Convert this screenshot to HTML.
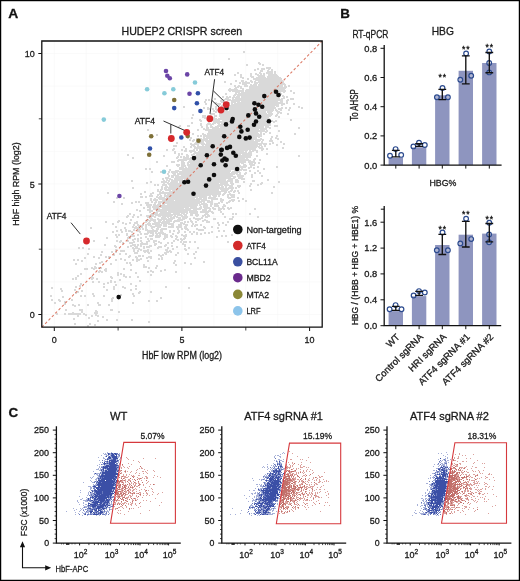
<!DOCTYPE html><html><head><meta charset="utf-8"><style>html,body{margin:0;padding:0;background:#fff;} svg{display:block} text{font-family:"Liberation Sans", sans-serif;stroke:#1a1a1a;stroke-width:0.3px;} svg{will-change:transform}</style></head><body>
<svg width="520" height="581" viewBox="0 0 520 581">
<defs><filter id="soft" x="-10%" y="-10%" width="120%" height="120%"><feGaussianBlur stdDeviation="0.35"/></filter></defs>
<rect x="0" y="0" width="520" height="581" fill="#fff"/>
<g>
<line x1="54.3" y1="41.0" x2="54.3" y2="327.2" stroke="#f7f7f7" stroke-width="0.6"/>
<line x1="41.8" y1="314.5" x2="322.2" y2="314.5" stroke="#f7f7f7" stroke-width="0.6"/>
<line x1="86.2" y1="41.0" x2="86.2" y2="327.2" stroke="#f7f7f7" stroke-width="0.6"/>
<line x1="41.8" y1="281.9" x2="322.2" y2="281.9" stroke="#f7f7f7" stroke-width="0.6"/>
<line x1="118.1" y1="41.0" x2="118.1" y2="327.2" stroke="#f7f7f7" stroke-width="0.6"/>
<line x1="41.8" y1="249.2" x2="322.2" y2="249.2" stroke="#f7f7f7" stroke-width="0.6"/>
<line x1="150.0" y1="41.0" x2="150.0" y2="327.2" stroke="#f7f7f7" stroke-width="0.6"/>
<line x1="41.8" y1="216.6" x2="322.2" y2="216.6" stroke="#f7f7f7" stroke-width="0.6"/>
<line x1="181.9" y1="41.0" x2="181.9" y2="327.2" stroke="#f7f7f7" stroke-width="0.6"/>
<line x1="41.8" y1="184.0" x2="322.2" y2="184.0" stroke="#f7f7f7" stroke-width="0.6"/>
<line x1="213.9" y1="41.0" x2="213.9" y2="327.2" stroke="#f7f7f7" stroke-width="0.6"/>
<line x1="41.8" y1="151.4" x2="322.2" y2="151.4" stroke="#f7f7f7" stroke-width="0.6"/>
<line x1="245.8" y1="41.0" x2="245.8" y2="327.2" stroke="#f7f7f7" stroke-width="0.6"/>
<line x1="41.8" y1="118.8" x2="322.2" y2="118.8" stroke="#f7f7f7" stroke-width="0.6"/>
<line x1="277.7" y1="41.0" x2="277.7" y2="327.2" stroke="#f7f7f7" stroke-width="0.6"/>
<line x1="41.8" y1="86.1" x2="322.2" y2="86.1" stroke="#f7f7f7" stroke-width="0.6"/>
<line x1="309.6" y1="41.0" x2="309.6" y2="327.2" stroke="#f7f7f7" stroke-width="0.6"/>
<line x1="41.8" y1="53.5" x2="322.2" y2="53.5" stroke="#f7f7f7" stroke-width="0.6"/>
<path fill="#d9d9d9" d="M243 51h2v1h-2zM243 52h2v1h-2zM228 58h2v1h-2zM228 59h2v1h-2zM258 62h2v1h-2zM258 63h3v1h-3zM246 64h2v1h-2zM259 64h2v1h-2zM262 64h2v1h-2zM246 65h2v1h-2zM262 65h2v1h-2zM266 67h5v1h-5zM257 68h2v1h-2zM261 68h4v1h-4zM266 68h5v1h-5zM254 69h2v1h-2zM257 69h2v1h-2zM261 69h4v1h-4zM268 69h2v1h-2zM271 69h2v1h-2zM254 70h2v1h-2zM260 70h3v1h-3zM267 70h2v1h-2zM271 70h2v1h-2zM260 71h3v1h-3zM267 71h6v1h-6zM274 71h2v1h-2zM237 72h2v1h-2zM259 72h2v1h-2zM266 72h7v1h-7zM274 72h2v1h-2zM237 73h2v1h-2zM250 73h2v1h-2zM255 73h2v1h-2zM259 73h3v1h-3zM263 73h2v1h-2zM266 73h7v1h-7zM274 73h2v1h-2zM216 74h2v1h-2zM234 74h2v1h-2zM240 74h2v1h-2zM250 74h2v1h-2zM255 74h4v1h-4zM260 74h2v1h-2zM263 74h2v1h-2zM268 74h9v1h-9zM216 75h2v1h-2zM234 75h2v1h-2zM240 75h2v1h-2zM250 75h2v1h-2zM257 75h8v1h-8zM268 75h10v1h-10zM240 76h2v1h-2zM250 76h4v1h-4zM258 76h7v1h-7zM267 76h12v1h-12zM240 77h4v1h-4zM251 77h3v1h-3zM256 77h10v1h-10zM267 77h14v1h-14zM242 78h2v1h-2zM247 78h2v1h-2zM253 78h29v1h-29zM247 79h2v1h-2zM253 79h29v1h-29zM235 80h2v1h-2zM241 80h3v1h-3zM250 80h2v1h-2zM255 80h28v1h-28zM224 81h2v1h-2zM235 81h2v1h-2zM241 81h3v1h-3zM245 81h2v1h-2zM250 81h3v1h-3zM254 81h2v1h-2zM258 81h26v1h-26zM224 82h2v1h-2zM239 82h2v1h-2zM242 82h8v1h-8zM251 82h2v1h-2zM254 82h30v1h-30zM230 83h2v1h-2zM239 83h2v1h-2zM242 83h8v1h-8zM254 83h4v1h-4zM259 83h26v1h-26zM230 84h2v1h-2zM242 84h5v1h-5zM250 84h2v1h-2zM253 84h4v1h-4zM258 84h28v1h-28zM234 85h2v1h-2zM238 85h2v1h-2zM244 85h4v1h-4zM250 85h7v1h-7zM258 85h25v1h-25zM284 85h2v1h-2zM288 85h2v1h-2zM234 86h2v1h-2zM237 86h5v1h-5zM244 86h4v1h-4zM249 86h34v1h-34zM284 86h3v1h-3zM288 86h2v1h-2zM235 87h4v1h-4zM240 87h2v1h-2zM249 87h38v1h-38zM229 88h2v1h-2zM234 88h3v1h-3zM240 88h4v1h-4zM249 88h37v1h-37zM228 89h10v1h-10zM242 89h2v1h-2zM246 89h39v1h-39zM228 90h16v1h-16zM245 90h41v1h-41zM290 90h2v1h-2zM229 91h2v1h-2zM232 91h12v1h-12zM245 91h41v1h-41zM290 91h2v1h-2zM235 92h5v1h-5zM241 92h40v1h-40zM283 92h2v1h-2zM293 92h2v1h-2zM225 93h2v1h-2zM235 93h2v1h-2zM238 93h44v1h-44zM293 93h2v1h-2zM225 94h2v1h-2zM234 94h44v1h-44zM279 94h3v1h-3zM233 95h3v1h-3zM237 95h44v1h-44zM282 95h2v1h-2zM222 96h2v1h-2zM226 96h2v1h-2zM229 96h2v1h-2zM233 96h2v1h-2zM236 96h4v1h-4zM241 96h38v1h-38zM282 96h3v1h-3zM286 96h2v1h-2zM222 97h2v1h-2zM226 97h5v1h-5zM232 97h8v1h-8zM241 97h39v1h-39zM283 97h2v1h-2zM286 97h2v1h-2zM214 98h2v1h-2zM225 98h4v1h-4zM232 98h2v1h-2zM235 98h45v1h-45zM281 98h4v1h-4zM290 98h4v1h-4zM205 99h2v1h-2zM208 99h2v1h-2zM214 99h2v1h-2zM223 99h8v1h-8zM232 99h51v1h-51zM287 99h2v1h-2zM290 99h4v1h-4zM205 100h2v1h-2zM208 100h2v1h-2zM220 100h2v1h-2zM223 100h2v1h-2zM227 100h56v1h-56zM286 100h3v1h-3zM204 101h2v1h-2zM220 101h5v1h-5zM231 101h9v1h-9zM241 101h37v1h-37zM280 101h3v1h-3zM286 101h2v1h-2zM204 102h2v1h-2zM215 102h2v1h-2zM221 102h9v1h-9zM231 102h5v1h-5zM237 102h46v1h-46zM286 102h2v1h-2zM205 103h2v1h-2zM215 103h6v1h-6zM223 103h7v1h-7zM231 103h2v1h-2zM234 103h51v1h-51zM286 103h2v1h-2zM293 103h2v1h-2zM205 104h2v1h-2zM217 104h4v1h-4zM225 104h2v1h-2zM231 104h48v1h-48zM281 104h4v1h-4zM293 104h2v1h-2zM218 105h2v1h-2zM221 105h2v1h-2zM225 105h54v1h-54zM281 105h2v1h-2zM183 106h2v1h-2zM215 106h2v1h-2zM221 106h2v1h-2zM226 106h49v1h-49zM276 106h3v1h-3zM298 106h2v1h-2zM183 107h2v1h-2zM203 107h2v1h-2zM207 107h2v1h-2zM215 107h2v1h-2zM223 107h5v1h-5zM229 107h47v1h-47zM281 107h2v1h-2zM285 107h2v1h-2zM289 107h2v1h-2zM298 107h2v1h-2zM301 107h2v1h-2zM203 108h2v1h-2zM207 108h3v1h-3zM212 108h2v1h-2zM215 108h2v1h-2zM219 108h2v1h-2zM223 108h53v1h-53zM278 108h5v1h-5zM285 108h2v1h-2zM289 108h2v1h-2zM301 108h2v1h-2zM207 109h3v1h-3zM212 109h2v1h-2zM215 109h3v1h-3zM219 109h3v1h-3zM223 109h51v1h-51zM275 109h2v1h-2zM278 109h4v1h-4zM288 109h2v1h-2zM213 110h2v1h-2zM216 110h2v1h-2zM219 110h3v1h-3zM223 110h5v1h-5zM229 110h45v1h-45zM275 110h3v1h-3zM280 110h2v1h-2zM288 110h2v1h-2zM213 111h4v1h-4zM218 111h48v1h-48zM267 111h6v1h-6zM276 111h4v1h-4zM215 112h2v1h-2zM218 112h48v1h-48zM267 112h5v1h-5zM277 112h5v1h-5zM210 113h5v1h-5zM219 113h48v1h-48zM268 113h5v1h-5zM277 113h2v1h-2zM280 113h2v1h-2zM287 113h2v1h-2zM192 114h2v1h-2zM210 114h5v1h-5zM219 114h54v1h-54zM276 114h2v1h-2zM287 114h2v1h-2zM192 115h2v1h-2zM202 115h4v1h-4zM207 115h2v1h-2zM214 115h3v1h-3zM219 115h53v1h-53zM275 115h3v1h-3zM202 116h4v1h-4zM207 116h2v1h-2zM210 116h2v1h-2zM214 116h3v1h-3zM219 116h52v1h-52zM275 116h2v1h-2zM278 116h2v1h-2zM191 117h2v1h-2zM202 117h4v1h-4zM207 117h5v1h-5zM213 117h2v1h-2zM220 117h49v1h-49zM278 117h2v1h-2zM191 118h2v1h-2zM204 118h2v1h-2zM207 118h10v1h-10zM218 118h52v1h-52zM199 119h2v1h-2zM208 119h2v1h-2zM211 119h59v1h-59zM290 119h2v1h-2zM199 120h3v1h-3zM209 120h2v1h-2zM213 120h7v1h-7zM222 120h51v1h-51zM275 120h2v1h-2zM290 120h2v1h-2zM200 121h2v1h-2zM209 121h2v1h-2zM213 121h54v1h-54zM268 121h9v1h-9zM191 122h2v1h-2zM208 122h2v1h-2zM213 122h55v1h-55zM273 122h2v1h-2zM191 123h2v1h-2zM200 123h2v1h-2zM207 123h4v1h-4zM212 123h4v1h-4zM217 123h3v1h-3zM221 123h47v1h-47zM269 123h2v1h-2zM200 124h2v1h-2zM206 124h8v1h-8zM218 124h53v1h-53zM179 125h2v1h-2zM187 125h3v1h-3zM200 125h2v1h-2zM206 125h2v1h-2zM210 125h2v1h-2zM217 125h54v1h-54zM274 125h4v1h-4zM178 126h3v1h-3zM187 126h3v1h-3zM201 126h2v1h-2zM206 126h2v1h-2zM210 126h3v1h-3zM215 126h49v1h-49zM265 126h4v1h-4zM274 126h4v1h-4zM178 127h2v1h-2zM201 127h2v1h-2zM206 127h3v1h-3zM210 127h9v1h-9zM220 127h44v1h-44zM265 127h6v1h-6zM298 127h2v1h-2zM203 128h2v1h-2zM206 128h3v1h-3zM212 128h55v1h-55zM269 128h2v1h-2zM298 128h2v1h-2zM147 129h2v1h-2zM197 129h2v1h-2zM203 129h56v1h-56zM260 129h7v1h-7zM147 130h2v1h-2zM188 130h2v1h-2zM197 130h2v1h-2zM205 130h60v1h-60zM266 130h2v1h-2zM278 130h2v1h-2zM188 131h2v1h-2zM208 131h60v1h-60zM278 131h2v1h-2zM208 132h50v1h-50zM260 132h2v1h-2zM265 132h2v1h-2zM269 132h2v1h-2zM192 133h2v1h-2zM202 133h2v1h-2zM207 133h52v1h-52zM260 133h2v1h-2zM263 133h2v1h-2zM269 133h2v1h-2zM294 133h2v1h-2zM156 134h2v1h-2zM192 134h2v1h-2zM202 134h4v1h-4zM207 134h55v1h-55zM263 134h2v1h-2zM294 134h2v1h-2zM156 135h2v1h-2zM181 135h2v1h-2zM197 135h2v1h-2zM200 135h2v1h-2zM203 135h59v1h-59zM276 135h2v1h-2zM181 136h2v1h-2zM187 136h2v1h-2zM197 136h2v1h-2zM200 136h2v1h-2zM203 136h59v1h-59zM271 136h2v1h-2zM276 136h2v1h-2zM187 137h2v1h-2zM190 137h2v1h-2zM203 137h2v1h-2zM206 137h51v1h-51zM258 137h2v1h-2zM271 137h2v1h-2zM275 137h2v1h-2zM172 138h2v1h-2zM187 138h2v1h-2zM190 138h2v1h-2zM196 138h6v1h-6zM203 138h54v1h-54zM260 138h2v1h-2zM270 138h2v1h-2zM275 138h4v1h-4zM172 139h2v1h-2zM189 139h2v1h-2zM193 139h2v1h-2zM196 139h12v1h-12zM209 139h55v1h-55zM270 139h2v1h-2zM277 139h2v1h-2zM189 140h2v1h-2zM192 140h3v1h-3zM197 140h2v1h-2zM200 140h54v1h-54zM255 140h6v1h-6zM262 140h2v1h-2zM269 140h4v1h-4zM192 141h2v1h-2zM196 141h2v1h-2zM200 141h4v1h-4zM205 141h55v1h-55zM261 141h2v1h-2zM269 141h4v1h-4zM280 141h2v1h-2zM176 142h2v1h-2zM195 142h3v1h-3zM199 142h5v1h-5zM206 142h52v1h-52zM261 142h2v1h-2zM272 142h2v1h-2zM280 142h2v1h-2zM176 143h2v1h-2zM190 143h2v1h-2zM194 143h11v1h-11zM206 143h61v1h-61zM269 143h2v1h-2zM272 143h2v1h-2zM283 143h2v1h-2zM190 144h9v1h-9zM201 144h61v1h-61zM263 144h4v1h-4zM269 144h2v1h-2zM276 144h2v1h-2zM283 144h2v1h-2zM173 145h4v1h-4zM191 145h4v1h-4zM197 145h2v1h-2zM202 145h2v1h-2zM205 145h53v1h-53zM259 145h3v1h-3zM264 145h2v1h-2zM276 145h2v1h-2zM173 146h4v1h-4zM183 146h2v1h-2zM190 146h2v1h-2zM193 146h3v1h-3zM197 146h63v1h-63zM261 146h2v1h-2zM264 146h2v1h-2zM183 147h2v1h-2zM190 147h2v1h-2zM194 147h63v1h-63zM258 147h5v1h-5zM282 147h2v1h-2zM173 148h2v1h-2zM185 148h2v1h-2zM194 148h62v1h-62zM259 148h5v1h-5zM266 148h2v1h-2zM282 148h2v1h-2zM166 149h2v1h-2zM172 149h3v1h-3zM181 149h2v1h-2zM185 149h2v1h-2zM193 149h2v1h-2zM196 149h2v1h-2zM199 149h57v1h-57zM261 149h3v1h-3zM266 149h2v1h-2zM166 150h2v1h-2zM172 150h2v1h-2zM181 150h2v1h-2zM184 150h3v1h-3zM189 150h6v1h-6zM196 150h2v1h-2zM199 150h49v1h-49zM249 150h2v1h-2zM252 150h6v1h-6zM261 150h2v1h-2zM174 151h2v1h-2zM184 151h3v1h-3zM189 151h7v1h-7zM198 151h46v1h-46zM245 151h2v1h-2zM249 151h5v1h-5zM256 151h2v1h-2zM174 152h2v1h-2zM190 152h2v1h-2zM194 152h53v1h-53zM248 152h4v1h-4zM256 152h2v1h-2zM174 153h2v1h-2zM178 153h2v1h-2zM181 153h2v1h-2zM193 153h59v1h-59zM266 153h2v1h-2zM127 154h2v1h-2zM178 154h2v1h-2zM181 154h2v1h-2zM186 154h2v1h-2zM191 154h4v1h-4zM196 154h45v1h-45zM242 154h10v1h-10zM266 154h2v1h-2zM127 155h2v1h-2zM163 155h2v1h-2zM178 155h2v1h-2zM186 155h3v1h-3zM191 155h2v1h-2zM195 155h57v1h-57zM256 155h2v1h-2zM298 155h2v1h-2zM163 156h2v1h-2zM177 156h2v1h-2zM180 156h2v1h-2zM183 156h2v1h-2zM186 156h3v1h-3zM192 156h2v1h-2zM195 156h56v1h-56zM256 156h2v1h-2zM298 156h2v1h-2zM132 157h2v1h-2zM176 157h3v1h-3zM180 157h2v1h-2zM183 157h6v1h-6zM190 157h4v1h-4zM195 157h56v1h-56zM132 158h2v1h-2zM176 158h2v1h-2zM183 158h62v1h-62zM246 158h2v1h-2zM254 158h2v1h-2zM178 159h71v1h-71zM253 159h3v1h-3zM259 159h2v1h-2zM177 160h10v1h-10zM189 160h62v1h-62zM253 160h2v1h-2zM259 160h2v1h-2zM156 161h2v1h-2zM171 161h4v1h-4zM177 161h2v1h-2zM181 161h3v1h-3zM188 161h58v1h-58zM248 161h7v1h-7zM156 162h2v1h-2zM171 162h4v1h-4zM181 162h4v1h-4zM187 162h59v1h-59zM248 162h8v1h-8zM258 162h2v1h-2zM181 163h4v1h-4zM187 163h2v1h-2zM190 163h50v1h-50zM241 163h3v1h-3zM249 163h4v1h-4zM254 163h2v1h-2zM258 163h2v1h-2zM176 164h4v1h-4zM181 164h4v1h-4zM187 164h53v1h-53zM243 164h3v1h-3zM249 164h6v1h-6zM166 165h2v1h-2zM176 165h4v1h-4zM181 165h5v1h-5zM187 165h54v1h-54zM243 165h4v1h-4zM250 165h5v1h-5zM166 166h2v1h-2zM177 166h2v1h-2zM181 166h5v1h-5zM188 166h59v1h-59zM250 166h2v1h-2zM257 166h2v1h-2zM276 166h2v1h-2zM179 167h5v1h-5zM185 167h2v1h-2zM188 167h58v1h-58zM248 167h4v1h-4zM253 167h2v1h-2zM257 167h2v1h-2zM276 167h2v1h-2zM145 168h2v1h-2zM149 168h2v1h-2zM179 168h61v1h-61zM241 168h2v1h-2zM248 168h2v1h-2zM253 168h2v1h-2zM263 168h2v1h-2zM145 169h2v1h-2zM149 169h2v1h-2zM169 169h2v1h-2zM179 169h68v1h-68zM263 169h2v1h-2zM169 170h2v1h-2zM175 170h4v1h-4zM182 170h49v1h-49zM234 170h8v1h-8zM243 170h4v1h-4zM249 170h2v1h-2zM257 170h2v1h-2zM151 171h2v1h-2zM160 171h2v1h-2zM168 171h2v1h-2zM171 171h60v1h-60zM232 171h8v1h-8zM249 171h2v1h-2zM257 171h2v1h-2zM151 172h2v1h-2zM160 172h2v1h-2zM168 172h2v1h-2zM171 172h7v1h-7zM179 172h51v1h-51zM231 172h10v1h-10zM245 172h2v1h-2zM254 172h2v1h-2zM259 172h2v1h-2zM167 173h2v1h-2zM172 173h4v1h-4zM177 173h61v1h-61zM239 173h2v1h-2zM244 173h3v1h-3zM254 173h2v1h-2zM259 173h2v1h-2zM167 174h2v1h-2zM173 174h3v1h-3zM177 174h58v1h-58zM236 174h5v1h-5zM244 174h2v1h-2zM251 174h2v1h-2zM168 175h2v1h-2zM171 175h8v1h-8zM181 175h52v1h-52zM237 175h7v1h-7zM251 175h2v1h-2zM261 175h2v1h-2zM168 176h2v1h-2zM171 176h3v1h-3zM175 176h61v1h-61zM237 176h7v1h-7zM251 176h2v1h-2zM261 176h2v1h-2zM165 177h4v1h-4zM171 177h3v1h-3zM175 177h56v1h-56zM233 177h3v1h-3zM238 177h5v1h-5zM251 177h2v1h-2zM162 178h2v1h-2zM165 178h6v1h-6zM174 178h61v1h-61zM238 178h7v1h-7zM162 179h2v1h-2zM166 179h2v1h-2zM169 179h4v1h-4zM174 179h9v1h-9zM184 179h42v1h-42zM228 179h5v1h-5zM235 179h3v1h-3zM241 179h4v1h-4zM267 179h2v1h-2zM131 180h2v1h-2zM163 180h2v1h-2zM166 180h4v1h-4zM171 180h55v1h-55zM227 180h6v1h-6zM235 180h4v1h-4zM252 180h3v1h-3zM267 180h2v1h-2zM131 181h2v1h-2zM150 181h2v1h-2zM161 181h6v1h-6zM168 181h2v1h-2zM171 181h7v1h-7zM179 181h54v1h-54zM235 181h4v1h-4zM243 181h2v1h-2zM252 181h3v1h-3zM278 181h2v1h-2zM146 182h2v1h-2zM150 182h2v1h-2zM161 182h8v1h-8zM170 182h8v1h-8zM179 182h49v1h-49zM230 182h3v1h-3zM235 182h4v1h-4zM243 182h2v1h-2zM261 182h2v1h-2zM278 182h2v1h-2zM146 183h2v1h-2zM163 183h2v1h-2zM167 183h52v1h-52zM220 183h8v1h-8zM230 183h4v1h-4zM250 183h2v1h-2zM260 183h3v1h-3zM154 184h2v1h-2zM157 184h2v1h-2zM162 184h5v1h-5zM168 184h61v1h-61zM231 184h3v1h-3zM250 184h2v1h-2zM257 184h2v1h-2zM260 184h2v1h-2zM154 185h2v1h-2zM157 185h2v1h-2zM162 185h5v1h-5zM169 185h54v1h-54zM224 185h9v1h-9zM237 185h4v1h-4zM249 185h2v1h-2zM257 185h2v1h-2zM161 186h2v1h-2zM165 186h3v1h-3zM169 186h51v1h-51zM221 186h3v1h-3zM225 186h2v1h-2zM229 186h4v1h-4zM237 186h4v1h-4zM249 186h2v1h-2zM273 186h2v1h-2zM132 187h2v1h-2zM161 187h2v1h-2zM164 187h60v1h-60zM225 187h2v1h-2zM228 187h6v1h-6zM235 187h2v1h-2zM238 187h2v1h-2zM273 187h2v1h-2zM132 188h2v1h-2zM161 188h2v1h-2zM164 188h3v1h-3zM168 188h66v1h-66zM235 188h2v1h-2zM157 189h2v1h-2zM160 189h3v1h-3zM164 189h55v1h-55zM220 189h9v1h-9zM231 189h2v1h-2zM250 189h2v1h-2zM157 190h2v1h-2zM160 190h2v1h-2zM165 190h6v1h-6zM172 190h47v1h-47zM221 190h7v1h-7zM230 190h3v1h-3zM234 190h2v1h-2zM237 190h2v1h-2zM250 190h2v1h-2zM144 191h2v1h-2zM157 191h4v1h-4zM162 191h2v1h-2zM169 191h58v1h-58zM228 191h4v1h-4zM233 191h3v1h-3zM237 191h2v1h-2zM107 192h2v1h-2zM144 192h2v1h-2zM152 192h2v1h-2zM159 192h62v1h-62zM224 192h3v1h-3zM228 192h2v1h-2zM233 192h2v1h-2zM238 192h2v1h-2zM271 192h2v1h-2zM107 193h2v1h-2zM140 193h2v1h-2zM150 193h4v1h-4zM159 193h62v1h-62zM223 193h3v1h-3zM229 193h2v1h-2zM238 193h2v1h-2zM271 193h2v1h-2zM140 194h2v1h-2zM150 194h2v1h-2zM157 194h4v1h-4zM164 194h2v1h-2zM167 194h54v1h-54zM222 194h3v1h-3zM227 194h8v1h-8zM149 195h4v1h-4zM157 195h2v1h-2zM160 195h2v1h-2zM164 195h47v1h-47zM212 195h5v1h-5zM218 195h2v1h-2zM222 195h2v1h-2zM227 195h2v1h-2zM230 195h5v1h-5zM140 196h3v1h-3zM145 196h2v1h-2zM149 196h4v1h-4zM156 196h2v1h-2zM159 196h3v1h-3zM164 196h43v1h-43zM209 196h2v1h-2zM213 196h4v1h-4zM218 196h2v1h-2zM227 196h2v1h-2zM231 196h4v1h-4zM116 197h2v1h-2zM123 197h2v1h-2zM140 197h3v1h-3zM145 197h2v1h-2zM156 197h9v1h-9zM166 197h32v1h-32zM199 197h8v1h-8zM208 197h8v1h-8zM227 197h8v1h-8zM237 197h2v1h-2zM116 198h2v1h-2zM123 198h2v1h-2zM150 198h2v1h-2zM154 198h2v1h-2zM158 198h37v1h-37zM196 198h6v1h-6zM203 198h4v1h-4zM208 198h10v1h-10zM220 198h2v1h-2zM228 198h3v1h-3zM237 198h2v1h-2zM242 198h2v1h-2zM150 199h2v1h-2zM153 199h5v1h-5zM159 199h48v1h-48zM211 199h7v1h-7zM220 199h4v1h-4zM231 199h4v1h-4zM242 199h2v1h-2zM150 200h2v1h-2zM153 200h5v1h-5zM162 200h12v1h-12zM175 200h25v1h-25zM201 200h9v1h-9zM211 200h2v1h-2zM220 200h4v1h-4zM229 200h6v1h-6zM238 200h2v1h-2zM245 200h2v1h-2zM113 201h2v1h-2zM135 201h2v1h-2zM138 201h2v1h-2zM151 201h2v1h-2zM155 201h2v1h-2zM158 201h47v1h-47zM207 201h6v1h-6zM220 201h3v1h-3zM228 201h3v1h-3zM232 201h2v1h-2zM238 201h2v1h-2zM245 201h2v1h-2zM113 202h2v1h-2zM131 202h2v1h-2zM135 202h2v1h-2zM138 202h2v1h-2zM145 202h4v1h-4zM151 202h2v1h-2zM154 202h3v1h-3zM158 202h44v1h-44zM203 202h2v1h-2zM207 202h6v1h-6zM218 202h2v1h-2zM221 202h2v1h-2zM226 202h4v1h-4zM121 203h2v1h-2zM131 203h2v1h-2zM145 203h4v1h-4zM154 203h2v1h-2zM158 203h3v1h-3zM162 203h38v1h-38zM201 203h6v1h-6zM210 203h3v1h-3zM214 203h6v1h-6zM226 203h2v1h-2zM121 204h2v1h-2zM140 204h2v1h-2zM146 204h6v1h-6zM153 204h3v1h-3zM157 204h4v1h-4zM162 204h3v1h-3zM167 204h31v1h-31zM199 204h9v1h-9zM210 204h3v1h-3zM214 204h4v1h-4zM223 204h2v1h-2zM140 205h2v1h-2zM146 205h6v1h-6zM153 205h45v1h-45zM199 205h2v1h-2zM203 205h5v1h-5zM210 205h2v1h-2zM214 205h5v1h-5zM223 205h3v1h-3zM147 206h4v1h-4zM152 206h45v1h-45zM200 206h2v1h-2zM203 206h5v1h-5zM210 206h2v1h-2zM214 206h5v1h-5zM222 206h4v1h-4zM143 207h2v1h-2zM147 207h4v1h-4zM152 207h7v1h-7zM160 207h29v1h-29zM190 207h7v1h-7zM199 207h3v1h-3zM203 207h7v1h-7zM212 207h2v1h-2zM218 207h2v1h-2zM222 207h2v1h-2zM227 207h2v1h-2zM230 207h2v1h-2zM143 208h2v1h-2zM149 208h2v1h-2zM153 208h7v1h-7zM162 208h22v1h-22zM185 208h17v1h-17zM204 208h7v1h-7zM212 208h4v1h-4zM218 208h7v1h-7zM227 208h5v1h-5zM254 208h2v1h-2zM136 209h2v1h-2zM147 209h4v1h-4zM153 209h38v1h-38zM193 209h8v1h-8zM202 209h5v1h-5zM209 209h2v1h-2zM213 209h3v1h-3zM218 209h4v1h-4zM223 209h2v1h-2zM228 209h2v1h-2zM254 209h2v1h-2zM136 210h2v1h-2zM139 210h2v1h-2zM147 210h6v1h-6zM156 210h41v1h-41zM202 210h5v1h-5zM208 210h3v1h-3zM218 210h3v1h-3zM139 211h2v1h-2zM149 211h4v1h-4zM156 211h11v1h-11zM168 211h20v1h-20zM189 211h9v1h-9zM200 211h13v1h-13zM220 211h2v1h-2zM149 212h2v1h-2zM153 212h5v1h-5zM160 212h28v1h-28zM189 212h9v1h-9zM200 212h9v1h-9zM211 212h3v1h-3zM220 212h2v1h-2zM129 213h2v1h-2zM151 213h7v1h-7zM159 213h12v1h-12zM173 213h7v1h-7zM181 213h4v1h-4zM186 213h2v1h-2zM190 213h8v1h-8zM205 213h3v1h-3zM212 213h2v1h-2zM222 213h2v1h-2zM232 213h2v1h-2zM235 213h2v1h-2zM249 213h2v1h-2zM129 214h2v1h-2zM133 214h2v1h-2zM140 214h2v1h-2zM150 214h32v1h-32zM183 214h4v1h-4zM190 214h3v1h-3zM195 214h4v1h-4zM204 214h5v1h-5zM222 214h2v1h-2zM232 214h2v1h-2zM235 214h2v1h-2zM249 214h2v1h-2zM127 215h2v1h-2zM133 215h2v1h-2zM140 215h2v1h-2zM146 215h8v1h-8zM155 215h18v1h-18zM174 215h2v1h-2zM177 215h6v1h-6zM184 215h3v1h-3zM190 215h3v1h-3zM195 215h4v1h-4zM202 215h4v1h-4zM207 215h3v1h-3zM126 216h3v1h-3zM132 216h2v1h-2zM137 216h2v1h-2zM146 216h10v1h-10zM158 216h3v1h-3zM162 216h10v1h-10zM173 216h5v1h-5zM181 216h7v1h-7zM196 216h2v1h-2zM202 216h2v1h-2zM205 216h5v1h-5zM224 216h2v1h-2zM232 216h2v1h-2zM257 216h2v1h-2zM126 217h2v1h-2zM132 217h2v1h-2zM137 217h2v1h-2zM147 217h5v1h-5zM154 217h2v1h-2zM161 217h5v1h-5zM167 217h2v1h-2zM170 217h5v1h-5zM176 217h5v1h-5zM182 217h6v1h-6zM193 217h2v1h-2zM201 217h2v1h-2zM205 217h3v1h-3zM224 217h2v1h-2zM232 217h2v1h-2zM257 217h2v1h-2zM149 218h4v1h-4zM157 218h2v1h-2zM161 218h6v1h-6zM168 218h7v1h-7zM178 218h3v1h-3zM182 218h5v1h-5zM189 218h2v1h-2zM193 218h10v1h-10zM213 218h3v1h-3zM229 218h4v1h-4zM130 219h2v1h-2zM147 219h2v1h-2zM150 219h6v1h-6zM157 219h16v1h-16zM177 219h8v1h-8zM189 219h2v1h-2zM195 219h6v1h-6zM204 219h2v1h-2zM213 219h3v1h-3zM229 219h4v1h-4zM118 220h2v1h-2zM130 220h2v1h-2zM145 220h11v1h-11zM158 220h4v1h-4zM163 220h2v1h-2zM166 220h6v1h-6zM174 220h9v1h-9zM190 220h2v1h-2zM197 220h2v1h-2zM202 220h6v1h-6zM105 221h2v1h-2zM117 221h3v1h-3zM136 221h2v1h-2zM145 221h3v1h-3zM149 221h2v1h-2zM153 221h3v1h-3zM158 221h3v1h-3zM162 221h10v1h-10zM173 221h7v1h-7zM184 221h2v1h-2zM187 221h2v1h-2zM190 221h3v1h-3zM195 221h2v1h-2zM202 221h2v1h-2zM206 221h4v1h-4zM227 221h2v1h-2zM105 222h2v1h-2zM117 222h2v1h-2zM122 222h2v1h-2zM129 222h2v1h-2zM134 222h4v1h-4zM145 222h2v1h-2zM148 222h2v1h-2zM154 222h16v1h-16zM173 222h2v1h-2zM180 222h3v1h-3zM184 222h2v1h-2zM187 222h2v1h-2zM191 222h2v1h-2zM195 222h2v1h-2zM206 222h4v1h-4zM217 222h2v1h-2zM222 222h2v1h-2zM227 222h2v1h-2zM112 223h2v1h-2zM122 223h2v1h-2zM125 223h2v1h-2zM129 223h2v1h-2zM134 223h4v1h-4zM147 223h4v1h-4zM152 223h8v1h-8zM161 223h13v1h-13zM180 223h5v1h-5zM192 223h2v1h-2zM217 223h2v1h-2zM222 223h2v1h-2zM112 224h2v1h-2zM125 224h2v1h-2zM133 224h2v1h-2zM137 224h2v1h-2zM142 224h2v1h-2zM145 224h6v1h-6zM152 224h10v1h-10zM163 224h4v1h-4zM168 224h6v1h-6zM178 224h4v1h-4zM183 224h5v1h-5zM192 224h2v1h-2zM195 224h3v1h-3zM200 224h2v1h-2zM218 224h2v1h-2zM225 224h2v1h-2zM133 225h2v1h-2zM137 225h7v1h-7zM145 225h2v1h-2zM148 225h4v1h-4zM155 225h7v1h-7zM163 225h4v1h-4zM171 225h3v1h-3zM178 225h4v1h-4zM185 225h3v1h-3zM191 225h2v1h-2zM194 225h4v1h-4zM200 225h2v1h-2zM218 225h2v1h-2zM225 225h2v1h-2zM115 226h2v1h-2zM132 226h2v1h-2zM135 226h2v1h-2zM138 226h5v1h-5zM145 226h2v1h-2zM150 226h11v1h-11zM163 226h4v1h-4zM168 226h6v1h-6zM176 226h6v1h-6zM184 226h3v1h-3zM191 226h2v1h-2zM194 226h2v1h-2zM203 226h2v1h-2zM211 226h2v1h-2zM90 227h2v1h-2zM115 227h2v1h-2zM124 227h2v1h-2zM132 227h8v1h-8zM141 227h2v1h-2zM145 227h2v1h-2zM151 227h4v1h-4zM157 227h4v1h-4zM168 227h6v1h-6zM176 227h6v1h-6zM184 227h3v1h-3zM203 227h3v1h-3zM211 227h2v1h-2zM217 227h2v1h-2zM90 228h2v1h-2zM124 228h2v1h-2zM134 228h7v1h-7zM142 228h2v1h-2zM145 228h2v1h-2zM151 228h2v1h-2zM156 228h3v1h-3zM161 228h6v1h-6zM177 228h2v1h-2zM181 228h2v1h-2zM184 228h4v1h-4zM196 228h2v1h-2zM204 228h2v1h-2zM217 228h2v1h-2zM120 229h2v1h-2zM125 229h2v1h-2zM133 229h2v1h-2zM138 229h3v1h-3zM142 229h2v1h-2zM145 229h3v1h-3zM152 229h2v1h-2zM156 229h3v1h-3zM160 229h7v1h-7zM177 229h2v1h-2zM181 229h2v1h-2zM185 229h4v1h-4zM196 229h8v1h-8zM234 229h2v1h-2zM116 230h2v1h-2zM120 230h2v1h-2zM125 230h2v1h-2zM128 230h3v1h-3zM133 230h2v1h-2zM137 230h3v1h-3zM145 230h13v1h-13zM160 230h3v1h-3zM169 230h2v1h-2zM173 230h2v1h-2zM178 230h2v1h-2zM187 230h2v1h-2zM198 230h6v1h-6zM218 230h2v1h-2zM223 230h2v1h-2zM234 230h2v1h-2zM112 231h2v1h-2zM116 231h2v1h-2zM121 231h2v1h-2zM125 231h2v1h-2zM128 231h5v1h-5zM137 231h4v1h-4zM147 231h11v1h-11zM160 231h3v1h-3zM169 231h2v1h-2zM173 231h2v1h-2zM178 231h2v1h-2zM184 231h2v1h-2zM189 231h2v1h-2zM193 231h2v1h-2zM211 231h2v1h-2zM218 231h2v1h-2zM223 231h2v1h-2zM236 231h2v1h-2zM112 232h2v1h-2zM121 232h2v1h-2zM131 232h2v1h-2zM139 232h2v1h-2zM147 232h7v1h-7zM155 232h2v1h-2zM158 232h6v1h-6zM169 232h2v1h-2zM177 232h3v1h-3zM184 232h2v1h-2zM189 232h2v1h-2zM193 232h2v1h-2zM196 232h2v1h-2zM204 232h2v1h-2zM208 232h2v1h-2zM211 232h2v1h-2zM236 232h2v1h-2zM126 233h2v1h-2zM140 233h2v1h-2zM144 233h5v1h-5zM150 233h4v1h-4zM155 233h11v1h-11zM172 233h2v1h-2zM177 233h2v1h-2zM191 233h2v1h-2zM196 233h2v1h-2zM200 233h2v1h-2zM204 233h2v1h-2zM208 233h2v1h-2zM115 234h2v1h-2zM118 234h2v1h-2zM126 234h2v1h-2zM131 234h2v1h-2zM137 234h2v1h-2zM140 234h2v1h-2zM144 234h4v1h-4zM152 234h2v1h-2zM156 234h2v1h-2zM159 234h2v1h-2zM162 234h6v1h-6zM172 234h2v1h-2zM181 234h2v1h-2zM185 234h2v1h-2zM191 234h2v1h-2zM196 234h2v1h-2zM200 234h2v1h-2zM231 234h2v1h-2zM115 235h2v1h-2zM118 235h2v1h-2zM126 235h2v1h-2zM130 235h5v1h-5zM137 235h2v1h-2zM149 235h5v1h-5zM155 235h6v1h-6zM164 235h4v1h-4zM170 235h2v1h-2zM175 235h2v1h-2zM181 235h6v1h-6zM221 235h2v1h-2zM225 235h2v1h-2zM231 235h2v1h-2zM116 236h2v1h-2zM128 236h7v1h-7zM145 236h2v1h-2zM149 236h4v1h-4zM155 236h6v1h-6zM164 236h4v1h-4zM170 236h3v1h-3zM175 236h3v1h-3zM183 236h4v1h-4zM216 236h2v1h-2zM221 236h2v1h-2zM225 236h2v1h-2zM106 237h2v1h-2zM116 237h2v1h-2zM127 237h4v1h-4zM140 237h2v1h-2zM145 237h2v1h-2zM155 237h5v1h-5zM164 237h4v1h-4zM171 237h2v1h-2zM176 237h2v1h-2zM184 237h2v1h-2zM216 237h2v1h-2zM106 238h2v1h-2zM127 238h4v1h-4zM134 238h2v1h-2zM137 238h2v1h-2zM140 238h2v1h-2zM147 238h2v1h-2zM150 238h3v1h-3zM163 238h3v1h-3zM175 238h2v1h-2zM180 238h2v1h-2zM183 238h3v1h-3zM132 239h4v1h-4zM137 239h2v1h-2zM147 239h2v1h-2zM150 239h3v1h-3zM163 239h2v1h-2zM175 239h4v1h-4zM180 239h5v1h-5zM93 240h2v1h-2zM116 240h2v1h-2zM120 240h2v1h-2zM127 240h2v1h-2zM132 240h2v1h-2zM137 240h2v1h-2zM140 240h2v1h-2zM148 240h2v1h-2zM153 240h4v1h-4zM173 240h2v1h-2zM177 240h2v1h-2zM181 240h2v1h-2zM93 241h2v1h-2zM116 241h2v1h-2zM119 241h3v1h-3zM127 241h2v1h-2zM133 241h2v1h-2zM137 241h2v1h-2zM140 241h2v1h-2zM146 241h4v1h-4zM153 241h4v1h-4zM158 241h2v1h-2zM173 241h2v1h-2zM180 241h2v1h-2zM183 241h4v1h-4zM189 241h2v1h-2zM194 241h2v1h-2zM227 241h2v1h-2zM119 242h2v1h-2zM122 242h2v1h-2zM129 242h6v1h-6zM141 242h2v1h-2zM146 242h2v1h-2zM153 242h2v1h-2zM158 242h4v1h-4zM167 242h2v1h-2zM171 242h2v1h-2zM180 242h2v1h-2zM183 242h4v1h-4zM189 242h2v1h-2zM194 242h2v1h-2zM227 242h2v1h-2zM122 243h2v1h-2zM129 243h4v1h-4zM140 243h8v1h-8zM154 243h3v1h-3zM160 243h2v1h-2zM167 243h2v1h-2zM171 243h2v1h-2zM182 243h2v1h-2zM104 244h2v1h-2zM132 244h4v1h-4zM137 244h2v1h-2zM140 244h8v1h-8zM154 244h3v1h-3zM165 244h2v1h-2zM182 244h4v1h-4zM104 245h2v1h-2zM114 245h2v1h-2zM130 245h6v1h-6zM137 245h2v1h-2zM140 245h2v1h-2zM149 245h3v1h-3zM154 245h2v1h-2zM164 245h3v1h-3zM171 245h2v1h-2zM184 245h2v1h-2zM114 246h3v1h-3zM127 246h2v1h-2zM130 246h2v1h-2zM134 246h4v1h-4zM140 246h2v1h-2zM143 246h2v1h-2zM146 246h6v1h-6zM158 246h4v1h-4zM164 246h2v1h-2zM171 246h2v1h-2zM176 246h2v1h-2zM184 246h2v1h-2zM78 247h2v1h-2zM82 247h2v1h-2zM115 247h2v1h-2zM127 247h2v1h-2zM132 247h2v1h-2zM135 247h3v1h-3zM143 247h2v1h-2zM146 247h4v1h-4zM157 247h5v1h-5zM167 247h2v1h-2zM176 247h2v1h-2zM188 247h2v1h-2zM197 247h2v1h-2zM78 248h2v1h-2zM82 248h2v1h-2zM88 248h2v1h-2zM132 248h8v1h-8zM143 248h2v1h-2zM157 248h2v1h-2zM167 248h2v1h-2zM172 248h2v1h-2zM184 248h2v1h-2zM188 248h2v1h-2zM197 248h2v1h-2zM88 249h2v1h-2zM115 249h2v1h-2zM133 249h2v1h-2zM138 249h4v1h-4zM147 249h2v1h-2zM165 249h3v1h-3zM172 249h2v1h-2zM184 249h3v1h-3zM115 250h2v1h-2zM120 250h5v1h-5zM133 250h2v1h-2zM137 250h2v1h-2zM140 250h2v1h-2zM143 250h6v1h-6zM150 250h2v1h-2zM165 250h3v1h-3zM169 250h2v1h-2zM185 250h2v1h-2zM101 251h2v1h-2zM111 251h2v1h-2zM115 251h2v1h-2zM120 251h5v1h-5zM133 251h2v1h-2zM137 251h2v1h-2zM143 251h6v1h-6zM150 251h2v1h-2zM166 251h6v1h-6zM195 251h2v1h-2zM101 252h2v1h-2zM111 252h2v1h-2zM115 252h2v1h-2zM134 252h4v1h-4zM144 252h2v1h-2zM147 252h3v1h-3zM164 252h5v1h-5zM170 252h2v1h-2zM177 252h2v1h-2zM195 252h2v1h-2zM87 253h2v1h-2zM119 253h2v1h-2zM125 253h2v1h-2zM134 253h4v1h-4zM148 253h2v1h-2zM164 253h3v1h-3zM177 253h2v1h-2zM187 253h2v1h-2zM193 253h2v1h-2zM87 254h2v1h-2zM100 254h2v1h-2zM113 254h2v1h-2zM119 254h2v1h-2zM125 254h2v1h-2zM158 254h2v1h-2zM162 254h2v1h-2zM165 254h2v1h-2zM175 254h2v1h-2zM187 254h2v1h-2zM193 254h2v1h-2zM100 255h2v1h-2zM113 255h2v1h-2zM129 255h2v1h-2zM138 255h3v1h-3zM142 255h2v1h-2zM158 255h6v1h-6zM175 255h2v1h-2zM93 256h2v1h-2zM105 256h2v1h-2zM108 256h2v1h-2zM128 256h3v1h-3zM135 256h2v1h-2zM138 256h3v1h-3zM142 256h2v1h-2zM148 256h4v1h-4zM160 256h2v1h-2zM84 257h2v1h-2zM93 257h2v1h-2zM98 257h2v1h-2zM105 257h2v1h-2zM108 257h2v1h-2zM128 257h2v1h-2zM135 257h3v1h-3zM146 257h6v1h-6zM161 257h2v1h-2zM194 257h2v1h-2zM84 258h2v1h-2zM98 258h2v1h-2zM108 258h2v1h-2zM120 258h2v1h-2zM136 258h2v1h-2zM140 258h2v1h-2zM146 258h2v1h-2zM150 258h2v1h-2zM158 258h2v1h-2zM161 258h2v1h-2zM194 258h2v1h-2zM73 259h2v1h-2zM77 259h2v1h-2zM115 259h2v1h-2zM120 259h2v1h-2zM124 259h2v1h-2zM132 259h2v1h-2zM136 259h6v1h-6zM158 259h2v1h-2zM161 259h2v1h-2zM73 260h2v1h-2zM77 260h2v1h-2zM81 260h2v1h-2zM115 260h2v1h-2zM124 260h2v1h-2zM132 260h2v1h-2zM136 260h4v1h-4zM147 260h2v1h-2zM174 260h2v1h-2zM81 261h2v1h-2zM101 261h2v1h-2zM136 261h2v1h-2zM147 261h2v1h-2zM174 261h2v1h-2zM203 261h2v1h-2zM99 262h4v1h-4zM126 262h2v1h-2zM129 262h2v1h-2zM173 262h2v1h-2zM184 262h2v1h-2zM203 262h2v1h-2zM75 263h2v1h-2zM95 263h2v1h-2zM99 263h2v1h-2zM110 263h2v1h-2zM126 263h2v1h-2zM129 263h2v1h-2zM173 263h2v1h-2zM184 263h2v1h-2zM190 263h2v1h-2zM75 264h2v1h-2zM95 264h2v1h-2zM110 264h2v1h-2zM130 264h2v1h-2zM143 264h2v1h-2zM175 264h2v1h-2zM190 264h2v1h-2zM130 265h2v1h-2zM143 265h2v1h-2zM156 265h2v1h-2zM175 265h2v1h-2zM94 266h2v1h-2zM143 266h4v1h-4zM156 266h2v1h-2zM91 267h2v1h-2zM94 267h3v1h-3zM98 267h4v1h-4zM143 267h4v1h-4zM148 267h2v1h-2zM155 267h2v1h-2zM84 268h4v1h-4zM91 268h6v1h-6zM98 268h4v1h-4zM105 268h2v1h-2zM123 268h2v1h-2zM148 268h2v1h-2zM155 268h2v1h-2zM84 269h4v1h-4zM93 269h2v1h-2zM104 269h3v1h-3zM123 269h2v1h-2zM130 269h2v1h-2zM164 269h2v1h-2zM99 270h2v1h-2zM104 270h3v1h-3zM130 270h2v1h-2zM150 270h2v1h-2zM160 270h2v1h-2zM164 270h2v1h-2zM98 271h5v1h-5zM105 271h2v1h-2zM147 271h2v1h-2zM150 271h4v1h-4zM160 271h2v1h-2zM175 271h2v1h-2zM98 272h2v1h-2zM101 272h2v1h-2zM117 272h2v1h-2zM135 272h2v1h-2zM147 272h2v1h-2zM152 272h2v1h-2zM175 272h2v1h-2zM80 273h2v1h-2zM117 273h2v1h-2zM120 273h2v1h-2zM135 273h2v1h-2zM80 274h2v1h-2zM117 274h2v1h-2zM120 274h2v1h-2zM123 274h2v1h-2zM150 274h2v1h-2zM77 275h2v1h-2zM117 275h2v1h-2zM123 275h2v1h-2zM150 275h2v1h-2zM77 276h2v1h-2zM91 276h2v1h-2zM110 276h2v1h-2zM123 276h4v1h-4zM129 276h2v1h-2zM137 276h2v1h-2zM75 277h2v1h-2zM91 277h3v1h-3zM110 277h3v1h-3zM125 277h2v1h-2zM129 277h2v1h-2zM137 277h2v1h-2zM72 278h2v1h-2zM75 278h2v1h-2zM91 278h3v1h-3zM96 278h2v1h-2zM111 278h2v1h-2zM72 279h2v1h-2zM75 279h2v1h-2zM91 279h2v1h-2zM96 279h2v1h-2zM119 279h2v1h-2zM110 280h2v1h-2zM119 280h2v1h-2zM139 280h2v1h-2zM92 281h2v1h-2zM98 281h2v1h-2zM110 281h2v1h-2zM114 281h2v1h-2zM139 281h2v1h-2zM92 282h2v1h-2zM98 282h2v1h-2zM107 282h2v1h-2zM110 282h2v1h-2zM114 282h2v1h-2zM80 283h2v1h-2zM103 283h2v1h-2zM107 283h2v1h-2zM130 283h2v1h-2zM80 284h2v1h-2zM103 284h2v1h-2zM115 284h2v1h-2zM130 284h2v1h-2zM79 285h2v1h-2zM115 285h2v1h-2zM135 285h2v1h-2zM75 286h2v1h-2zM79 286h2v1h-2zM103 286h2v1h-2zM113 286h2v1h-2zM122 286h2v1h-2zM135 286h2v1h-2zM165 286h2v1h-2zM51 287h2v1h-2zM75 287h2v1h-2zM103 287h2v1h-2zM113 287h2v1h-2zM122 287h4v1h-4zM165 287h2v1h-2zM188 287h2v1h-2zM51 288h2v1h-2zM60 288h2v1h-2zM113 288h2v1h-2zM124 288h2v1h-2zM135 288h2v1h-2zM188 288h2v1h-2zM60 289h2v1h-2zM74 289h2v1h-2zM106 289h2v1h-2zM113 289h2v1h-2zM130 289h2v1h-2zM135 289h2v1h-2zM61 290h2v1h-2zM74 290h2v1h-2zM81 290h2v1h-2zM106 290h2v1h-2zM130 290h2v1h-2zM61 291h2v1h-2zM77 291h2v1h-2zM81 291h2v1h-2zM139 291h2v1h-2zM150 291h2v1h-2zM75 292h4v1h-4zM138 292h3v1h-3zM150 292h2v1h-2zM75 293h2v1h-2zM92 293h2v1h-2zM132 293h2v1h-2zM138 293h2v1h-2zM92 294h2v1h-2zM120 294h2v1h-2zM132 294h2v1h-2zM50 295h2v1h-2zM80 295h2v1h-2zM84 295h2v1h-2zM93 295h2v1h-2zM103 295h2v1h-2zM120 295h2v1h-2zM133 295h2v1h-2zM50 296h2v1h-2zM62 296h2v1h-2zM80 296h2v1h-2zM84 296h2v1h-2zM93 296h2v1h-2zM103 296h2v1h-2zM133 296h2v1h-2zM62 297h2v1h-2zM112 297h2v1h-2zM160 297h2v1h-2zM111 298h3v1h-3zM160 298h2v1h-2zM51 299h2v1h-2zM58 299h2v1h-2zM71 299h2v1h-2zM111 299h2v1h-2zM51 300h2v1h-2zM58 300h3v1h-3zM71 300h2v1h-2zM111 300h2v1h-2zM148 300h2v1h-2zM156 300h2v1h-2zM59 301h2v1h-2zM64 301h2v1h-2zM111 301h2v1h-2zM148 301h2v1h-2zM156 301h2v1h-2zM54 302h2v1h-2zM64 302h2v1h-2zM97 302h2v1h-2zM132 302h2v1h-2zM54 303h2v1h-2zM64 303h2v1h-2zM97 303h2v1h-2zM132 303h2v1h-2zM64 304h2v1h-2zM72 304h2v1h-2zM78 304h2v1h-2zM87 304h2v1h-2zM98 304h3v1h-3zM108 304h2v1h-2zM72 305h4v1h-4zM78 305h2v1h-2zM87 305h2v1h-2zM98 305h3v1h-3zM108 305h2v1h-2zM74 306h2v1h-2zM65 309h2v1h-2zM79 309h4v1h-4zM110 309h3v1h-3zM65 310h2v1h-2zM79 310h4v1h-4zM95 310h2v1h-2zM110 310h3v1h-3zM81 311h2v1h-2zM95 311h3v1h-3zM118 311h2v1h-2zM72 312h2v1h-2zM81 312h2v1h-2zM94 312h4v1h-4zM118 312h2v1h-2zM56 313h2v1h-2zM64 313h2v1h-2zM68 313h13v1h-13zM83 313h2v1h-2zM94 313h4v1h-4zM56 314h2v1h-2zM64 314h2v1h-2zM68 314h13v1h-13zM83 314h4v1h-4zM95 314h2v1h-2zM77 315h2v1h-2zM85 315h2v1h-2zM91 315h2v1h-2zM95 315h4v1h-4zM77 316h2v1h-2zM91 316h2v1h-2zM97 316h2v1h-2zM102 316h2v1h-2zM88 317h2v1h-2zM102 317h2v1h-2zM73 318h2v1h-2zM88 318h2v1h-2zM73 319h2v1h-2zM106 319h2v1h-2zM116 319h2v1h-2zM131 319h2v1h-2zM97 320h2v1h-2zM106 320h2v1h-2zM116 320h2v1h-2zM131 320h2v1h-2zM97 321h2v1h-2zM148 321h2v1h-2zM148 322h2v1h-2zM74 323h2v1h-2zM89 323h2v1h-2zM74 324h2v1h-2zM89 324h2v1h-2zM94 324h2v1h-2zM87 325h2v1h-2zM94 325h2v1h-2zM87 326h2v1h-2z"/>
<line x1="41.8" y1="327.2" x2="322.2" y2="41.0" stroke="#dc7a66" stroke-width="1.05" stroke-dasharray="2.6 2.2"/>
<circle cx="276" cy="91.7" r="2.3" fill="#0d0d0d"/>
<circle cx="278.5" cy="95" r="2.3" fill="#0d0d0d"/>
<circle cx="264.3" cy="96.1" r="2.3" fill="#0d0d0d"/>
<circle cx="254.4" cy="103.3" r="2.3" fill="#0d0d0d"/>
<circle cx="258.4" cy="104.8" r="2.3" fill="#0d0d0d"/>
<circle cx="262.2" cy="106.8" r="2.3" fill="#0d0d0d"/>
<circle cx="254.9" cy="109.4" r="2.3" fill="#0d0d0d"/>
<circle cx="256" cy="113.4" r="2.3" fill="#0d0d0d"/>
<circle cx="259.2" cy="116.8" r="2.3" fill="#0d0d0d"/>
<circle cx="248.3" cy="115.4" r="2.3" fill="#0d0d0d"/>
<circle cx="226.5" cy="107.9" r="2.3" fill="#0d0d0d"/>
<circle cx="232.7" cy="119" r="2.3" fill="#0d0d0d"/>
<circle cx="232" cy="121.4" r="2.3" fill="#0d0d0d"/>
<circle cx="226" cy="124.4" r="2.3" fill="#0d0d0d"/>
<circle cx="256" cy="121.5" r="2.3" fill="#0d0d0d"/>
<circle cx="254" cy="124.7" r="2.3" fill="#0d0d0d"/>
<circle cx="268.9" cy="121.3" r="2.3" fill="#0d0d0d"/>
<circle cx="240.3" cy="126.7" r="2.3" fill="#0d0d0d"/>
<circle cx="241.4" cy="131.4" r="2.3" fill="#0d0d0d"/>
<circle cx="247.7" cy="129.8" r="2.3" fill="#0d0d0d"/>
<circle cx="239.3" cy="136.9" r="2.3" fill="#0d0d0d"/>
<circle cx="245.8" cy="138.4" r="2.3" fill="#0d0d0d"/>
<circle cx="249.6" cy="137.6" r="2.3" fill="#0d0d0d"/>
<circle cx="224.2" cy="136.3" r="2.3" fill="#0d0d0d"/>
<circle cx="212.7" cy="146.3" r="2.3" fill="#0d0d0d"/>
<circle cx="227.1" cy="147.9" r="2.3" fill="#0d0d0d"/>
<circle cx="230" cy="146.9" r="2.3" fill="#0d0d0d"/>
<circle cx="221.7" cy="149.8" r="2.3" fill="#0d0d0d"/>
<circle cx="233.3" cy="152.7" r="2.3" fill="#0d0d0d"/>
<circle cx="235.8" cy="155.8" r="2.3" fill="#0d0d0d"/>
<circle cx="206.9" cy="155.2" r="2.3" fill="#0d0d0d"/>
<circle cx="220.8" cy="154.6" r="2.3" fill="#0d0d0d"/>
<circle cx="224.6" cy="158.6" r="2.3" fill="#0d0d0d"/>
<circle cx="222.3" cy="160.5" r="2.3" fill="#0d0d0d"/>
<circle cx="226.6" cy="159.8" r="2.3" fill="#0d0d0d"/>
<circle cx="225.6" cy="165.3" r="2.3" fill="#0d0d0d"/>
<circle cx="214" cy="164.3" r="2.3" fill="#0d0d0d"/>
<circle cx="194" cy="158.1" r="2.3" fill="#0d0d0d"/>
<circle cx="200.7" cy="165.3" r="2.3" fill="#0d0d0d"/>
<circle cx="237.1" cy="169" r="2.3" fill="#0d0d0d"/>
<circle cx="221.3" cy="150" r="2.3" fill="#0d0d0d"/>
<circle cx="184.4" cy="182.3" r="2.3" fill="#0d0d0d"/>
<circle cx="188.1" cy="181.7" r="2.3" fill="#0d0d0d"/>
<circle cx="209.2" cy="179.4" r="2.3" fill="#0d0d0d"/>
<circle cx="214" cy="175" r="2.3" fill="#0d0d0d"/>
<circle cx="206" cy="185.6" r="2.3" fill="#0d0d0d"/>
<circle cx="193.5" cy="193.8" r="2.3" fill="#0d0d0d"/>
<circle cx="118.7" cy="297.1" r="2.3" fill="#0d0d0d"/>
<circle cx="166" cy="71" r="2.3" fill="#6b45a6"/>
<circle cx="167.3" cy="75.8" r="2.3" fill="#6b45a6"/>
<circle cx="169.8" cy="78.3" r="2.3" fill="#6b45a6"/>
<circle cx="187.2" cy="74.4" r="2.3" fill="#6b45a6"/>
<circle cx="189.5" cy="93.7" r="2.3" fill="#6b45a6"/>
<circle cx="119.4" cy="196" r="2.3" fill="#6b45a6"/>
<circle cx="147.1" cy="89.2" r="2.3" fill="#86cbd9"/>
<circle cx="164.4" cy="93.3" r="2.3" fill="#86cbd9"/>
<circle cx="173.3" cy="89.2" r="2.3" fill="#86cbd9"/>
<circle cx="103.8" cy="119.6" r="2.3" fill="#86cbd9"/>
<circle cx="195" cy="82.5" r="2.3" fill="#86cbd9"/>
<circle cx="164" cy="171.7" r="2.3" fill="#86cbd9"/>
<circle cx="174.2" cy="100" r="2.3" fill="#7e7038"/>
<circle cx="151.2" cy="136.3" r="2.3" fill="#7e7038"/>
<circle cx="149.2" cy="154.8" r="2.3" fill="#7e7038"/>
<circle cx="187.7" cy="136" r="2.3" fill="#7e7038"/>
<circle cx="198.5" cy="140.8" r="2.3" fill="#7e7038"/>
<circle cx="174.2" cy="108.1" r="2.3" fill="#3050a8"/>
<circle cx="181.3" cy="137.5" r="2.3" fill="#3050a8"/>
<circle cx="150" cy="148.5" r="2.3" fill="#3050a8"/>
<circle cx="197.9" cy="93.3" r="2.3" fill="#3050a8"/>
<circle cx="196.9" cy="103.3" r="2.3" fill="#3050a8"/>
<circle cx="200.4" cy="111" r="2.3" fill="#3050a8"/>
<circle cx="171.3" cy="138.5" r="3.4" fill="#d6282b"/>
<circle cx="186.7" cy="132.3" r="3.4" fill="#d6282b"/>
<circle cx="209.8" cy="118.7" r="3.4" fill="#d6282b"/>
<circle cx="221" cy="110" r="3.4" fill="#d6282b"/>
<circle cx="226.2" cy="104.6" r="3.4" fill="#d6282b"/>
<circle cx="86.5" cy="241" r="3.4" fill="#d6282b"/>
<path d="M163.5 121L184.2 130.2M170.8 124.4V133.5M214.6 79.2L210 113.8M213.3 90.8L223.8 101M211.9 100.4L219 107.1M71 222.7L80.3 234.1" stroke="#1a1a1a" stroke-width="0.9" fill="none"/>
<text x="134.8" y="123.6" font-size="9.2" text-anchor="start" fill="#1a1a1a" textLength="20.2" lengthAdjust="spacingAndGlyphs" >ATF4</text>
<text x="204.6" y="74.6" font-size="9.2" text-anchor="start" fill="#1a1a1a" textLength="19.6" lengthAdjust="spacingAndGlyphs" >ATF4</text>
<text x="46.7" y="219.3" font-size="9.2" text-anchor="start" fill="#1a1a1a" textLength="19.8" lengthAdjust="spacingAndGlyphs" >ATF4</text>
<path d="M41.8 41.0H322.2V327.2H41.8Z" stroke="#111" stroke-width="1.3" fill="none"/>
<line x1="38.3" y1="314.5" x2="41.8" y2="314.5" stroke="#111" stroke-width="1"/>
<text x="34.8" y="318.0" font-size="9.8" text-anchor="end" fill="#1a1a1a" textLength="5.0" lengthAdjust="spacingAndGlyphs" >0</text>
<line x1="38.3" y1="184.0" x2="41.8" y2="184.0" stroke="#111" stroke-width="1"/>
<text x="34.8" y="187.5" font-size="9.8" text-anchor="end" fill="#1a1a1a" textLength="5.0" lengthAdjust="spacingAndGlyphs" >5</text>
<line x1="38.3" y1="53.5" x2="41.8" y2="53.5" stroke="#111" stroke-width="1"/>
<text x="34.8" y="57.0" font-size="9.8" text-anchor="end" fill="#1a1a1a" textLength="10.0" lengthAdjust="spacingAndGlyphs" >10</text>
<line x1="38.8" y1="249.2" x2="41.8" y2="249.2" stroke="#111" stroke-width="0.8"/>
<line x1="38.8" y1="118.8" x2="41.8" y2="118.8" stroke="#111" stroke-width="0.8"/>
<line x1="54.3" y1="327.2" x2="54.3" y2="331" stroke="#111" stroke-width="1"/>
<text x="54.3" y="343.1" font-size="9.8" text-anchor="middle" fill="#1a1a1a" textLength="5.0" lengthAdjust="spacingAndGlyphs" >0</text>
<line x1="181.9" y1="327.2" x2="181.9" y2="331" stroke="#111" stroke-width="1"/>
<text x="181.95" y="343.1" font-size="9.8" text-anchor="middle" fill="#1a1a1a" textLength="5.0" lengthAdjust="spacingAndGlyphs" >5</text>
<line x1="309.6" y1="327.2" x2="309.6" y2="331" stroke="#111" stroke-width="1"/>
<text x="309.6" y="343.1" font-size="9.8" text-anchor="middle" fill="#1a1a1a" textLength="10.0" lengthAdjust="spacingAndGlyphs" >10</text>
<line x1="118.1" y1="327.2" x2="118.1" y2="330.5" stroke="#111" stroke-width="0.8"/>
<line x1="245.8" y1="327.2" x2="245.8" y2="330.5" stroke="#111" stroke-width="0.8"/>
<text x="182" y="359" font-size="10" text-anchor="middle" fill="#1a1a1a" textLength="80" lengthAdjust="spacingAndGlyphs" >HbF low RPM (log2)</text>
<text x="18.6" y="184" font-size="9.7" text-anchor="middle" fill="#1a1a1a" textLength="83.3" lengthAdjust="spacingAndGlyphs" transform="rotate(-90 18.6 184)" >HbF high RPM (log2)</text>
<text x="181.9" y="34.7" font-size="11.2" text-anchor="middle" fill="#1a1a1a" textLength="120.7" lengthAdjust="spacingAndGlyphs" >HUDEP2 CRISPR screen</text>
<circle cx="237.8" cy="229.5" r="4.8" fill="#111111"/>
<text x="246.4" y="232.9" font-size="9.3" text-anchor="start" fill="#1a1a1a" textLength="55.2" lengthAdjust="spacingAndGlyphs" >Non-targeting</text>
<circle cx="237.8" cy="245.5" r="4.8" fill="#d22a2a"/>
<text x="246.4" y="248.9" font-size="9.3" text-anchor="start" fill="#1a1a1a" textLength="19.3" lengthAdjust="spacingAndGlyphs" >ATF4</text>
<circle cx="237.8" cy="261.8" r="4.8" fill="#3a4fa0"/>
<text x="246.4" y="265.2" font-size="9.3" text-anchor="start" fill="#1a1a1a" textLength="31.2" lengthAdjust="spacingAndGlyphs" >BCL11A</text>
<circle cx="237.8" cy="277.7" r="4.8" fill="#6a2a8c"/>
<text x="246.4" y="281.09999999999997" font-size="9.3" text-anchor="start" fill="#1a1a1a" textLength="24.3" lengthAdjust="spacingAndGlyphs" >MBD2</text>
<circle cx="237.8" cy="294.4" r="4.8" fill="#8a8736"/>
<text x="246.4" y="297.79999999999995" font-size="9.3" text-anchor="start" fill="#1a1a1a" textLength="22.6" lengthAdjust="spacingAndGlyphs" >MTA2</text>
<circle cx="237.8" cy="310.9" r="4.8" fill="#8cc4ea"/>
<text x="246.4" y="314.29999999999995" font-size="9.3" text-anchor="start" fill="#1a1a1a" textLength="14.1" lengthAdjust="spacingAndGlyphs" >LRF</text>
</g>
<g>
<rect x="388.6" y="157.8" width="14.4" height="7.3" fill="#8e95bf"/>
<rect x="411.9" y="147.2" width="14.4" height="17.9" fill="#8e95bf"/>
<rect x="435.1" y="95.3" width="14.4" height="69.8" fill="#8e95bf"/>
<rect x="458.6" y="70.8" width="14.4" height="94.3" fill="#8e95bf"/>
<rect x="482.1" y="63" width="14.4" height="102.1" fill="#8e95bf"/>
<circle cx="390" cy="155.7" r="2.35" fill="#ffffff" fill-opacity="0.3" stroke="#2b4a8e" stroke-width="1.2"/>
<circle cx="401.2" cy="154.9" r="2.35" fill="#ffffff" fill-opacity="0.3" stroke="#2b4a8e" stroke-width="1.2"/>
<circle cx="395.6" cy="149.1" r="2.35" fill="#ffffff" fill-opacity="0.3" stroke="#2b4a8e" stroke-width="1.2"/>
<circle cx="413.4" cy="146.4" r="2.35" fill="#ffffff" fill-opacity="0.3" stroke="#2b4a8e" stroke-width="1.2"/>
<circle cx="424.8" cy="145" r="2.35" fill="#ffffff" fill-opacity="0.3" stroke="#2b4a8e" stroke-width="1.2"/>
<circle cx="419" cy="142.7" r="2.35" fill="#ffffff" fill-opacity="0.3" stroke="#2b4a8e" stroke-width="1.2"/>
<circle cx="436.9" cy="97.2" r="2.35" fill="#ffffff" fill-opacity="0.3" stroke="#2b4a8e" stroke-width="1.2"/>
<circle cx="447.9" cy="97.2" r="2.35" fill="#ffffff" fill-opacity="0.3" stroke="#2b4a8e" stroke-width="1.2"/>
<circle cx="442.5" cy="88.0" r="2.35" fill="#ffffff" fill-opacity="0.3" stroke="#2b4a8e" stroke-width="1.2"/>
<circle cx="460.3" cy="79.8" r="2.35" fill="#ffffff" fill-opacity="0.3" stroke="#2b4a8e" stroke-width="1.2"/>
<circle cx="471.2" cy="75.8" r="2.35" fill="#ffffff" fill-opacity="0.3" stroke="#2b4a8e" stroke-width="1.2"/>
<circle cx="466.1" cy="53.4" r="2.35" fill="#ffffff" fill-opacity="0.3" stroke="#2b4a8e" stroke-width="1.2"/>
<circle cx="489.3" cy="51.4" r="2.35" fill="#ffffff" fill-opacity="0.3" stroke="#2b4a8e" stroke-width="1.2"/>
<circle cx="489.2" cy="63" r="2.35" fill="#ffffff" fill-opacity="0.3" stroke="#2b4a8e" stroke-width="1.2"/>
<circle cx="489.2" cy="72.4" r="2.35" fill="#ffffff" fill-opacity="0.3" stroke="#2b4a8e" stroke-width="1.2"/>
<path d="M395.8 150.4V156.8M391.9 150.4H399.7M391.9 156.8H399.7" stroke="#111" stroke-width="1.35" fill="none"/>
<path d="M419.1 143.7V146.4M415.2 143.7H423.0M415.2 146.4H423.0" stroke="#111" stroke-width="1.35" fill="none"/>
<path d="M442.3 89.4V99.6M438.4 89.4H446.2M438.4 99.6H446.2" stroke="#111" stroke-width="1.35" fill="none"/>
<path d="M465.8 55.8V83.8M461.9 55.8H469.7M461.9 83.8H469.7" stroke="#111" stroke-width="1.35" fill="none"/>
<path d="M489.3 52.5V72.7M485.4 52.5H493.2M485.4 72.7H493.2" stroke="#111" stroke-width="1.35" fill="none"/>
<text x="440.1" y="80.4" font-size="8.6" text-anchor="middle" fill="#111" style="stroke-width:0.3px;stroke:#111">*</text>
<text x="444.5" y="80.4" font-size="8.6" text-anchor="middle" fill="#111" style="stroke-width:0.3px;stroke:#111">*</text>
<text x="463.6" y="52.400000000000006" font-size="8.6" text-anchor="middle" fill="#111" style="stroke-width:0.3px;stroke:#111">*</text>
<text x="468.0" y="52.400000000000006" font-size="8.6" text-anchor="middle" fill="#111" style="stroke-width:0.3px;stroke:#111">*</text>
<text x="487.1" y="49.900000000000006" font-size="8.6" text-anchor="middle" fill="#111" style="stroke-width:0.3px;stroke:#111">*</text>
<text x="491.5" y="49.900000000000006" font-size="8.6" text-anchor="middle" fill="#111" style="stroke-width:0.3px;stroke:#111">*</text>
<path d="M384.2 45V165.1H501.6" stroke="#111" stroke-width="1.3" fill="none"/>
<line x1="380.5" y1="165.1" x2="384.2" y2="165.1" stroke="#111" stroke-width="1"/>
<text x="377.2" y="168.5" font-size="9.4" text-anchor="end" fill="#1a1a1a" textLength="13" lengthAdjust="spacingAndGlyphs" >0.0</text>
<line x1="380.5" y1="135.9" x2="384.2" y2="135.9" stroke="#111" stroke-width="1"/>
<text x="377.2" y="139.29999999999998" font-size="9.4" text-anchor="end" fill="#1a1a1a" textLength="13" lengthAdjust="spacingAndGlyphs" >0.2</text>
<line x1="380.5" y1="106.7" x2="384.2" y2="106.7" stroke="#111" stroke-width="1"/>
<text x="377.2" y="110.1" font-size="9.4" text-anchor="end" fill="#1a1a1a" textLength="13" lengthAdjust="spacingAndGlyphs" >0.4</text>
<line x1="380.5" y1="77.5" x2="384.2" y2="77.5" stroke="#111" stroke-width="1"/>
<text x="377.2" y="80.89999999999999" font-size="9.4" text-anchor="end" fill="#1a1a1a" textLength="13" lengthAdjust="spacingAndGlyphs" >0.6</text>
<line x1="380.5" y1="48.3" x2="384.2" y2="48.3" stroke="#111" stroke-width="1"/>
<text x="377.2" y="51.69999999999998" font-size="9.4" text-anchor="end" fill="#1a1a1a" textLength="13" lengthAdjust="spacingAndGlyphs" >0.8</text>
<line x1="395.8" y1="165.1" x2="395.8" y2="168.6" stroke="#111" stroke-width="1"/>
<line x1="419.1" y1="165.1" x2="419.1" y2="168.6" stroke="#111" stroke-width="1"/>
<line x1="442.3" y1="165.1" x2="442.3" y2="168.6" stroke="#111" stroke-width="1"/>
<line x1="465.8" y1="165.1" x2="465.8" y2="168.6" stroke="#111" stroke-width="1"/>
<line x1="489.3" y1="165.1" x2="489.3" y2="168.6" stroke="#111" stroke-width="1"/>
<text x="352.4" y="38.1" font-size="10.4" text-anchor="start" fill="#1a1a1a" textLength="36" lengthAdjust="spacingAndGlyphs" >RT-qPCR</text>
<text x="442.8" y="35.3" font-size="11.2" text-anchor="middle" fill="#1a1a1a" textLength="22.2" lengthAdjust="spacingAndGlyphs" >HBG</text>
<text x="358" y="105" font-size="10" text-anchor="middle" fill="#1a1a1a" textLength="31.5" lengthAdjust="spacingAndGlyphs" transform="rotate(-90 358 105)" >To AHSP</text>
<rect x="388.6" y="311.1" width="14.4" height="14.6" fill="#8e95bf"/>
<rect x="411.9" y="296.1" width="14.4" height="29.6" fill="#8e95bf"/>
<rect x="435.1" y="245" width="14.4" height="80.7" fill="#8e95bf"/>
<rect x="458.6" y="234.7" width="14.4" height="91.0" fill="#8e95bf"/>
<rect x="482.1" y="233.6" width="14.4" height="92.1" fill="#8e95bf"/>
<circle cx="389.6" cy="309.3" r="2.35" fill="#ffffff" fill-opacity="0.3" stroke="#2b4a8e" stroke-width="1.2"/>
<circle cx="401.5" cy="309.3" r="2.35" fill="#ffffff" fill-opacity="0.3" stroke="#2b4a8e" stroke-width="1.2"/>
<circle cx="395.6" cy="305.1" r="2.35" fill="#ffffff" fill-opacity="0.3" stroke="#2b4a8e" stroke-width="1.2"/>
<circle cx="413.6" cy="295.5" r="2.35" fill="#ffffff" fill-opacity="0.3" stroke="#2b4a8e" stroke-width="1.2"/>
<circle cx="424.8" cy="292.5" r="2.35" fill="#ffffff" fill-opacity="0.3" stroke="#2b4a8e" stroke-width="1.2"/>
<circle cx="419" cy="291.1" r="2.35" fill="#ffffff" fill-opacity="0.3" stroke="#2b4a8e" stroke-width="1.2"/>
<circle cx="436.8" cy="250.2" r="2.35" fill="#ffffff" fill-opacity="0.3" stroke="#2b4a8e" stroke-width="1.2"/>
<circle cx="447.9" cy="250.2" r="2.35" fill="#ffffff" fill-opacity="0.3" stroke="#2b4a8e" stroke-width="1.2"/>
<circle cx="442.5" cy="232.5" r="2.35" fill="#ffffff" fill-opacity="0.3" stroke="#2b4a8e" stroke-width="1.2"/>
<circle cx="460.3" cy="243.4" r="2.35" fill="#ffffff" fill-opacity="0.3" stroke="#2b4a8e" stroke-width="1.2"/>
<circle cx="471.2" cy="239.1" r="2.35" fill="#ffffff" fill-opacity="0.3" stroke="#2b4a8e" stroke-width="1.2"/>
<circle cx="466.1" cy="218.8" r="2.35" fill="#ffffff" fill-opacity="0.3" stroke="#2b4a8e" stroke-width="1.2"/>
<circle cx="489.3" cy="222.8" r="2.35" fill="#ffffff" fill-opacity="0.3" stroke="#2b4a8e" stroke-width="1.2"/>
<circle cx="489.1" cy="234.4" r="2.35" fill="#ffffff" fill-opacity="0.3" stroke="#2b4a8e" stroke-width="1.2"/>
<circle cx="489.1" cy="242.2" r="2.35" fill="#ffffff" fill-opacity="0.3" stroke="#2b4a8e" stroke-width="1.2"/>
<path d="M395.8 306.3V310.3M391.9 306.3H399.7M391.9 310.3H399.7" stroke="#111" stroke-width="1.35" fill="none"/>
<path d="M419.1 291.3V295.3M415.2 291.3H423.0M415.2 295.3H423.0" stroke="#111" stroke-width="1.35" fill="none"/>
<path d="M442.3 234.4V254.5M438.4 234.4H446.2M438.4 254.5H446.2" stroke="#111" stroke-width="1.35" fill="none"/>
<path d="M465.8 221.3V247M461.9 221.3H469.7M461.9 247H469.7" stroke="#111" stroke-width="1.35" fill="none"/>
<path d="M489.3 223.5V241.8M485.4 223.5H493.2M485.4 241.8H493.2" stroke="#111" stroke-width="1.35" fill="none"/>
<text x="440.1" y="232.39999999999998" font-size="8.6" text-anchor="middle" fill="#111" style="stroke-width:0.3px;stroke:#111">*</text>
<text x="444.5" y="232.39999999999998" font-size="8.6" text-anchor="middle" fill="#111" style="stroke-width:0.3px;stroke:#111">*</text>
<text x="463.6" y="217.29999999999998" font-size="8.6" text-anchor="middle" fill="#111" style="stroke-width:0.3px;stroke:#111">*</text>
<text x="468.0" y="217.29999999999998" font-size="8.6" text-anchor="middle" fill="#111" style="stroke-width:0.3px;stroke:#111">*</text>
<text x="487.1" y="222.0" font-size="8.6" text-anchor="middle" fill="#111" style="stroke-width:0.3px;stroke:#111">*</text>
<text x="491.5" y="222.0" font-size="8.6" text-anchor="middle" fill="#111" style="stroke-width:0.3px;stroke:#111">*</text>
<path d="M384.2 206V325.7H501.2" stroke="#111" stroke-width="1.3" fill="none"/>
<line x1="380.5" y1="325.7" x2="384.2" y2="325.7" stroke="#111" stroke-width="1"/>
<text x="377.2" y="329.09999999999997" font-size="9.4" text-anchor="end" fill="#1a1a1a" textLength="13" lengthAdjust="spacingAndGlyphs" >0.0</text>
<line x1="380.5" y1="299.8" x2="384.2" y2="299.8" stroke="#111" stroke-width="1"/>
<text x="377.2" y="303.21999999999997" font-size="9.4" text-anchor="end" fill="#1a1a1a" textLength="13" lengthAdjust="spacingAndGlyphs" >0.4</text>
<line x1="380.5" y1="273.9" x2="384.2" y2="273.9" stroke="#111" stroke-width="1"/>
<text x="377.2" y="277.34" font-size="9.4" text-anchor="end" fill="#1a1a1a" textLength="13" lengthAdjust="spacingAndGlyphs" >0.8</text>
<line x1="380.5" y1="248.1" x2="384.2" y2="248.1" stroke="#111" stroke-width="1"/>
<text x="377.2" y="251.45999999999998" font-size="9.4" text-anchor="end" fill="#1a1a1a" textLength="13" lengthAdjust="spacingAndGlyphs" >1.2</text>
<line x1="380.5" y1="222.2" x2="384.2" y2="222.2" stroke="#111" stroke-width="1"/>
<text x="377.2" y="225.57999999999998" font-size="9.4" text-anchor="end" fill="#1a1a1a" textLength="13" lengthAdjust="spacingAndGlyphs" >1.6</text>
<line x1="380.8" y1="209.2" x2="384.2" y2="209.2" stroke="#111" stroke-width="1"/>
<line x1="395.8" y1="325.7" x2="395.8" y2="329.2" stroke="#111" stroke-width="1"/>
<line x1="419.1" y1="325.7" x2="419.1" y2="329.2" stroke="#111" stroke-width="1"/>
<line x1="442.3" y1="325.7" x2="442.3" y2="329.2" stroke="#111" stroke-width="1"/>
<line x1="465.8" y1="325.7" x2="465.8" y2="329.2" stroke="#111" stroke-width="1"/>
<line x1="489.3" y1="325.7" x2="489.3" y2="329.2" stroke="#111" stroke-width="1"/>
<text x="442.9" y="186" font-size="9.3" text-anchor="middle" fill="#1a1a1a" textLength="27" lengthAdjust="spacingAndGlyphs" >HBG%</text>
<text x="358.2" y="265.6" font-size="9.2" text-anchor="middle" fill="#1a1a1a" textLength="119.5" lengthAdjust="spacingAndGlyphs" transform="rotate(-90 358.2 265.6)" >HBG / (HBB + HBG + HBE1) %</text>
<text x="400.40000000000003" y="337.6" font-size="9.5" text-anchor="end" fill="#1a1a1a" transform="rotate(-45 400.40000000000003 337.6)" >WT</text>
<text x="423.70000000000005" y="337.6" font-size="9.5" text-anchor="end" fill="#1a1a1a" transform="rotate(-45 423.70000000000005 337.6)" >Control sgRNA</text>
<text x="446.90000000000003" y="337.6" font-size="9.5" text-anchor="end" fill="#1a1a1a" transform="rotate(-45 446.90000000000003 337.6)" >HRI sgRNA</text>
<text x="470.40000000000003" y="337.6" font-size="9.5" text-anchor="end" fill="#1a1a1a" transform="rotate(-45 470.40000000000003 337.6)" >ATF4 sgRNA #1</text>
<text x="493.90000000000003" y="337.6" font-size="9.5" text-anchor="end" fill="#1a1a1a" transform="rotate(-45 493.90000000000003 337.6)" >ATF4 sgRNA #2</text>
</g>
<g>
<g filter="url(#soft)">
<path fill="#5063b2" fill-opacity="0.5" d="M107 452h1v1h-1zM111 452h1v1h-1zM103 453h1v1h-1zM105 453h1v1h-1zM107 453h1v1h-1zM110 453h1v1h-1zM113 453h1v1h-1zM119 453h1v1h-1zM104 454h3v1h-3zM110 454h1v1h-1zM114 454h1v1h-1zM117 454h1v1h-1zM119 454h1v1h-1zM101 455h1v1h-1zM106 455h3v1h-3zM110 455h1v1h-1zM118 455h1v1h-1zM105 456h1v1h-1zM108 456h1v1h-1zM110 456h1v1h-1zM117 456h3v1h-3zM98 457h1v1h-1zM103 457h1v1h-1zM111 457h1v1h-1zM117 457h2v1h-2zM120 457h1v1h-1zM103 458h2v1h-2zM111 458h2v1h-2zM120 458h1v1h-1zM106 459h1v1h-1zM109 459h2v1h-2zM116 459h2v1h-2zM119 459h1v1h-1zM99 460h1v1h-1zM104 460h1v1h-1zM107 460h1v1h-1zM116 460h1v1h-1zM104 461h1v1h-1zM108 461h1v1h-1zM110 461h1v1h-1zM118 461h1v1h-1zM100 462h1v1h-1zM106 462h1v1h-1zM108 462h1v1h-1zM116 462h1v1h-1zM118 462h1v1h-1zM119 463h1v1h-1zM99 464h1v1h-1zM102 464h2v1h-2zM105 464h4v1h-4zM117 464h1v1h-1zM119 464h1v1h-1zM97 465h1v1h-1zM104 465h2v1h-2zM99 466h1v1h-1zM101 466h2v1h-2zM117 466h1v1h-1zM99 467h1v1h-1zM108 467h1v1h-1zM98 468h1v1h-1zM100 468h1v1h-1zM102 468h1v1h-1zM117 468h2v1h-2zM96 469h3v1h-3zM100 469h1v1h-1zM105 469h2v1h-2zM117 469h2v1h-2zM99 470h2v1h-2zM102 470h1v1h-1zM104 470h1v1h-1zM107 470h1v1h-1zM93 471h1v1h-1zM101 471h1v1h-1zM104 471h1v1h-1zM116 471h1v1h-1zM118 471h1v1h-1zM101 472h1v1h-1zM116 472h1v1h-1zM118 472h1v1h-1zM94 473h1v1h-1zM96 473h4v1h-4zM101 473h1v1h-1zM94 474h1v1h-1zM96 474h2v1h-2zM104 474h1v1h-1zM97 475h2v1h-2zM100 475h1v1h-1zM93 476h1v1h-1zM98 476h1v1h-1zM117 476h1v1h-1zM90 477h1v1h-1zM92 477h1v1h-1zM97 477h3v1h-3zM91 478h1v1h-1zM96 478h2v1h-2zM95 479h2v1h-2zM100 479h1v1h-1zM112 479h1v1h-1zM90 480h1v1h-1zM96 480h1v1h-1zM115 480h1v1h-1zM91 481h1v1h-1zM94 481h1v1h-1zM96 481h1v1h-1zM98 481h1v1h-1zM115 481h1v1h-1zM83 482h1v1h-1zM92 482h2v1h-2zM97 483h1v1h-1zM115 483h2v1h-2zM93 484h1v1h-1zM95 484h2v1h-2zM93 485h1v1h-1zM95 485h1v1h-1zM88 486h3v1h-3zM92 486h1v1h-1zM100 486h1v1h-1zM113 486h1v1h-1zM90 487h2v1h-2zM93 487h1v1h-1zM90 488h2v1h-2zM115 488h1v1h-1zM90 489h1v1h-1zM112 489h1v1h-1zM115 489h1v1h-1zM80 490h1v1h-1zM93 490h1v1h-1zM112 490h1v1h-1zM89 491h1v1h-1zM93 491h1v1h-1zM114 491h1v1h-1zM80 492h1v1h-1zM88 492h1v1h-1zM91 492h2v1h-2zM111 492h1v1h-1zM88 493h1v1h-1zM90 493h3v1h-3zM95 493h1v1h-1zM88 494h1v1h-1zM90 494h1v1h-1zM92 494h2v1h-2zM112 494h1v1h-1zM114 494h1v1h-1zM87 495h1v1h-1zM90 495h1v1h-1zM92 495h1v1h-1zM94 495h1v1h-1zM79 496h1v1h-1zM90 496h2v1h-2zM93 496h1v1h-1zM111 496h2v1h-2zM86 497h1v1h-1zM94 497h1v1h-1zM97 497h1v1h-1zM113 497h1v1h-1zM82 498h1v1h-1zM87 498h1v1h-1zM89 498h1v1h-1zM93 498h1v1h-1zM96 498h1v1h-1zM109 498h1v1h-1zM111 498h1v1h-1zM80 499h2v1h-2zM86 499h2v1h-2zM89 499h1v1h-1zM93 499h1v1h-1zM105 499h1v1h-1zM110 499h1v1h-1zM77 500h1v1h-1zM83 500h4v1h-4zM93 500h1v1h-1zM97 500h1v1h-1zM110 500h1v1h-1zM112 500h2v1h-2zM77 501h1v1h-1zM85 501h3v1h-3zM89 501h1v1h-1zM91 501h2v1h-2zM99 501h1v1h-1zM109 501h1v1h-1zM113 501h1v1h-1zM78 502h1v1h-1zM83 502h1v1h-1zM88 502h1v1h-1zM91 502h1v1h-1zM109 502h1v1h-1zM111 502h1v1h-1zM83 503h1v1h-1zM90 503h3v1h-3zM99 503h1v1h-1zM102 503h1v1h-1zM108 503h1v1h-1zM111 503h1v1h-1zM79 504h1v1h-1zM85 504h2v1h-2zM105 504h1v1h-1zM108 504h5v1h-5zM83 505h1v1h-1zM87 505h1v1h-1zM110 505h1v1h-1zM112 505h1v1h-1zM84 506h4v1h-4zM89 506h1v1h-1zM96 506h1v1h-1zM104 506h1v1h-1zM106 506h1v1h-1zM110 506h1v1h-1zM83 507h1v1h-1zM85 507h2v1h-2zM89 507h2v1h-2zM96 507h1v1h-1zM104 507h2v1h-2zM107 507h2v1h-2zM110 507h1v1h-1zM73 508h1v1h-1zM80 508h1v1h-1zM82 508h1v1h-1zM91 508h2v1h-2zM101 508h1v1h-1zM109 508h1v1h-1zM76 509h1v1h-1zM81 509h1v1h-1zM83 509h1v1h-1zM86 509h4v1h-4zM99 509h1v1h-1zM102 509h1v1h-1zM104 509h1v1h-1zM106 509h1v1h-1zM110 509h2v1h-2zM74 510h1v1h-1zM80 510h1v1h-1zM88 510h2v1h-2zM101 510h2v1h-2zM107 510h1v1h-1zM109 510h1v1h-1zM66 511h1v1h-1zM79 511h1v1h-1zM84 511h1v1h-1zM87 511h2v1h-2zM94 511h1v1h-1zM103 511h1v1h-1zM105 511h4v1h-4zM75 512h1v1h-1zM82 512h1v1h-1zM85 512h4v1h-4zM97 512h1v1h-1zM103 512h2v1h-2zM108 512h1v1h-1zM78 513h1v1h-1zM83 513h2v1h-2zM88 513h1v1h-1zM91 513h3v1h-3zM95 513h1v1h-1zM97 513h1v1h-1zM102 513h2v1h-2zM105 513h1v1h-1zM109 513h1v1h-1zM75 514h1v1h-1zM89 514h1v1h-1zM92 514h1v1h-1zM99 514h1v1h-1zM105 514h2v1h-2zM82 515h1v1h-1zM87 515h1v1h-1zM96 515h1v1h-1zM99 515h1v1h-1zM105 515h1v1h-1z"/>
<path fill="#4559ad" fill-opacity="0.8" d="M109 453h1v1h-1zM116 453h2v1h-2zM109 454h1v1h-1zM111 454h1v1h-1zM118 454h1v1h-1zM114 455h1v1h-1zM119 455h1v1h-1zM111 456h1v1h-1zM107 458h2v1h-2zM105 459h1v1h-1zM108 459h1v1h-1zM111 459h2v1h-2zM102 460h1v1h-1zM118 460h1v1h-1zM105 461h2v1h-2zM117 461h1v1h-1zM102 462h1v1h-1zM107 462h1v1h-1zM103 463h1v1h-1zM106 463h1v1h-1zM108 463h1v1h-1zM116 463h2v1h-2zM101 464h1v1h-1zM116 464h1v1h-1zM109 465h1v1h-1zM118 465h1v1h-1zM104 466h1v1h-1zM116 466h1v1h-1zM118 466h1v1h-1zM101 467h2v1h-2zM116 467h1v1h-1zM118 467h1v1h-1zM104 468h1v1h-1zM106 468h1v1h-1zM101 469h2v1h-2zM116 470h2v1h-2zM102 471h2v1h-2zM100 472h1v1h-1zM100 473h1v1h-1zM99 474h1v1h-1zM101 474h1v1h-1zM103 474h1v1h-1zM99 475h1v1h-1zM115 475h1v1h-1zM117 475h1v1h-1zM99 476h1v1h-1zM101 477h1v1h-1zM103 477h1v1h-1zM114 477h1v1h-1zM99 478h1v1h-1zM101 478h1v1h-1zM115 478h2v1h-2zM98 479h2v1h-2zM113 480h1v1h-1zM95 481h1v1h-1zM94 482h1v1h-1zM96 482h2v1h-2zM101 482h1v1h-1zM114 482h1v1h-1zM116 482h1v1h-1zM96 483h1v1h-1zM112 483h1v1h-1zM114 484h1v1h-1zM94 485h1v1h-1zM96 485h2v1h-2zM114 485h2v1h-2zM115 486h1v1h-1zM94 487h2v1h-2zM115 487h1v1h-1zM93 488h2v1h-2zM99 488h1v1h-1zM94 489h2v1h-2zM113 489h2v1h-2zM91 490h2v1h-2zM97 490h1v1h-1zM115 490h1v1h-1zM94 491h1v1h-1zM102 491h1v1h-1zM113 491h1v1h-1zM94 492h2v1h-2zM102 492h1v1h-1zM112 492h1v1h-1zM93 493h2v1h-2zM102 493h1v1h-1zM91 494h1v1h-1zM96 494h1v1h-1zM100 494h1v1h-1zM89 495h1v1h-1zM91 495h1v1h-1zM93 495h1v1h-1zM98 495h1v1h-1zM109 495h1v1h-1zM106 496h1v1h-1zM109 496h1v1h-1zM113 496h1v1h-1zM91 497h1v1h-1zM109 497h1v1h-1zM111 497h2v1h-2zM90 498h1v1h-1zM92 498h1v1h-1zM108 498h1v1h-1zM90 499h1v1h-1zM98 499h1v1h-1zM108 499h1v1h-1zM111 499h1v1h-1zM113 499h1v1h-1zM87 500h4v1h-4zM95 500h2v1h-2zM105 500h1v1h-1zM109 500h1v1h-1zM90 501h1v1h-1zM94 501h1v1h-1zM104 501h1v1h-1zM106 501h1v1h-1zM111 501h1v1h-1zM102 502h2v1h-2zM93 503h1v1h-1zM105 503h2v1h-2zM109 503h1v1h-1zM88 504h1v1h-1zM96 504h1v1h-1zM98 504h1v1h-1zM101 504h1v1h-1zM90 505h2v1h-2zM97 505h3v1h-3zM106 505h2v1h-2zM88 506h1v1h-1zM90 506h2v1h-2zM111 506h2v1h-2zM84 507h1v1h-1zM88 507h1v1h-1zM92 507h1v1h-1zM94 507h2v1h-2zM103 507h1v1h-1zM109 507h1v1h-1zM87 508h2v1h-2zM93 508h3v1h-3zM100 508h1v1h-1zM105 508h2v1h-2zM85 509h1v1h-1zM90 509h2v1h-2zM93 509h1v1h-1zM95 509h1v1h-1zM100 509h1v1h-1zM109 509h1v1h-1zM83 510h1v1h-1zM87 510h1v1h-1zM90 510h3v1h-3zM94 510h1v1h-1zM104 510h1v1h-1zM86 511h1v1h-1zM89 511h1v1h-1zM95 511h2v1h-2zM98 511h1v1h-1zM102 511h1v1h-1zM104 511h1v1h-1zM94 512h2v1h-2zM98 512h2v1h-2zM106 512h1v1h-1zM85 513h1v1h-1zM90 513h1v1h-1zM96 513h1v1h-1zM99 513h1v1h-1zM101 513h1v1h-1zM106 513h1v1h-1zM79 514h1v1h-1zM84 514h1v1h-1zM87 514h2v1h-2zM90 514h2v1h-2zM98 514h1v1h-1zM102 514h3v1h-3zM108 514h1v1h-1z"/>
<path fill="#3a4fa6" d="M108 453h1v1h-1zM111 453h2v1h-2zM114 453h2v1h-2zM108 454h1v1h-1zM112 454h2v1h-2zM115 454h2v1h-2zM111 455h3v1h-3zM116 455h1v1h-1zM106 456h1v1h-1zM109 456h1v1h-1zM112 456h5v1h-5zM108 457h3v1h-3zM112 457h5v1h-5zM109 458h2v1h-2zM113 458h5v1h-5zM107 459h1v1h-1zM113 459h3v1h-3zM109 460h7v1h-7zM117 460h1v1h-1zM107 461h1v1h-1zM109 461h1v1h-1zM111 461h6v1h-6zM104 462h1v1h-1zM109 462h7v1h-7zM104 463h2v1h-2zM107 463h1v1h-1zM109 463h6v1h-6zM104 464h1v1h-1zM109 464h7v1h-7zM106 465h3v1h-3zM110 465h8v1h-8zM103 466h1v1h-1zM105 466h11v1h-11zM103 467h5v1h-5zM109 467h7v1h-7zM117 467h1v1h-1zM103 468h1v1h-1zM105 468h1v1h-1zM107 468h10v1h-10zM103 469h1v1h-1zM107 469h10v1h-10zM101 470h1v1h-1zM103 470h1v1h-1zM105 470h2v1h-2zM108 470h8v1h-8zM118 470h1v1h-1zM105 471h11v1h-11zM117 471h1v1h-1zM102 472h14v1h-14zM95 473h1v1h-1zM102 473h16v1h-16zM102 474h1v1h-1zM105 474h13v1h-13zM101 475h14v1h-14zM100 476h17v1h-17zM100 477h1v1h-1zM102 477h1v1h-1zM104 477h10v1h-10zM115 477h2v1h-2zM98 478h1v1h-1zM100 478h1v1h-1zM102 478h13v1h-13zM101 479h11v1h-11zM113 479h3v1h-3zM98 480h7v1h-7zM106 480h7v1h-7zM114 480h1v1h-1zM116 480h1v1h-1zM97 481h1v1h-1zM99 481h16v1h-16zM116 481h1v1h-1zM98 482h3v1h-3zM102 482h12v1h-12zM115 482h1v1h-1zM98 483h14v1h-14zM113 483h2v1h-2zM97 484h17v1h-17zM115 484h1v1h-1zM98 485h16v1h-16zM93 486h3v1h-3zM98 486h2v1h-2zM101 486h12v1h-12zM96 487h19v1h-19zM96 488h3v1h-3zM100 488h15v1h-15zM97 489h15v1h-15zM94 490h3v1h-3zM98 490h14v1h-14zM113 490h1v1h-1zM92 491h1v1h-1zM95 491h7v1h-7zM103 491h10v1h-10zM90 492h1v1h-1zM96 492h6v1h-6zM103 492h8v1h-8zM114 492h1v1h-1zM96 493h6v1h-6zM103 493h11v1h-11zM94 494h2v1h-2zM97 494h3v1h-3zM101 494h11v1h-11zM95 495h3v1h-3zM99 495h10v1h-10zM110 495h2v1h-2zM92 496h1v1h-1zM94 496h12v1h-12zM107 496h2v1h-2zM110 496h1v1h-1zM90 497h1v1h-1zM92 497h2v1h-2zM95 497h2v1h-2zM98 497h11v1h-11zM110 497h1v1h-1zM88 498h1v1h-1zM94 498h2v1h-2zM97 498h10v1h-10zM110 498h1v1h-1zM88 499h1v1h-1zM94 499h4v1h-4zM99 499h6v1h-6zM106 499h2v1h-2zM109 499h1v1h-1zM91 500h2v1h-2zM94 500h1v1h-1zM98 500h7v1h-7zM106 500h3v1h-3zM93 501h1v1h-1zM95 501h4v1h-4zM100 501h4v1h-4zM105 501h1v1h-1zM107 501h2v1h-2zM92 502h10v1h-10zM104 502h5v1h-5zM88 503h2v1h-2zM94 503h4v1h-4zM100 503h2v1h-2zM103 503h2v1h-2zM107 503h1v1h-1zM90 504h6v1h-6zM97 504h1v1h-1zM99 504h2v1h-2zM102 504h3v1h-3zM106 504h2v1h-2zM88 505h2v1h-2zM92 505h5v1h-5zM100 505h6v1h-6zM108 505h2v1h-2zM92 506h4v1h-4zM97 506h7v1h-7zM105 506h1v1h-1zM107 506h1v1h-1zM93 507h1v1h-1zM97 507h6v1h-6zM106 507h1v1h-1zM89 508h2v1h-2zM96 508h4v1h-4zM102 508h3v1h-3zM92 509h1v1h-1zM94 509h1v1h-1zM96 509h1v1h-1zM98 509h1v1h-1zM101 509h1v1h-1zM103 509h1v1h-1zM95 510h2v1h-2zM98 510h3v1h-3zM90 511h3v1h-3zM97 511h1v1h-1zM100 511h2v1h-2zM90 512h2v1h-2zM93 512h1v1h-1zM96 512h1v1h-1zM100 512h3v1h-3zM94 513h1v1h-1zM98 513h1v1h-1zM100 513h1v1h-1zM85 514h1v1h-1zM93 514h5v1h-5zM100 514h1v1h-1z"/>
<path fill="#b8453c" fill-opacity="0.5" d="M126 457h1v1h-1zM127 458h1v1h-1zM143 458h1v1h-1zM155 458h1v1h-1zM128 459h1v1h-1zM133 460h1v1h-1zM138 461h1v1h-1zM139 462h1v1h-1zM128 463h1v1h-1zM131 464h1v1h-1zM122 465h1v1h-1zM123 466h1v1h-1zM129 466h1v1h-1zM121 467h1v1h-1zM124 467h1v1h-1zM127 467h1v1h-1zM141 467h1v1h-1zM121 468h1v1h-1zM128 468h1v1h-1zM139 468h1v1h-1zM141 468h2v1h-2zM137 469h1v1h-1zM144 469h1v1h-1zM120 470h1v1h-1zM125 470h1v1h-1zM136 470h1v1h-1zM147 470h1v1h-1zM153 470h1v1h-1zM120 471h1v1h-1zM124 471h1v1h-1zM127 471h1v1h-1zM131 471h1v1h-1zM142 471h2v1h-2zM145 471h1v1h-1zM154 471h1v1h-1zM119 472h1v1h-1zM121 472h1v1h-1zM125 472h1v1h-1zM130 472h1v1h-1zM136 472h1v1h-1zM146 472h1v1h-1zM121 473h1v1h-1zM135 473h1v1h-1zM139 473h1v1h-1zM143 473h1v1h-1zM147 473h1v1h-1zM119 474h1v1h-1zM123 474h1v1h-1zM126 474h1v1h-1zM129 474h1v1h-1zM118 475h2v1h-2zM123 475h1v1h-1zM126 475h1v1h-1zM131 475h1v1h-1zM133 475h1v1h-1zM138 475h2v1h-2zM154 475h1v1h-1zM118 476h1v1h-1zM121 476h1v1h-1zM123 476h3v1h-3zM128 476h1v1h-1zM133 476h2v1h-2zM145 476h2v1h-2zM157 476h1v1h-1zM121 477h1v1h-1zM124 477h4v1h-4zM137 477h1v1h-1zM142 477h1v1h-1zM146 477h2v1h-2zM153 477h1v1h-1zM160 477h1v1h-1zM124 478h1v1h-1zM138 478h2v1h-2zM141 478h1v1h-1zM144 478h1v1h-1zM146 478h2v1h-2zM122 479h1v1h-1zM125 479h1v1h-1zM128 479h2v1h-2zM132 479h1v1h-1zM139 479h1v1h-1zM122 480h2v1h-2zM125 480h1v1h-1zM128 480h3v1h-3zM141 480h1v1h-1zM121 481h2v1h-2zM125 481h1v1h-1zM133 481h1v1h-1zM148 481h1v1h-1zM117 482h2v1h-2zM121 482h1v1h-1zM123 482h1v1h-1zM125 482h1v1h-1zM128 482h1v1h-1zM131 482h1v1h-1zM135 482h1v1h-1zM138 482h1v1h-1zM147 482h1v1h-1zM119 483h1v1h-1zM123 483h1v1h-1zM131 483h1v1h-1zM133 483h1v1h-1zM135 483h2v1h-2zM138 483h2v1h-2zM146 483h1v1h-1zM118 484h2v1h-2zM123 484h1v1h-1zM125 484h1v1h-1zM129 484h2v1h-2zM133 484h1v1h-1zM135 484h1v1h-1zM140 484h1v1h-1zM143 484h1v1h-1zM150 484h1v1h-1zM154 484h1v1h-1zM118 485h1v1h-1zM123 485h1v1h-1zM126 485h1v1h-1zM129 485h1v1h-1zM134 485h2v1h-2zM139 485h1v1h-1zM143 485h1v1h-1zM118 486h1v1h-1zM120 486h1v1h-1zM125 486h2v1h-2zM128 486h1v1h-1zM130 486h1v1h-1zM132 486h1v1h-1zM136 486h2v1h-2zM149 486h1v1h-1zM116 487h1v1h-1zM120 487h1v1h-1zM122 487h2v1h-2zM131 487h1v1h-1zM133 487h1v1h-1zM139 487h1v1h-1zM145 487h1v1h-1zM119 488h1v1h-1zM121 488h1v1h-1zM123 488h1v1h-1zM126 488h2v1h-2zM129 488h1v1h-1zM132 488h1v1h-1zM135 488h1v1h-1zM151 488h1v1h-1zM117 489h1v1h-1zM120 489h3v1h-3zM125 489h1v1h-1zM128 489h3v1h-3zM133 489h2v1h-2zM136 489h1v1h-1zM141 489h1v1h-1zM144 489h1v1h-1zM152 489h1v1h-1zM121 490h1v1h-1zM123 490h1v1h-1zM125 490h1v1h-1zM130 490h1v1h-1zM132 490h2v1h-2zM139 490h1v1h-1zM145 490h1v1h-1zM148 490h1v1h-1zM117 491h1v1h-1zM121 491h2v1h-2zM125 491h2v1h-2zM128 491h2v1h-2zM132 491h1v1h-1zM136 491h1v1h-1zM145 491h1v1h-1zM152 491h1v1h-1zM118 492h1v1h-1zM120 492h4v1h-4zM125 492h2v1h-2zM128 492h2v1h-2zM133 492h2v1h-2zM139 492h2v1h-2zM146 492h1v1h-1zM153 492h1v1h-1zM162 492h1v1h-1zM125 493h1v1h-1zM130 493h2v1h-2zM133 493h1v1h-1zM136 493h2v1h-2zM140 493h1v1h-1zM143 493h1v1h-1zM146 493h2v1h-2zM158 493h1v1h-1zM118 494h1v1h-1zM120 494h3v1h-3zM126 494h2v1h-2zM132 494h1v1h-1zM139 494h1v1h-1zM147 494h1v1h-1zM152 494h1v1h-1zM157 494h1v1h-1zM117 495h3v1h-3zM124 495h2v1h-2zM129 495h2v1h-2zM132 495h1v1h-1zM136 495h1v1h-1zM140 495h1v1h-1zM143 495h1v1h-1zM146 495h1v1h-1zM149 495h1v1h-1zM116 496h2v1h-2zM120 496h3v1h-3zM124 496h1v1h-1zM128 496h1v1h-1zM130 496h2v1h-2zM136 496h1v1h-1zM115 497h1v1h-1zM117 497h2v1h-2zM122 497h1v1h-1zM126 497h3v1h-3zM130 497h1v1h-1zM137 497h1v1h-1zM142 497h1v1h-1zM115 498h1v1h-1zM126 498h2v1h-2zM133 498h1v1h-1zM135 498h1v1h-1zM155 498h1v1h-1zM115 499h1v1h-1zM122 499h1v1h-1zM127 499h1v1h-1zM132 499h1v1h-1zM135 499h1v1h-1zM137 499h1v1h-1zM114 500h2v1h-2zM117 500h3v1h-3zM126 500h1v1h-1zM132 500h2v1h-2zM136 500h1v1h-1zM143 500h1v1h-1zM146 500h1v1h-1zM116 501h1v1h-1zM126 501h1v1h-1zM150 501h1v1h-1zM114 502h2v1h-2zM118 502h1v1h-1zM121 502h1v1h-1zM124 502h2v1h-2zM130 502h1v1h-1zM132 502h1v1h-1zM140 502h1v1h-1zM161 502h1v1h-1zM115 503h1v1h-1zM117 503h4v1h-4zM122 503h3v1h-3zM126 503h1v1h-1zM128 503h1v1h-1zM131 503h2v1h-2zM135 503h1v1h-1zM114 504h2v1h-2zM123 504h1v1h-1zM128 504h1v1h-1zM130 504h2v1h-2zM135 504h1v1h-1zM131 505h1v1h-1zM136 505h1v1h-1zM159 505h1v1h-1zM114 506h1v1h-1zM120 506h2v1h-2zM126 506h1v1h-1zM140 506h1v1h-1zM118 507h2v1h-2zM122 507h1v1h-1zM126 507h1v1h-1zM138 507h1v1h-1zM115 508h2v1h-2zM123 508h1v1h-1zM131 508h1v1h-1zM133 508h1v1h-1zM115 509h1v1h-1zM129 509h1v1h-1zM118 510h1v1h-1zM120 510h1v1h-1zM149 510h1v1h-1zM128 511h1v1h-1zM117 512h1v1h-1zM118 513h1v1h-1zM120 513h1v1h-1zM140 513h1v1h-1zM124 514h1v1h-1z"/>
<path fill="#ad4038" fill-opacity="0.75" d="M122 464h1v1h-1zM140 466h1v1h-1zM121 470h1v1h-1zM125 471h1v1h-1zM120 473h1v1h-1zM122 476h1v1h-1zM132 476h1v1h-1zM119 477h1v1h-1zM133 477h1v1h-1zM121 478h1v1h-1zM123 478h1v1h-1zM130 478h1v1h-1zM140 478h1v1h-1zM134 479h1v1h-1zM137 479h1v1h-1zM118 480h1v1h-1zM120 480h2v1h-2zM124 480h1v1h-1zM135 480h1v1h-1zM146 480h1v1h-1zM118 481h3v1h-3zM127 481h1v1h-1zM130 481h1v1h-1zM138 481h1v1h-1zM119 482h1v1h-1zM122 482h1v1h-1zM134 482h1v1h-1zM142 482h1v1h-1zM118 483h1v1h-1zM129 483h1v1h-1zM120 484h1v1h-1zM122 484h1v1h-1zM127 484h1v1h-1zM139 484h1v1h-1zM153 484h1v1h-1zM117 485h1v1h-1zM119 485h2v1h-2zM124 485h2v1h-2zM131 485h1v1h-1zM138 485h1v1h-1zM119 486h1v1h-1zM122 486h1v1h-1zM124 486h1v1h-1zM134 486h1v1h-1zM118 487h2v1h-2zM124 487h2v1h-2zM128 487h1v1h-1zM130 487h1v1h-1zM132 487h1v1h-1zM117 488h1v1h-1zM122 488h1v1h-1zM125 488h1v1h-1zM118 489h2v1h-2zM124 489h1v1h-1zM116 490h2v1h-2zM122 490h1v1h-1zM127 490h2v1h-2zM146 490h1v1h-1zM116 491h1v1h-1zM118 491h3v1h-3zM124 491h1v1h-1zM116 492h2v1h-2zM130 492h1v1h-1zM116 493h3v1h-3zM120 493h2v1h-2zM123 493h2v1h-2zM128 493h1v1h-1zM132 493h1v1h-1zM134 493h1v1h-1zM138 493h1v1h-1zM116 494h2v1h-2zM119 494h1v1h-1zM123 494h1v1h-1zM125 494h1v1h-1zM140 494h1v1h-1zM115 495h1v1h-1zM121 495h2v1h-2zM118 496h2v1h-2zM138 496h1v1h-1zM119 497h1v1h-1zM123 497h2v1h-2zM118 498h1v1h-1zM120 498h1v1h-1zM122 498h1v1h-1zM125 498h1v1h-1zM131 498h1v1h-1zM134 498h1v1h-1zM117 499h1v1h-1zM121 499h1v1h-1zM123 499h1v1h-1zM129 499h1v1h-1zM116 500h1v1h-1zM123 500h1v1h-1zM125 500h1v1h-1zM135 500h1v1h-1zM121 501h1v1h-1zM127 501h1v1h-1zM132 501h1v1h-1zM139 503h1v1h-1zM117 504h1v1h-1zM119 504h1v1h-1zM121 504h1v1h-1zM122 505h1v1h-1zM125 505h1v1h-1zM117 508h1v1h-1zM129 508h1v1h-1z"/>
</g>
<path d="M123.8 442.4H175.4V523.3H110.5Z" stroke="#d6393d" stroke-width="1.1" fill="none"/>
<path d="M56.4 426.2V543.2H180.8" stroke="#111" stroke-width="1.3" fill="none"/>
<line x1="52.8" y1="543.1" x2="56.4" y2="543.1" stroke="#111" stroke-width="1"/>
<text x="49.1" y="546.2" font-size="9.6" text-anchor="end" fill="#1a1a1a" textLength="4.9" lengthAdjust="spacingAndGlyphs" >0</text>
<line x1="54.6" y1="538.6" x2="56.4" y2="538.6" stroke="#111" stroke-width="0.8"/>
<line x1="54.6" y1="534.1" x2="56.4" y2="534.1" stroke="#111" stroke-width="0.8"/>
<line x1="54.6" y1="529.5" x2="56.4" y2="529.5" stroke="#111" stroke-width="0.8"/>
<line x1="54.6" y1="525.0" x2="56.4" y2="525.0" stroke="#111" stroke-width="0.8"/>
<line x1="52.8" y1="520.5" x2="56.4" y2="520.5" stroke="#111" stroke-width="1"/>
<text x="49.1" y="523.6" font-size="9.6" text-anchor="end" fill="#1a1a1a" textLength="10" lengthAdjust="spacingAndGlyphs" >50</text>
<line x1="54.6" y1="516.0" x2="56.4" y2="516.0" stroke="#111" stroke-width="0.8"/>
<line x1="54.6" y1="511.5" x2="56.4" y2="511.5" stroke="#111" stroke-width="0.8"/>
<line x1="54.6" y1="506.9" x2="56.4" y2="506.9" stroke="#111" stroke-width="0.8"/>
<line x1="54.6" y1="502.4" x2="56.4" y2="502.4" stroke="#111" stroke-width="0.8"/>
<line x1="52.8" y1="497.9" x2="56.4" y2="497.9" stroke="#111" stroke-width="1"/>
<text x="49.1" y="501.00000000000006" font-size="9.6" text-anchor="end" fill="#1a1a1a" textLength="15" lengthAdjust="spacingAndGlyphs" >100</text>
<line x1="54.6" y1="493.4" x2="56.4" y2="493.4" stroke="#111" stroke-width="0.8"/>
<line x1="54.6" y1="488.9" x2="56.4" y2="488.9" stroke="#111" stroke-width="0.8"/>
<line x1="54.6" y1="484.3" x2="56.4" y2="484.3" stroke="#111" stroke-width="0.8"/>
<line x1="54.6" y1="479.8" x2="56.4" y2="479.8" stroke="#111" stroke-width="0.8"/>
<line x1="52.8" y1="475.3" x2="56.4" y2="475.3" stroke="#111" stroke-width="1"/>
<text x="49.1" y="478.40000000000003" font-size="9.6" text-anchor="end" fill="#1a1a1a" textLength="15" lengthAdjust="spacingAndGlyphs" >150</text>
<line x1="54.6" y1="470.8" x2="56.4" y2="470.8" stroke="#111" stroke-width="0.8"/>
<line x1="54.6" y1="466.3" x2="56.4" y2="466.3" stroke="#111" stroke-width="0.8"/>
<line x1="54.6" y1="461.7" x2="56.4" y2="461.7" stroke="#111" stroke-width="0.8"/>
<line x1="54.6" y1="457.2" x2="56.4" y2="457.2" stroke="#111" stroke-width="0.8"/>
<line x1="52.8" y1="452.7" x2="56.4" y2="452.7" stroke="#111" stroke-width="1"/>
<text x="49.1" y="455.80000000000007" font-size="9.6" text-anchor="end" fill="#1a1a1a" textLength="15" lengthAdjust="spacingAndGlyphs" >200</text>
<line x1="54.6" y1="448.2" x2="56.4" y2="448.2" stroke="#111" stroke-width="0.8"/>
<line x1="54.6" y1="443.7" x2="56.4" y2="443.7" stroke="#111" stroke-width="0.8"/>
<line x1="54.6" y1="439.1" x2="56.4" y2="439.1" stroke="#111" stroke-width="0.8"/>
<line x1="54.6" y1="434.6" x2="56.4" y2="434.6" stroke="#111" stroke-width="0.8"/>
<line x1="52.8" y1="430.1" x2="56.4" y2="430.1" stroke="#111" stroke-width="1"/>
<text x="49.1" y="433.20000000000005" font-size="9.6" text-anchor="end" fill="#1a1a1a" textLength="15" lengthAdjust="spacingAndGlyphs" >250</text>
<line x1="88.9" y1="543.2" x2="88.9" y2="545.1" stroke="#111" stroke-width="0.8"/>
<line x1="94.4" y1="543.2" x2="94.4" y2="545.1" stroke="#111" stroke-width="0.8"/>
<line x1="98.3" y1="543.2" x2="98.3" y2="545.1" stroke="#111" stroke-width="0.8"/>
<line x1="101.3" y1="543.2" x2="101.3" y2="545.1" stroke="#111" stroke-width="0.8"/>
<line x1="103.7" y1="543.2" x2="103.7" y2="545.1" stroke="#111" stroke-width="0.8"/>
<line x1="105.8" y1="543.2" x2="105.8" y2="545.1" stroke="#111" stroke-width="0.8"/>
<line x1="107.6" y1="543.2" x2="107.6" y2="545.1" stroke="#111" stroke-width="0.8"/>
<line x1="109.2" y1="543.2" x2="109.2" y2="545.1" stroke="#111" stroke-width="0.8"/>
<line x1="119.5" y1="543.2" x2="119.5" y2="545.1" stroke="#111" stroke-width="0.8"/>
<line x1="124.6" y1="543.2" x2="124.6" y2="545.1" stroke="#111" stroke-width="0.8"/>
<line x1="128.3" y1="543.2" x2="128.3" y2="545.1" stroke="#111" stroke-width="0.8"/>
<line x1="131.1" y1="543.2" x2="131.1" y2="545.1" stroke="#111" stroke-width="0.8"/>
<line x1="133.5" y1="543.2" x2="133.5" y2="545.1" stroke="#111" stroke-width="0.8"/>
<line x1="135.4" y1="543.2" x2="135.4" y2="545.1" stroke="#111" stroke-width="0.8"/>
<line x1="137.2" y1="543.2" x2="137.2" y2="545.1" stroke="#111" stroke-width="0.8"/>
<line x1="138.7" y1="543.2" x2="138.7" y2="545.1" stroke="#111" stroke-width="0.8"/>
<line x1="148.6" y1="543.2" x2="148.6" y2="545.1" stroke="#111" stroke-width="0.8"/>
<line x1="153.6" y1="543.2" x2="153.6" y2="545.1" stroke="#111" stroke-width="0.8"/>
<line x1="157.2" y1="543.2" x2="157.2" y2="545.1" stroke="#111" stroke-width="0.8"/>
<line x1="160.0" y1="543.2" x2="160.0" y2="545.1" stroke="#111" stroke-width="0.8"/>
<line x1="162.3" y1="543.2" x2="162.3" y2="545.1" stroke="#111" stroke-width="0.8"/>
<line x1="164.2" y1="543.2" x2="164.2" y2="545.1" stroke="#111" stroke-width="0.8"/>
<line x1="165.8" y1="543.2" x2="165.8" y2="545.1" stroke="#111" stroke-width="0.8"/>
<line x1="167.3" y1="543.2" x2="167.3" y2="545.1" stroke="#111" stroke-width="0.8"/>
<line x1="79.6" y1="543.2" x2="79.6" y2="545.4000000000001" stroke="#111" stroke-width="1"/>
<text x="73.8" y="557.9" font-size="9" fill="#1a1a1a">10<tspan font-size="6.5" dy="-3.6">2</tspan></text>
<line x1="110.6" y1="543.2" x2="110.6" y2="545.4000000000001" stroke="#111" stroke-width="1"/>
<text x="104.8" y="557.9" font-size="9" fill="#1a1a1a">10<tspan font-size="6.5" dy="-3.6">3</tspan></text>
<line x1="140.0" y1="543.2" x2="140.0" y2="545.4000000000001" stroke="#111" stroke-width="1"/>
<text x="134.2" y="557.9" font-size="9" fill="#1a1a1a">10<tspan font-size="6.5" dy="-3.6">4</tspan></text>
<line x1="168.6" y1="543.2" x2="168.6" y2="545.4000000000001" stroke="#111" stroke-width="1"/>
<text x="162.8" y="557.9" font-size="9" fill="#1a1a1a">10<tspan font-size="6.5" dy="-3.6">5</tspan></text>
<rect x="66.0" y="543.2" width="3.4" height="1.6" fill="#111"/>
<line x1="61.5" y1="543.2" x2="61.5" y2="544.5" stroke="#111" stroke-width="0.6"/>
<line x1="63.5" y1="543.2" x2="63.5" y2="544.5" stroke="#111" stroke-width="0.6"/>
<line x1="72.0" y1="543.2" x2="72.0" y2="544.5" stroke="#111" stroke-width="0.6"/>
<line x1="75.0" y1="543.2" x2="75.0" y2="544.5" stroke="#111" stroke-width="0.6"/>
<text x="118.7" y="420.2" font-size="11.3" text-anchor="middle" fill="#1a1a1a" textLength="17.4" lengthAdjust="spacingAndGlyphs" >WT</text>
<text x="152.5" y="438.7" font-size="9.8" text-anchor="middle" fill="#1a1a1a" textLength="24.1" lengthAdjust="spacingAndGlyphs" >5.07%</text>
</g>
<g>
<g filter="url(#soft)">
<path fill="#5063b2" fill-opacity="0.5" d="M283 452h1v1h-1zM282 453h1v1h-1zM284 453h1v1h-1zM280 454h1v1h-1zM275 455h1v1h-1zM277 455h2v1h-2zM274 456h1v1h-1zM279 456h2v1h-2zM274 457h1v1h-1zM280 457h1v1h-1zM278 459h2v1h-2zM283 459h1v1h-1zM274 460h1v1h-1zM276 460h1v1h-1zM279 460h3v1h-3zM277 461h1v1h-1zM282 461h2v1h-2zM277 462h1v1h-1zM280 462h1v1h-1zM273 463h1v1h-1zM278 463h1v1h-1zM280 463h2v1h-2zM267 464h1v1h-1zM275 464h1v1h-1zM278 464h1v1h-1zM280 464h1v1h-1zM271 465h1v1h-1zM273 465h1v1h-1zM277 465h1v1h-1zM279 465h1v1h-1zM263 466h1v1h-1zM267 466h1v1h-1zM273 466h3v1h-3zM279 466h1v1h-1zM282 466h1v1h-1zM262 467h1v1h-1zM264 467h1v1h-1zM267 467h1v1h-1zM272 467h1v1h-1zM281 467h1v1h-1zM268 468h1v1h-1zM271 468h1v1h-1zM274 468h3v1h-3zM279 468h3v1h-3zM283 468h2v1h-2zM267 469h1v1h-1zM270 469h1v1h-1zM272 469h1v1h-1zM274 469h1v1h-1zM278 469h1v1h-1zM280 469h1v1h-1zM283 469h1v1h-1zM271 470h2v1h-2zM281 470h1v1h-1zM271 471h2v1h-2zM277 472h1v1h-1zM280 472h1v1h-1zM284 472h1v1h-1zM268 473h2v1h-2zM277 473h1v1h-1zM280 473h1v1h-1zM265 474h1v1h-1zM267 474h1v1h-1zM271 474h1v1h-1zM276 474h1v1h-1zM281 474h1v1h-1zM264 475h1v1h-1zM266 475h1v1h-1zM271 475h1v1h-1zM278 475h2v1h-2zM282 475h1v1h-1zM264 476h5v1h-5zM270 476h1v1h-1zM277 476h1v1h-1zM282 476h1v1h-1zM263 477h1v1h-1zM274 477h1v1h-1zM280 477h2v1h-2zM252 478h1v1h-1zM264 478h1v1h-1zM266 478h1v1h-1zM268 478h1v1h-1zM279 478h1v1h-1zM259 479h1v1h-1zM261 479h2v1h-2zM264 479h1v1h-1zM266 479h1v1h-1zM274 479h1v1h-1zM282 479h1v1h-1zM253 480h1v1h-1zM261 480h1v1h-1zM280 480h1v1h-1zM282 480h1v1h-1zM268 481h1v1h-1zM282 481h1v1h-1zM263 482h1v1h-1zM265 482h1v1h-1zM269 482h1v1h-1zM279 482h1v1h-1zM265 483h2v1h-2zM270 483h1v1h-1zM279 483h2v1h-2zM256 484h2v1h-2zM259 484h1v1h-1zM261 484h1v1h-1zM264 484h1v1h-1zM266 484h1v1h-1zM280 484h1v1h-1zM260 485h2v1h-2zM279 485h1v1h-1zM281 485h1v1h-1zM257 486h1v1h-1zM260 486h3v1h-3zM265 486h2v1h-2zM262 487h1v1h-1zM265 487h2v1h-2zM271 487h1v1h-1zM277 487h1v1h-1zM280 487h1v1h-1zM255 488h1v1h-1zM258 488h1v1h-1zM260 488h3v1h-3zM279 488h2v1h-2zM259 489h2v1h-2zM264 489h1v1h-1zM280 489h1v1h-1zM249 490h1v1h-1zM253 490h2v1h-2zM258 490h1v1h-1zM260 490h1v1h-1zM278 490h1v1h-1zM260 491h2v1h-2zM264 491h1v1h-1zM279 491h2v1h-2zM255 492h1v1h-1zM257 492h1v1h-1zM261 492h1v1h-1zM269 492h1v1h-1zM251 493h2v1h-2zM254 493h2v1h-2zM257 493h1v1h-1zM259 493h1v1h-1zM261 493h2v1h-2zM278 493h1v1h-1zM252 494h1v1h-1zM257 494h2v1h-2zM276 494h1v1h-1zM280 494h1v1h-1zM244 495h1v1h-1zM256 495h3v1h-3zM262 495h2v1h-2zM276 495h1v1h-1zM249 496h1v1h-1zM254 496h1v1h-1zM256 496h5v1h-5zM276 496h1v1h-1zM254 497h1v1h-1zM256 497h1v1h-1zM258 497h2v1h-2zM261 497h2v1h-2zM278 497h1v1h-1zM246 498h1v1h-1zM252 498h1v1h-1zM256 498h3v1h-3zM276 498h1v1h-1zM278 498h2v1h-2zM253 499h1v1h-1zM255 499h1v1h-1zM277 499h1v1h-1zM252 500h5v1h-5zM258 500h2v1h-2zM248 501h1v1h-1zM252 501h1v1h-1zM256 501h1v1h-1zM258 501h1v1h-1zM260 501h3v1h-3zM267 501h1v1h-1zM273 501h1v1h-1zM276 501h2v1h-2zM254 502h1v1h-1zM260 502h2v1h-2zM264 502h1v1h-1zM263 503h1v1h-1zM274 503h1v1h-1zM277 503h1v1h-1zM251 504h1v1h-1zM258 504h1v1h-1zM264 504h1v1h-1zM277 504h1v1h-1zM250 505h3v1h-3zM255 505h2v1h-2zM262 505h1v1h-1zM265 505h2v1h-2zM268 505h1v1h-1zM249 506h2v1h-2zM252 506h2v1h-2zM274 506h2v1h-2zM250 507h1v1h-1zM257 507h1v1h-1zM261 507h2v1h-2zM267 507h1v1h-1zM269 507h1v1h-1zM274 507h1v1h-1zM232 508h1v1h-1zM249 508h2v1h-2zM252 508h1v1h-1zM254 508h1v1h-1zM260 508h1v1h-1zM262 508h1v1h-1zM266 508h1v1h-1zM271 508h2v1h-2zM274 508h2v1h-2zM254 509h1v1h-1zM257 509h1v1h-1zM260 509h1v1h-1zM264 509h2v1h-2zM270 509h2v1h-2zM273 509h1v1h-1zM241 510h1v1h-1zM255 510h1v1h-1zM261 510h2v1h-2zM268 510h3v1h-3zM272 510h2v1h-2zM257 511h1v1h-1zM260 511h3v1h-3zM264 511h1v1h-1zM267 511h2v1h-2zM272 511h1v1h-1zM276 511h1v1h-1zM247 512h1v1h-1zM255 512h1v1h-1zM261 512h2v1h-2zM270 512h1v1h-1zM240 513h1v1h-1zM251 513h1v1h-1zM253 513h1v1h-1zM262 513h1v1h-1zM266 513h5v1h-5zM272 513h3v1h-3zM230 514h1v1h-1zM235 514h1v1h-1zM249 514h1v1h-1zM254 514h1v1h-1zM258 514h1v1h-1zM261 514h1v1h-1zM268 514h5v1h-5zM251 515h1v1h-1zM257 515h1v1h-1zM259 515h1v1h-1z"/>
<path fill="#4559ad" fill-opacity="0.8" d="M275 458h1v1h-1zM276 461h1v1h-1zM279 462h1v1h-1zM277 463h1v1h-1zM279 463h1v1h-1zM274 464h1v1h-1zM281 464h1v1h-1zM275 465h1v1h-1zM280 465h2v1h-2zM276 466h1v1h-1zM270 467h1v1h-1zM274 467h1v1h-1zM280 467h1v1h-1zM282 467h1v1h-1zM273 468h1v1h-1zM277 468h1v1h-1zM275 469h1v1h-1zM281 469h2v1h-2zM274 470h1v1h-1zM277 470h2v1h-2zM280 470h1v1h-1zM269 471h1v1h-1zM275 471h1v1h-1zM270 472h1v1h-1zM273 472h1v1h-1zM275 472h1v1h-1zM279 472h1v1h-1zM281 472h1v1h-1zM267 473h1v1h-1zM271 473h1v1h-1zM273 473h1v1h-1zM276 473h1v1h-1zM279 473h1v1h-1zM270 474h1v1h-1zM273 474h1v1h-1zM277 474h1v1h-1zM280 474h1v1h-1zM282 474h1v1h-1zM268 475h1v1h-1zM272 475h4v1h-4zM277 475h1v1h-1zM263 476h1v1h-1zM274 476h2v1h-2zM279 476h3v1h-3zM265 477h3v1h-3zM271 477h1v1h-1zM273 478h1v1h-1zM275 478h2v1h-2zM280 478h1v1h-1zM263 479h1v1h-1zM279 479h1v1h-1zM265 480h1v1h-1zM267 480h3v1h-3zM272 480h1v1h-1zM279 480h1v1h-1zM266 481h1v1h-1zM271 481h1v1h-1zM273 481h1v1h-1zM264 482h1v1h-1zM267 482h1v1h-1zM270 482h1v1h-1zM281 482h1v1h-1zM264 483h1v1h-1zM281 483h1v1h-1zM265 484h1v1h-1zM268 484h1v1h-1zM272 484h1v1h-1zM263 485h1v1h-1zM266 485h1v1h-1zM269 485h1v1h-1zM276 485h1v1h-1zM263 486h2v1h-2zM278 486h1v1h-1zM281 487h1v1h-1zM263 488h1v1h-1zM270 488h2v1h-2zM261 489h1v1h-1zM265 489h1v1h-1zM268 489h1v1h-1zM259 490h1v1h-1zM277 490h1v1h-1zM279 490h2v1h-2zM262 491h1v1h-1zM271 491h1v1h-1zM259 492h1v1h-1zM262 492h1v1h-1zM258 493h1v1h-1zM264 493h1v1h-1zM259 494h2v1h-2zM262 494h3v1h-3zM266 494h1v1h-1zM268 494h1v1h-1zM279 494h1v1h-1zM260 495h1v1h-1zM264 495h1v1h-1zM269 495h1v1h-1zM264 496h2v1h-2zM263 497h1v1h-1zM266 497h1v1h-1zM274 497h1v1h-1zM259 498h1v1h-1zM264 498h1v1h-1zM257 499h5v1h-5zM261 500h1v1h-1zM264 500h1v1h-1zM272 500h1v1h-1zM275 500h3v1h-3zM255 501h1v1h-1zM263 501h1v1h-1zM266 501h1v1h-1zM272 501h1v1h-1zM275 501h1v1h-1zM257 502h2v1h-2zM266 502h1v1h-1zM271 502h2v1h-2zM252 503h1v1h-1zM254 503h1v1h-1zM256 503h2v1h-2zM268 503h1v1h-1zM270 503h1v1h-1zM272 503h2v1h-2zM275 503h1v1h-1zM257 504h1v1h-1zM260 504h1v1h-1zM262 504h1v1h-1zM265 504h1v1h-1zM270 504h2v1h-2zM273 504h1v1h-1zM264 505h1v1h-1zM272 505h1v1h-1zM257 506h1v1h-1zM260 506h1v1h-1zM262 506h1v1h-1zM264 506h2v1h-2zM271 506h1v1h-1zM251 507h1v1h-1zM253 507h2v1h-2zM259 507h1v1h-1zM263 507h1v1h-1zM270 507h1v1h-1zM256 508h1v1h-1zM258 508h1v1h-1zM261 508h1v1h-1zM263 508h2v1h-2zM273 508h1v1h-1zM248 509h1v1h-1zM255 509h1v1h-1zM258 509h2v1h-2zM262 509h2v1h-2zM269 509h1v1h-1zM254 510h1v1h-1zM256 510h1v1h-1zM259 510h1v1h-1zM265 510h1v1h-1zM248 511h1v1h-1zM258 511h2v1h-2zM256 512h1v1h-1zM258 512h1v1h-1zM267 512h1v1h-1zM269 512h1v1h-1zM249 513h1v1h-1zM254 513h1v1h-1zM256 513h4v1h-4zM261 513h1v1h-1zM263 513h2v1h-2zM264 514h3v1h-3z"/>
<path fill="#3a4fa6" d="M279 461h1v1h-1zM277 464h1v1h-1zM279 464h1v1h-1zM278 466h1v1h-1zM280 466h2v1h-2zM278 467h1v1h-1zM278 468h1v1h-1zM276 469h1v1h-1zM279 469h1v1h-1zM273 470h1v1h-1zM275 470h2v1h-2zM279 470h1v1h-1zM273 471h2v1h-2zM276 471h5v1h-5zM274 472h1v1h-1zM276 472h1v1h-1zM278 472h1v1h-1zM270 473h1v1h-1zM272 473h1v1h-1zM275 473h1v1h-1zM278 473h1v1h-1zM283 473h1v1h-1zM269 474h1v1h-1zM272 474h1v1h-1zM274 474h2v1h-2zM278 474h2v1h-2zM269 475h2v1h-2zM276 475h1v1h-1zM280 475h1v1h-1zM269 476h1v1h-1zM271 476h3v1h-3zM276 476h1v1h-1zM278 476h1v1h-1zM268 477h1v1h-1zM270 477h1v1h-1zM272 477h2v1h-2zM275 477h5v1h-5zM267 478h1v1h-1zM269 478h4v1h-4zM274 478h1v1h-1zM277 478h2v1h-2zM281 478h1v1h-1zM269 479h5v1h-5zM275 479h1v1h-1zM277 479h2v1h-2zM280 479h1v1h-1zM266 480h1v1h-1zM270 480h2v1h-2zM273 480h6v1h-6zM269 481h2v1h-2zM272 481h1v1h-1zM274 481h7v1h-7zM268 482h1v1h-1zM271 482h8v1h-8zM280 482h1v1h-1zM267 483h3v1h-3zM271 483h8v1h-8zM267 484h1v1h-1zM269 484h3v1h-3zM273 484h7v1h-7zM265 485h1v1h-1zM267 485h2v1h-2zM270 485h6v1h-6zM277 485h2v1h-2zM280 485h1v1h-1zM267 486h11v1h-11zM279 486h2v1h-2zM267 487h4v1h-4zM272 487h5v1h-5zM278 487h2v1h-2zM264 488h6v1h-6zM272 488h7v1h-7zM258 489h1v1h-1zM263 489h1v1h-1zM266 489h2v1h-2zM269 489h11v1h-11zM261 490h16v1h-16zM263 491h1v1h-1zM265 491h6v1h-6zM272 491h6v1h-6zM263 492h6v1h-6zM270 492h8v1h-8zM279 492h1v1h-1zM263 493h1v1h-1zM265 493h13v1h-13zM261 494h1v1h-1zM265 494h1v1h-1zM267 494h1v1h-1zM269 494h7v1h-7zM277 494h2v1h-2zM259 495h1v1h-1zM261 495h1v1h-1zM265 495h4v1h-4zM270 495h6v1h-6zM277 495h2v1h-2zM261 496h1v1h-1zM263 496h1v1h-1zM266 496h10v1h-10zM279 496h1v1h-1zM260 497h1v1h-1zM264 497h2v1h-2zM267 497h7v1h-7zM275 497h3v1h-3zM260 498h2v1h-2zM263 498h1v1h-1zM265 498h11v1h-11zM277 498h1v1h-1zM256 499h1v1h-1zM262 499h14v1h-14zM260 500h1v1h-1zM262 500h2v1h-2zM265 500h7v1h-7zM273 500h2v1h-2zM259 501h1v1h-1zM264 501h2v1h-2zM268 501h4v1h-4zM259 502h1v1h-1zM262 502h2v1h-2zM265 502h1v1h-1zM267 502h4v1h-4zM255 503h1v1h-1zM258 503h5v1h-5zM264 503h4v1h-4zM269 503h1v1h-1zM271 503h1v1h-1zM254 504h1v1h-1zM256 504h1v1h-1zM261 504h1v1h-1zM266 504h4v1h-4zM272 504h1v1h-1zM274 504h1v1h-1zM258 505h4v1h-4zM263 505h1v1h-1zM267 505h1v1h-1zM269 505h3v1h-3zM273 505h1v1h-1zM255 506h2v1h-2zM259 506h1v1h-1zM261 506h1v1h-1zM263 506h1v1h-1zM266 506h5v1h-5zM272 506h2v1h-2zM249 507h1v1h-1zM252 507h1v1h-1zM258 507h1v1h-1zM260 507h1v1h-1zM264 507h3v1h-3zM268 507h1v1h-1zM265 508h1v1h-1zM267 508h3v1h-3zM261 509h1v1h-1zM266 509h3v1h-3zM258 510h1v1h-1zM260 510h1v1h-1zM263 510h2v1h-2zM266 510h2v1h-2zM255 511h1v1h-1zM263 511h1v1h-1zM265 511h2v1h-2zM257 512h1v1h-1zM259 512h2v1h-2zM263 512h4v1h-4zM268 512h1v1h-1zM265 513h1v1h-1zM255 514h1v1h-1zM260 514h1v1h-1zM262 514h2v1h-2zM267 514h1v1h-1z"/>
<path fill="#b8453c" fill-opacity="0.5" d="M289 451h1v1h-1zM292 453h1v1h-1zM297 456h1v1h-1zM308 457h1v1h-1zM290 459h2v1h-2zM300 459h1v1h-1zM302 459h1v1h-1zM306 460h1v1h-1zM288 462h1v1h-1zM292 462h1v1h-1zM301 462h1v1h-1zM310 462h1v1h-1zM292 463h1v1h-1zM286 464h1v1h-1zM289 464h1v1h-1zM293 464h1v1h-1zM298 464h1v1h-1zM301 464h1v1h-1zM286 465h1v1h-1zM290 465h1v1h-1zM292 465h1v1h-1zM300 465h1v1h-1zM286 466h2v1h-2zM290 466h1v1h-1zM292 466h1v1h-1zM300 466h1v1h-1zM303 466h2v1h-2zM287 467h4v1h-4zM300 467h3v1h-3zM306 467h1v1h-1zM308 467h1v1h-1zM286 468h2v1h-2zM289 468h1v1h-1zM293 468h1v1h-1zM296 468h1v1h-1zM298 468h1v1h-1zM286 469h1v1h-1zM292 469h1v1h-1zM296 469h1v1h-1zM300 469h1v1h-1zM307 469h1v1h-1zM310 469h1v1h-1zM285 470h2v1h-2zM288 470h1v1h-1zM294 470h1v1h-1zM303 470h1v1h-1zM306 470h1v1h-1zM312 470h1v1h-1zM285 471h1v1h-1zM290 471h1v1h-1zM294 471h2v1h-2zM300 471h1v1h-1zM303 471h1v1h-1zM306 471h1v1h-1zM309 471h1v1h-1zM290 472h2v1h-2zM296 472h1v1h-1zM298 472h1v1h-1zM302 472h1v1h-1zM304 472h1v1h-1zM313 472h1v1h-1zM324 472h1v1h-1zM285 473h1v1h-1zM287 473h4v1h-4zM292 473h2v1h-2zM296 473h1v1h-1zM298 473h1v1h-1zM303 473h1v1h-1zM312 473h1v1h-1zM284 474h2v1h-2zM290 474h2v1h-2zM294 474h3v1h-3zM305 474h1v1h-1zM285 475h1v1h-1zM287 475h1v1h-1zM289 475h1v1h-1zM291 475h1v1h-1zM294 475h1v1h-1zM303 475h2v1h-2zM309 475h1v1h-1zM318 475h1v1h-1zM297 476h1v1h-1zM302 476h1v1h-1zM305 476h1v1h-1zM319 476h1v1h-1zM321 476h2v1h-2zM286 477h1v1h-1zM288 477h1v1h-1zM291 477h1v1h-1zM293 477h1v1h-1zM295 477h1v1h-1zM313 477h1v1h-1zM316 477h1v1h-1zM319 477h2v1h-2zM285 478h1v1h-1zM290 478h1v1h-1zM293 478h3v1h-3zM309 478h1v1h-1zM313 478h1v1h-1zM317 478h1v1h-1zM288 479h1v1h-1zM291 479h2v1h-2zM294 479h2v1h-2zM297 479h2v1h-2zM303 479h1v1h-1zM308 479h1v1h-1zM312 479h1v1h-1zM316 479h1v1h-1zM319 479h1v1h-1zM323 479h1v1h-1zM286 480h1v1h-1zM292 480h3v1h-3zM299 480h1v1h-1zM301 480h2v1h-2zM308 480h2v1h-2zM314 480h1v1h-1zM316 480h1v1h-1zM319 480h1v1h-1zM326 480h1v1h-1zM288 481h4v1h-4zM294 481h1v1h-1zM296 481h1v1h-1zM301 481h2v1h-2zM305 481h1v1h-1zM307 481h1v1h-1zM319 481h2v1h-2zM324 481h1v1h-1zM326 481h1v1h-1zM328 481h1v1h-1zM283 482h1v1h-1zM290 482h1v1h-1zM295 482h1v1h-1zM298 482h1v1h-1zM302 482h3v1h-3zM308 482h1v1h-1zM311 482h1v1h-1zM318 482h2v1h-2zM322 482h1v1h-1zM288 483h1v1h-1zM294 483h2v1h-2zM301 483h2v1h-2zM315 483h2v1h-2zM289 484h2v1h-2zM293 484h3v1h-3zM299 484h3v1h-3zM306 484h2v1h-2zM309 484h1v1h-1zM311 484h1v1h-1zM314 484h1v1h-1zM316 484h2v1h-2zM285 485h1v1h-1zM287 485h1v1h-1zM290 485h1v1h-1zM294 485h1v1h-1zM296 485h1v1h-1zM299 485h2v1h-2zM309 485h1v1h-1zM314 485h1v1h-1zM323 485h1v1h-1zM287 486h1v1h-1zM290 486h1v1h-1zM300 486h1v1h-1zM302 486h2v1h-2zM306 486h2v1h-2zM310 486h4v1h-4zM321 486h1v1h-1zM282 487h1v1h-1zM290 487h1v1h-1zM293 487h2v1h-2zM296 487h1v1h-1zM304 487h3v1h-3zM308 487h3v1h-3zM312 487h1v1h-1zM317 487h1v1h-1zM320 487h1v1h-1zM282 488h1v1h-1zM291 488h1v1h-1zM297 488h3v1h-3zM304 488h1v1h-1zM306 488h2v1h-2zM311 488h2v1h-2zM282 489h2v1h-2zM289 489h1v1h-1zM291 489h3v1h-3zM295 489h1v1h-1zM299 489h1v1h-1zM301 489h1v1h-1zM303 489h1v1h-1zM316 489h1v1h-1zM319 489h2v1h-2zM324 489h1v1h-1zM290 490h1v1h-1zM294 490h2v1h-2zM297 490h1v1h-1zM303 490h1v1h-1zM309 490h1v1h-1zM312 490h1v1h-1zM314 490h1v1h-1zM287 491h1v1h-1zM294 491h2v1h-2zM300 491h2v1h-2zM306 491h1v1h-1zM312 491h1v1h-1zM320 491h1v1h-1zM327 491h1v1h-1zM287 492h3v1h-3zM292 492h1v1h-1zM297 492h3v1h-3zM302 492h1v1h-1zM305 492h1v1h-1zM309 492h1v1h-1zM311 492h1v1h-1zM315 492h1v1h-1zM317 492h1v1h-1zM319 492h1v1h-1zM325 492h1v1h-1zM281 493h1v1h-1zM285 493h1v1h-1zM290 493h1v1h-1zM294 493h4v1h-4zM301 493h1v1h-1zM304 493h1v1h-1zM309 493h1v1h-1zM311 493h2v1h-2zM315 493h1v1h-1zM317 493h1v1h-1zM328 493h1v1h-1zM287 494h2v1h-2zM293 494h2v1h-2zM298 494h1v1h-1zM300 494h1v1h-1zM302 494h1v1h-1zM304 494h1v1h-1zM307 494h2v1h-2zM310 494h1v1h-1zM312 494h1v1h-1zM315 494h1v1h-1zM328 494h1v1h-1zM284 495h1v1h-1zM289 495h1v1h-1zM292 495h2v1h-2zM295 495h1v1h-1zM297 495h1v1h-1zM303 495h1v1h-1zM307 495h2v1h-2zM311 495h1v1h-1zM315 495h2v1h-2zM326 495h1v1h-1zM284 496h1v1h-1zM290 496h1v1h-1zM296 496h1v1h-1zM303 496h1v1h-1zM311 496h1v1h-1zM315 496h4v1h-4zM281 497h1v1h-1zM284 497h2v1h-2zM293 497h1v1h-1zM296 497h3v1h-3zM300 497h1v1h-1zM303 497h1v1h-1zM307 497h1v1h-1zM310 497h1v1h-1zM313 497h1v1h-1zM315 497h1v1h-1zM318 497h2v1h-2zM321 497h1v1h-1zM328 497h1v1h-1zM281 498h1v1h-1zM286 498h2v1h-2zM289 498h1v1h-1zM291 498h2v1h-2zM294 498h1v1h-1zM296 498h1v1h-1zM300 498h3v1h-3zM304 498h1v1h-1zM281 499h1v1h-1zM287 499h1v1h-1zM291 499h2v1h-2zM295 499h1v1h-1zM298 499h1v1h-1zM300 499h1v1h-1zM304 499h1v1h-1zM306 499h1v1h-1zM313 499h1v1h-1zM280 500h1v1h-1zM292 500h3v1h-3zM296 500h1v1h-1zM299 500h1v1h-1zM303 500h1v1h-1zM305 500h3v1h-3zM309 500h1v1h-1zM311 500h1v1h-1zM318 500h1v1h-1zM281 501h2v1h-2zM285 501h2v1h-2zM292 501h2v1h-2zM297 501h1v1h-1zM316 501h1v1h-1zM280 502h2v1h-2zM285 502h3v1h-3zM289 502h1v1h-1zM293 502h2v1h-2zM296 502h1v1h-1zM303 502h1v1h-1zM313 502h1v1h-1zM325 502h1v1h-1zM327 502h1v1h-1zM280 503h1v1h-1zM285 503h3v1h-3zM289 503h3v1h-3zM297 503h1v1h-1zM304 503h1v1h-1zM306 503h2v1h-2zM314 503h1v1h-1zM284 504h1v1h-1zM288 504h2v1h-2zM294 504h3v1h-3zM315 504h1v1h-1zM279 505h1v1h-1zM281 505h1v1h-1zM283 505h1v1h-1zM285 505h1v1h-1zM297 505h1v1h-1zM299 505h1v1h-1zM302 505h1v1h-1zM307 505h1v1h-1zM312 505h1v1h-1zM324 505h1v1h-1zM329 505h1v1h-1zM279 506h3v1h-3zM286 506h3v1h-3zM293 506h1v1h-1zM304 506h1v1h-1zM280 507h1v1h-1zM286 507h2v1h-2zM294 507h2v1h-2zM297 507h1v1h-1zM305 507h1v1h-1zM308 507h1v1h-1zM281 508h1v1h-1zM286 508h1v1h-1zM293 508h1v1h-1zM295 508h1v1h-1zM298 508h1v1h-1zM280 509h1v1h-1zM283 509h1v1h-1zM285 509h1v1h-1zM287 509h1v1h-1zM291 509h1v1h-1zM295 509h1v1h-1zM306 509h1v1h-1zM278 510h1v1h-1zM281 510h1v1h-1zM289 510h1v1h-1zM292 510h1v1h-1zM279 511h1v1h-1zM282 511h1v1h-1zM285 511h1v1h-1zM293 511h1v1h-1zM320 511h1v1h-1zM281 512h1v1h-1zM286 512h2v1h-2zM279 513h1v1h-1zM282 513h3v1h-3z"/>
<path fill="#ad4038" fill-opacity="0.75" d="M294 463h1v1h-1zM286 467h1v1h-1zM291 469h1v1h-1zM287 470h1v1h-1zM289 470h1v1h-1zM295 470h1v1h-1zM286 471h1v1h-1zM288 471h2v1h-2zM291 471h3v1h-3zM285 472h1v1h-1zM289 472h1v1h-1zM300 472h1v1h-1zM286 474h3v1h-3zM292 474h1v1h-1zM310 474h1v1h-1zM284 475h1v1h-1zM288 475h1v1h-1zM290 475h1v1h-1zM292 475h1v1h-1zM297 475h1v1h-1zM306 475h1v1h-1zM285 476h5v1h-5zM291 476h1v1h-1zM293 476h1v1h-1zM298 476h1v1h-1zM284 477h2v1h-2zM289 477h1v1h-1zM299 477h1v1h-1zM315 477h1v1h-1zM284 478h1v1h-1zM286 478h4v1h-4zM292 478h1v1h-1zM301 478h1v1h-1zM305 478h1v1h-1zM285 479h3v1h-3zM289 479h2v1h-2zM293 479h1v1h-1zM300 479h1v1h-1zM305 479h1v1h-1zM284 480h2v1h-2zM287 480h5v1h-5zM283 481h5v1h-5zM292 481h1v1h-1zM295 481h1v1h-1zM299 481h1v1h-1zM303 481h1v1h-1zM284 482h6v1h-6zM293 482h2v1h-2zM314 482h1v1h-1zM283 483h5v1h-5zM289 483h1v1h-1zM291 483h2v1h-2zM305 483h1v1h-1zM283 484h6v1h-6zM302 484h1v1h-1zM283 485h2v1h-2zM286 485h1v1h-1zM289 485h1v1h-1zM291 485h1v1h-1zM293 485h1v1h-1zM297 485h1v1h-1zM304 485h1v1h-1zM283 486h3v1h-3zM288 486h2v1h-2zM291 486h1v1h-1zM293 486h3v1h-3zM297 486h1v1h-1zM304 486h1v1h-1zM283 487h7v1h-7zM291 487h1v1h-1zM295 487h1v1h-1zM298 487h5v1h-5zM283 488h4v1h-4zM288 488h2v1h-2zM292 488h4v1h-4zM301 488h1v1h-1zM284 489h5v1h-5zM290 489h1v1h-1zM294 489h1v1h-1zM296 489h3v1h-3zM305 489h2v1h-2zM312 489h1v1h-1zM282 490h8v1h-8zM291 490h3v1h-3zM298 490h1v1h-1zM301 490h1v1h-1zM282 491h5v1h-5zM288 491h3v1h-3zM292 491h2v1h-2zM305 491h1v1h-1zM282 492h5v1h-5zM291 492h1v1h-1zM293 492h2v1h-2zM296 492h1v1h-1zM282 493h3v1h-3zM286 493h4v1h-4zM291 493h1v1h-1zM293 493h1v1h-1zM302 493h1v1h-1zM306 493h1v1h-1zM281 494h6v1h-6zM289 494h1v1h-1zM292 494h1v1h-1zM296 494h1v1h-1zM299 494h1v1h-1zM303 494h1v1h-1zM281 495h3v1h-3zM285 495h4v1h-4zM290 495h1v1h-1zM294 495h1v1h-1zM300 495h1v1h-1zM314 495h1v1h-1zM281 496h1v1h-1zM283 496h1v1h-1zM285 496h2v1h-2zM288 496h2v1h-2zM292 496h1v1h-1zM294 496h1v1h-1zM305 496h1v1h-1zM282 497h2v1h-2zM287 497h2v1h-2zM290 497h2v1h-2zM283 498h3v1h-3zM288 498h1v1h-1zM290 498h1v1h-1zM293 498h1v1h-1zM299 498h1v1h-1zM313 498h1v1h-1zM282 499h3v1h-3zM286 499h1v1h-1zM288 499h1v1h-1zM290 499h1v1h-1zM297 499h1v1h-1zM307 499h1v1h-1zM281 500h3v1h-3zM286 500h1v1h-1zM290 500h2v1h-2zM295 500h1v1h-1zM280 501h1v1h-1zM283 501h1v1h-1zM287 501h2v1h-2zM290 501h1v1h-1zM294 501h1v1h-1zM282 502h2v1h-2zM281 503h1v1h-1zM283 503h2v1h-2zM294 503h1v1h-1zM319 503h1v1h-1zM280 504h1v1h-1zM282 504h2v1h-2zM285 504h1v1h-1zM290 504h1v1h-1zM298 504h1v1h-1zM305 504h1v1h-1zM282 505h1v1h-1zM291 505h1v1h-1zM282 506h2v1h-2zM295 506h1v1h-1zM281 507h1v1h-1zM283 507h1v1h-1zM285 507h1v1h-1zM288 507h1v1h-1zM292 507h1v1h-1zM298 507h1v1h-1zM283 508h2v1h-2zM287 508h1v1h-1zM281 511h1v1h-1zM287 511h1v1h-1zM289 511h1v1h-1zM284 512h1v1h-1z"/>
</g>
<path d="M289.5 443.1H340.7V523.8H276.3Z" stroke="#d6393d" stroke-width="1.1" fill="none"/>
<path d="M221.8 426.2V543.2H346.20000000000005" stroke="#111" stroke-width="1.3" fill="none"/>
<line x1="218.2" y1="543.1" x2="221.8" y2="543.1" stroke="#111" stroke-width="1"/>
<text x="214.5" y="546.2" font-size="9.6" text-anchor="end" fill="#1a1a1a" textLength="4.9" lengthAdjust="spacingAndGlyphs" >0</text>
<line x1="220.0" y1="538.6" x2="221.8" y2="538.6" stroke="#111" stroke-width="0.8"/>
<line x1="220.0" y1="534.1" x2="221.8" y2="534.1" stroke="#111" stroke-width="0.8"/>
<line x1="220.0" y1="529.5" x2="221.8" y2="529.5" stroke="#111" stroke-width="0.8"/>
<line x1="220.0" y1="525.0" x2="221.8" y2="525.0" stroke="#111" stroke-width="0.8"/>
<line x1="218.2" y1="520.5" x2="221.8" y2="520.5" stroke="#111" stroke-width="1"/>
<text x="214.5" y="523.6" font-size="9.6" text-anchor="end" fill="#1a1a1a" textLength="10" lengthAdjust="spacingAndGlyphs" >50</text>
<line x1="220.0" y1="516.0" x2="221.8" y2="516.0" stroke="#111" stroke-width="0.8"/>
<line x1="220.0" y1="511.5" x2="221.8" y2="511.5" stroke="#111" stroke-width="0.8"/>
<line x1="220.0" y1="506.9" x2="221.8" y2="506.9" stroke="#111" stroke-width="0.8"/>
<line x1="220.0" y1="502.4" x2="221.8" y2="502.4" stroke="#111" stroke-width="0.8"/>
<line x1="218.2" y1="497.9" x2="221.8" y2="497.9" stroke="#111" stroke-width="1"/>
<text x="214.5" y="501.00000000000006" font-size="9.6" text-anchor="end" fill="#1a1a1a" textLength="15" lengthAdjust="spacingAndGlyphs" >100</text>
<line x1="220.0" y1="493.4" x2="221.8" y2="493.4" stroke="#111" stroke-width="0.8"/>
<line x1="220.0" y1="488.9" x2="221.8" y2="488.9" stroke="#111" stroke-width="0.8"/>
<line x1="220.0" y1="484.3" x2="221.8" y2="484.3" stroke="#111" stroke-width="0.8"/>
<line x1="220.0" y1="479.8" x2="221.8" y2="479.8" stroke="#111" stroke-width="0.8"/>
<line x1="218.2" y1="475.3" x2="221.8" y2="475.3" stroke="#111" stroke-width="1"/>
<text x="214.5" y="478.40000000000003" font-size="9.6" text-anchor="end" fill="#1a1a1a" textLength="15" lengthAdjust="spacingAndGlyphs" >150</text>
<line x1="220.0" y1="470.8" x2="221.8" y2="470.8" stroke="#111" stroke-width="0.8"/>
<line x1="220.0" y1="466.3" x2="221.8" y2="466.3" stroke="#111" stroke-width="0.8"/>
<line x1="220.0" y1="461.7" x2="221.8" y2="461.7" stroke="#111" stroke-width="0.8"/>
<line x1="220.0" y1="457.2" x2="221.8" y2="457.2" stroke="#111" stroke-width="0.8"/>
<line x1="218.2" y1="452.7" x2="221.8" y2="452.7" stroke="#111" stroke-width="1"/>
<text x="214.5" y="455.80000000000007" font-size="9.6" text-anchor="end" fill="#1a1a1a" textLength="15" lengthAdjust="spacingAndGlyphs" >200</text>
<line x1="220.0" y1="448.2" x2="221.8" y2="448.2" stroke="#111" stroke-width="0.8"/>
<line x1="220.0" y1="443.7" x2="221.8" y2="443.7" stroke="#111" stroke-width="0.8"/>
<line x1="220.0" y1="439.1" x2="221.8" y2="439.1" stroke="#111" stroke-width="0.8"/>
<line x1="220.0" y1="434.6" x2="221.8" y2="434.6" stroke="#111" stroke-width="0.8"/>
<line x1="218.2" y1="430.1" x2="221.8" y2="430.1" stroke="#111" stroke-width="1"/>
<text x="214.5" y="433.20000000000005" font-size="9.6" text-anchor="end" fill="#1a1a1a" textLength="15" lengthAdjust="spacingAndGlyphs" >250</text>
<line x1="254.3" y1="543.2" x2="254.3" y2="545.1" stroke="#111" stroke-width="0.8"/>
<line x1="259.8" y1="543.2" x2="259.8" y2="545.1" stroke="#111" stroke-width="0.8"/>
<line x1="263.7" y1="543.2" x2="263.7" y2="545.1" stroke="#111" stroke-width="0.8"/>
<line x1="266.7" y1="543.2" x2="266.7" y2="545.1" stroke="#111" stroke-width="0.8"/>
<line x1="269.1" y1="543.2" x2="269.1" y2="545.1" stroke="#111" stroke-width="0.8"/>
<line x1="271.2" y1="543.2" x2="271.2" y2="545.1" stroke="#111" stroke-width="0.8"/>
<line x1="273.0" y1="543.2" x2="273.0" y2="545.1" stroke="#111" stroke-width="0.8"/>
<line x1="274.6" y1="543.2" x2="274.6" y2="545.1" stroke="#111" stroke-width="0.8"/>
<line x1="284.9" y1="543.2" x2="284.9" y2="545.1" stroke="#111" stroke-width="0.8"/>
<line x1="290.0" y1="543.2" x2="290.0" y2="545.1" stroke="#111" stroke-width="0.8"/>
<line x1="293.7" y1="543.2" x2="293.7" y2="545.1" stroke="#111" stroke-width="0.8"/>
<line x1="296.5" y1="543.2" x2="296.5" y2="545.1" stroke="#111" stroke-width="0.8"/>
<line x1="298.9" y1="543.2" x2="298.9" y2="545.1" stroke="#111" stroke-width="0.8"/>
<line x1="300.8" y1="543.2" x2="300.8" y2="545.1" stroke="#111" stroke-width="0.8"/>
<line x1="302.6" y1="543.2" x2="302.6" y2="545.1" stroke="#111" stroke-width="0.8"/>
<line x1="304.1" y1="543.2" x2="304.1" y2="545.1" stroke="#111" stroke-width="0.8"/>
<line x1="314.0" y1="543.2" x2="314.0" y2="545.1" stroke="#111" stroke-width="0.8"/>
<line x1="319.0" y1="543.2" x2="319.0" y2="545.1" stroke="#111" stroke-width="0.8"/>
<line x1="322.6" y1="543.2" x2="322.6" y2="545.1" stroke="#111" stroke-width="0.8"/>
<line x1="325.4" y1="543.2" x2="325.4" y2="545.1" stroke="#111" stroke-width="0.8"/>
<line x1="327.7" y1="543.2" x2="327.7" y2="545.1" stroke="#111" stroke-width="0.8"/>
<line x1="329.6" y1="543.2" x2="329.6" y2="545.1" stroke="#111" stroke-width="0.8"/>
<line x1="331.2" y1="543.2" x2="331.2" y2="545.1" stroke="#111" stroke-width="0.8"/>
<line x1="332.7" y1="543.2" x2="332.7" y2="545.1" stroke="#111" stroke-width="0.8"/>
<line x1="245.0" y1="543.2" x2="245.0" y2="545.4000000000001" stroke="#111" stroke-width="1"/>
<text x="239.2" y="557.9" font-size="9" fill="#1a1a1a">10<tspan font-size="6.5" dy="-3.6">2</tspan></text>
<line x1="276.0" y1="543.2" x2="276.0" y2="545.4000000000001" stroke="#111" stroke-width="1"/>
<text x="270.2" y="557.9" font-size="9" fill="#1a1a1a">10<tspan font-size="6.5" dy="-3.6">3</tspan></text>
<line x1="305.4" y1="543.2" x2="305.4" y2="545.4000000000001" stroke="#111" stroke-width="1"/>
<text x="299.6" y="557.9" font-size="9" fill="#1a1a1a">10<tspan font-size="6.5" dy="-3.6">4</tspan></text>
<line x1="334.0" y1="543.2" x2="334.0" y2="545.4000000000001" stroke="#111" stroke-width="1"/>
<text x="328.2" y="557.9" font-size="9" fill="#1a1a1a">10<tspan font-size="6.5" dy="-3.6">5</tspan></text>
<rect x="231.4" y="543.2" width="3.4" height="1.6" fill="#111"/>
<line x1="226.9" y1="543.2" x2="226.9" y2="544.5" stroke="#111" stroke-width="0.6"/>
<line x1="228.9" y1="543.2" x2="228.9" y2="544.5" stroke="#111" stroke-width="0.6"/>
<line x1="237.4" y1="543.2" x2="237.4" y2="544.5" stroke="#111" stroke-width="0.6"/>
<line x1="240.4" y1="543.2" x2="240.4" y2="544.5" stroke="#111" stroke-width="0.6"/>
<text x="283.55" y="420.2" font-size="11.3" text-anchor="middle" fill="#1a1a1a" textLength="78.7" lengthAdjust="spacingAndGlyphs" >ATF4 sgRNA #1</text>
<text x="317.5" y="438.7" font-size="9.8" text-anchor="middle" fill="#1a1a1a" textLength="29" lengthAdjust="spacingAndGlyphs" >15.19%</text>
</g>
<g>
<g filter="url(#soft)">
<path fill="#5063b2" fill-opacity="0.5" d="M446 452h1v1h-1zM438 453h1v1h-1zM441 453h1v1h-1zM447 454h1v1h-1zM443 455h1v1h-1zM445 456h1v1h-1zM447 457h1v1h-1zM445 458h1v1h-1zM447 458h1v1h-1zM438 459h1v1h-1zM443 459h1v1h-1zM445 459h1v1h-1zM450 459h1v1h-1zM442 460h1v1h-1zM444 460h1v1h-1zM447 460h2v1h-2zM441 461h1v1h-1zM445 461h2v1h-2zM439 462h2v1h-2zM444 462h3v1h-3zM448 462h1v1h-1zM441 463h2v1h-2zM444 463h1v1h-1zM434 464h1v1h-1zM437 464h2v1h-2zM442 464h3v1h-3zM446 464h1v1h-1zM439 465h1v1h-1zM441 465h4v1h-4zM446 465h1v1h-1zM433 466h1v1h-1zM438 466h1v1h-1zM445 466h3v1h-3zM443 467h2v1h-2zM449 467h1v1h-1zM436 468h2v1h-2zM445 468h2v1h-2zM440 469h1v1h-1zM445 469h1v1h-1zM447 469h2v1h-2zM433 470h2v1h-2zM440 470h1v1h-1zM447 470h1v1h-1zM436 471h1v1h-1zM439 471h1v1h-1zM441 471h1v1h-1zM445 471h1v1h-1zM447 471h1v1h-1zM436 472h1v1h-1zM438 472h2v1h-2zM446 472h1v1h-1zM432 473h2v1h-2zM435 473h1v1h-1zM437 473h1v1h-1zM440 473h1v1h-1zM442 473h1v1h-1zM447 473h1v1h-1zM436 474h1v1h-1zM440 474h1v1h-1zM430 475h1v1h-1zM436 475h1v1h-1zM439 475h1v1h-1zM446 475h1v1h-1zM433 476h1v1h-1zM435 476h1v1h-1zM437 476h1v1h-1zM441 476h1v1h-1zM446 476h1v1h-1zM448 476h1v1h-1zM430 477h1v1h-1zM432 477h2v1h-2zM446 477h3v1h-3zM428 478h1v1h-1zM430 478h1v1h-1zM433 478h1v1h-1zM446 478h1v1h-1zM434 479h1v1h-1zM433 480h2v1h-2zM446 480h1v1h-1zM434 482h1v1h-1zM426 483h2v1h-2zM431 483h1v1h-1zM435 483h1v1h-1zM429 484h2v1h-2zM433 484h1v1h-1zM446 484h1v1h-1zM430 485h1v1h-1zM432 485h2v1h-2zM446 485h1v1h-1zM429 486h1v1h-1zM431 486h2v1h-2zM434 486h1v1h-1zM430 487h2v1h-2zM446 487h1v1h-1zM430 488h2v1h-2zM427 489h1v1h-1zM430 489h1v1h-1zM432 489h3v1h-3zM437 489h1v1h-1zM445 489h2v1h-2zM427 490h1v1h-1zM446 490h1v1h-1zM429 491h1v1h-1zM431 491h1v1h-1zM446 491h1v1h-1zM425 492h1v1h-1zM429 492h1v1h-1zM431 492h1v1h-1zM425 493h1v1h-1zM429 493h1v1h-1zM427 494h2v1h-2zM433 494h1v1h-1zM445 494h1v1h-1zM422 495h1v1h-1zM425 495h2v1h-2zM430 495h1v1h-1zM432 495h1v1h-1zM434 495h1v1h-1zM445 495h1v1h-1zM425 496h1v1h-1zM443 496h3v1h-3zM429 497h1v1h-1zM444 497h2v1h-2zM421 498h2v1h-2zM425 498h2v1h-2zM428 498h1v1h-1zM423 499h1v1h-1zM425 499h1v1h-1zM427 499h2v1h-2zM422 500h2v1h-2zM443 500h1v1h-1zM423 501h1v1h-1zM425 501h2v1h-2zM429 501h2v1h-2zM424 502h1v1h-1zM426 502h1v1h-1zM433 502h1v1h-1zM443 502h2v1h-2zM421 503h1v1h-1zM423 503h2v1h-2zM426 503h2v1h-2zM429 503h1v1h-1zM441 503h2v1h-2zM417 504h1v1h-1zM424 504h4v1h-4zM430 504h1v1h-1zM434 504h2v1h-2zM441 504h3v1h-3zM417 505h1v1h-1zM421 505h2v1h-2zM427 505h1v1h-1zM432 505h1v1h-1zM434 505h1v1h-1zM442 505h1v1h-1zM420 506h1v1h-1zM427 506h2v1h-2zM440 506h1v1h-1zM423 507h3v1h-3zM429 507h1v1h-1zM431 507h1v1h-1zM439 507h1v1h-1zM442 507h2v1h-2zM421 508h1v1h-1zM424 508h1v1h-1zM430 508h1v1h-1zM438 508h1v1h-1zM442 508h2v1h-2zM424 509h1v1h-1zM426 509h2v1h-2zM431 509h1v1h-1zM438 509h1v1h-1zM440 509h1v1h-1zM442 509h1v1h-1zM415 510h1v1h-1zM420 510h1v1h-1zM427 510h1v1h-1zM434 510h1v1h-1zM422 511h1v1h-1zM431 511h2v1h-2zM440 511h1v1h-1zM414 512h1v1h-1zM419 512h1v1h-1zM423 512h1v1h-1zM427 512h2v1h-2zM440 512h1v1h-1zM415 513h2v1h-2zM420 513h7v1h-7zM428 513h2v1h-2zM435 513h1v1h-1zM421 514h2v1h-2zM427 514h2v1h-2zM434 514h2v1h-2zM412 515h1v1h-1zM428 515h1v1h-1zM436 515h1v1h-1zM438 515h1v1h-1z"/>
<path fill="#4559ad" fill-opacity="0.8" d="M444 459h1v1h-1zM440 460h1v1h-1zM445 460h1v1h-1zM439 461h1v1h-1zM438 463h1v1h-1zM445 463h2v1h-2zM440 464h1v1h-1zM441 466h1v1h-1zM444 466h1v1h-1zM440 467h1v1h-1zM446 467h1v1h-1zM438 468h3v1h-3zM442 468h2v1h-2zM448 468h1v1h-1zM443 469h2v1h-2zM446 469h1v1h-1zM449 469h1v1h-1zM436 470h1v1h-1zM439 470h1v1h-1zM441 470h1v1h-1zM445 470h1v1h-1zM437 471h2v1h-2zM440 471h1v1h-1zM435 472h1v1h-1zM437 472h1v1h-1zM445 472h1v1h-1zM448 472h1v1h-1zM434 473h1v1h-1zM439 473h1v1h-1zM441 473h1v1h-1zM445 473h1v1h-1zM448 473h1v1h-1zM435 474h1v1h-1zM438 474h1v1h-1zM446 474h1v1h-1zM434 475h2v1h-2zM440 475h1v1h-1zM447 475h1v1h-1zM444 476h1v1h-1zM434 477h1v1h-1zM436 477h1v1h-1zM438 477h1v1h-1zM442 477h1v1h-1zM445 477h1v1h-1zM445 478h1v1h-1zM435 479h1v1h-1zM438 479h2v1h-2zM441 479h1v1h-1zM443 479h1v1h-1zM447 479h1v1h-1zM435 480h1v1h-1zM429 481h1v1h-1zM432 481h1v1h-1zM433 482h1v1h-1zM447 482h1v1h-1zM433 483h1v1h-1zM446 483h2v1h-2zM431 484h1v1h-1zM434 484h2v1h-2zM431 485h1v1h-1zM438 485h1v1h-1zM433 486h1v1h-1zM433 487h1v1h-1zM437 487h1v1h-1zM432 488h1v1h-1zM435 488h1v1h-1zM446 488h1v1h-1zM435 489h1v1h-1zM435 490h1v1h-1zM433 491h1v1h-1zM432 492h1v1h-1zM428 493h1v1h-1zM430 493h2v1h-2zM433 493h1v1h-1zM436 493h1v1h-1zM445 493h1v1h-1zM436 494h1v1h-1zM443 494h1v1h-1zM428 495h1v1h-1zM436 495h1v1h-1zM428 496h1v1h-1zM430 496h1v1h-1zM432 496h1v1h-1zM430 497h1v1h-1zM441 497h1v1h-1zM443 497h1v1h-1zM429 498h2v1h-2zM432 498h3v1h-3zM436 499h1v1h-1zM444 499h1v1h-1zM426 500h1v1h-1zM429 500h1v1h-1zM442 500h1v1h-1zM434 501h1v1h-1zM436 501h1v1h-1zM443 501h1v1h-1zM421 502h1v1h-1zM427 502h1v1h-1zM430 502h1v1h-1zM434 502h1v1h-1zM441 502h2v1h-2zM443 503h1v1h-1zM429 504h1v1h-1zM424 505h2v1h-2zM440 505h1v1h-1zM425 506h1v1h-1zM429 506h3v1h-3zM439 506h1v1h-1zM441 506h1v1h-1zM430 507h1v1h-1zM437 507h1v1h-1zM425 508h2v1h-2zM436 508h1v1h-1zM439 508h1v1h-1zM423 509h1v1h-1zM425 509h1v1h-1zM429 509h1v1h-1zM433 509h1v1h-1zM436 509h2v1h-2zM441 509h1v1h-1zM426 510h1v1h-1zM428 510h1v1h-1zM432 510h1v1h-1zM438 510h1v1h-1zM427 511h1v1h-1zM429 511h1v1h-1zM433 511h3v1h-3zM438 511h1v1h-1zM425 512h1v1h-1zM429 512h1v1h-1zM433 512h1v1h-1zM435 512h3v1h-3zM439 512h1v1h-1zM430 513h1v1h-1zM433 513h1v1h-1zM438 513h1v1h-1zM423 514h1v1h-1zM425 514h1v1h-1zM430 514h1v1h-1zM433 514h1v1h-1zM440 514h1v1h-1z"/>
<path fill="#3a4fa6" d="M440 458h1v1h-1zM443 466h1v1h-1zM441 467h2v1h-2zM445 467h1v1h-1zM447 467h1v1h-1zM444 468h1v1h-1zM438 469h2v1h-2zM441 469h2v1h-2zM442 470h3v1h-3zM446 470h1v1h-1zM443 471h2v1h-2zM446 471h1v1h-1zM441 472h4v1h-4zM443 473h2v1h-2zM446 473h1v1h-1zM437 474h1v1h-1zM439 474h1v1h-1zM441 474h5v1h-5zM447 474h1v1h-1zM442 475h4v1h-4zM436 476h1v1h-1zM439 476h2v1h-2zM442 476h2v1h-2zM445 476h1v1h-1zM447 476h1v1h-1zM437 477h1v1h-1zM439 477h3v1h-3zM443 477h1v1h-1zM435 478h10v1h-10zM437 479h1v1h-1zM440 479h1v1h-1zM442 479h1v1h-1zM444 479h3v1h-3zM436 480h9v1h-9zM435 481h13v1h-13zM435 482h12v1h-12zM432 483h1v1h-1zM434 483h1v1h-1zM436 483h10v1h-10zM432 484h1v1h-1zM436 484h10v1h-10zM434 485h4v1h-4zM439 485h7v1h-7zM435 486h12v1h-12zM434 487h3v1h-3zM438 487h8v1h-8zM433 488h2v1h-2zM436 488h10v1h-10zM431 489h1v1h-1zM436 489h1v1h-1zM438 489h7v1h-7zM432 490h3v1h-3zM436 490h10v1h-10zM432 491h1v1h-1zM434 491h12v1h-12zM433 492h12v1h-12zM432 493h1v1h-1zM434 493h2v1h-2zM437 493h8v1h-8zM431 494h2v1h-2zM434 494h2v1h-2zM437 494h6v1h-6zM444 494h1v1h-1zM429 495h1v1h-1zM431 495h1v1h-1zM433 495h1v1h-1zM435 495h1v1h-1zM437 495h8v1h-8zM429 496h1v1h-1zM431 496h1v1h-1zM433 496h10v1h-10zM431 497h10v1h-10zM442 497h1v1h-1zM431 498h1v1h-1zM435 498h8v1h-8zM444 498h1v1h-1zM429 499h1v1h-1zM431 499h5v1h-5zM437 499h6v1h-6zM428 500h1v1h-1zM430 500h12v1h-12zM444 500h1v1h-1zM431 501h2v1h-2zM435 501h1v1h-1zM437 501h6v1h-6zM428 502h2v1h-2zM431 502h2v1h-2zM435 502h6v1h-6zM428 503h1v1h-1zM430 503h11v1h-11zM428 504h1v1h-1zM431 504h1v1h-1zM433 504h1v1h-1zM436 504h5v1h-5zM429 505h3v1h-3zM433 505h1v1h-1zM435 505h3v1h-3zM439 505h1v1h-1zM441 505h1v1h-1zM432 506h7v1h-7zM442 506h1v1h-1zM428 507h1v1h-1zM432 507h5v1h-5zM438 507h1v1h-1zM440 507h1v1h-1zM429 508h1v1h-1zM431 508h3v1h-3zM435 508h1v1h-1zM437 508h1v1h-1zM428 509h1v1h-1zM432 509h1v1h-1zM434 509h2v1h-2zM439 509h1v1h-1zM429 510h3v1h-3zM433 510h1v1h-1zM435 510h3v1h-3zM439 510h1v1h-1zM428 511h1v1h-1zM436 511h1v1h-1zM426 512h1v1h-1zM430 512h3v1h-3zM434 512h1v1h-1zM431 513h1v1h-1zM434 513h1v1h-1zM436 513h1v1h-1zM424 514h1v1h-1zM437 514h1v1h-1z"/>
<path fill="#b8453c" fill-opacity="0.5" d="M459 453h1v1h-1zM455 454h1v1h-1zM459 454h1v1h-1zM473 454h1v1h-1zM462 455h1v1h-1zM465 455h1v1h-1zM458 456h1v1h-1zM452 457h1v1h-1zM454 457h1v1h-1zM458 457h1v1h-1zM454 458h1v1h-1zM457 458h2v1h-2zM466 458h1v1h-1zM470 458h1v1h-1zM454 460h2v1h-2zM477 460h1v1h-1zM457 461h1v1h-1zM462 461h2v1h-2zM466 461h1v1h-1zM474 462h1v1h-1zM452 463h1v1h-1zM454 463h1v1h-1zM459 463h2v1h-2zM473 463h1v1h-1zM482 463h1v1h-1zM484 463h1v1h-1zM451 464h2v1h-2zM455 464h2v1h-2zM460 464h1v1h-1zM453 465h2v1h-2zM456 465h2v1h-2zM452 466h1v1h-1zM456 466h2v1h-2zM466 466h1v1h-1zM472 466h1v1h-1zM459 467h4v1h-4zM464 467h2v1h-2zM475 467h2v1h-2zM484 467h1v1h-1zM452 468h3v1h-3zM461 468h1v1h-1zM463 468h1v1h-1zM471 468h1v1h-1zM455 469h1v1h-1zM460 469h1v1h-1zM467 469h1v1h-1zM456 470h1v1h-1zM458 470h2v1h-2zM462 470h1v1h-1zM472 470h1v1h-1zM478 470h1v1h-1zM483 470h1v1h-1zM450 471h2v1h-2zM453 471h1v1h-1zM461 471h1v1h-1zM466 471h1v1h-1zM473 471h1v1h-1zM475 471h1v1h-1zM479 471h1v1h-1zM451 472h1v1h-1zM456 472h1v1h-1zM458 472h1v1h-1zM461 472h3v1h-3zM467 472h2v1h-2zM479 472h1v1h-1zM453 473h1v1h-1zM459 473h1v1h-1zM462 473h1v1h-1zM480 473h1v1h-1zM482 473h1v1h-1zM489 473h1v1h-1zM454 474h1v1h-1zM457 474h2v1h-2zM461 474h1v1h-1zM463 474h1v1h-1zM465 474h2v1h-2zM469 474h1v1h-1zM473 474h2v1h-2zM477 474h1v1h-1zM488 474h2v1h-2zM491 474h1v1h-1zM456 475h3v1h-3zM466 475h1v1h-1zM468 475h2v1h-2zM475 475h2v1h-2zM456 476h1v1h-1zM468 476h1v1h-1zM470 476h1v1h-1zM485 476h1v1h-1zM455 477h1v1h-1zM457 477h2v1h-2zM465 477h1v1h-1zM469 477h1v1h-1zM471 477h2v1h-2zM481 477h1v1h-1zM486 477h2v1h-2zM493 477h1v1h-1zM449 478h2v1h-2zM457 478h3v1h-3zM463 478h1v1h-1zM466 478h1v1h-1zM474 478h1v1h-1zM477 478h1v1h-1zM479 478h1v1h-1zM485 478h1v1h-1zM455 479h1v1h-1zM458 479h1v1h-1zM460 479h1v1h-1zM466 479h1v1h-1zM476 479h1v1h-1zM489 479h1v1h-1zM452 480h1v1h-1zM455 480h1v1h-1zM458 480h1v1h-1zM469 480h1v1h-1zM471 480h4v1h-4zM494 480h1v1h-1zM448 481h1v1h-1zM460 481h1v1h-1zM465 481h1v1h-1zM467 481h2v1h-2zM474 481h1v1h-1zM476 481h1v1h-1zM478 481h1v1h-1zM453 482h1v1h-1zM458 482h1v1h-1zM463 482h1v1h-1zM465 482h1v1h-1zM468 482h1v1h-1zM473 482h2v1h-2zM477 482h1v1h-1zM484 482h1v1h-1zM454 483h1v1h-1zM457 483h1v1h-1zM462 483h2v1h-2zM466 483h2v1h-2zM470 483h1v1h-1zM474 483h4v1h-4zM479 483h1v1h-1zM485 483h2v1h-2zM453 484h1v1h-1zM461 484h1v1h-1zM463 484h4v1h-4zM468 484h4v1h-4zM473 484h2v1h-2zM484 484h1v1h-1zM487 484h1v1h-1zM452 485h1v1h-1zM457 485h1v1h-1zM459 485h1v1h-1zM462 485h1v1h-1zM467 485h3v1h-3zM471 485h2v1h-2zM476 485h1v1h-1zM478 485h1v1h-1zM455 486h1v1h-1zM458 486h2v1h-2zM461 486h1v1h-1zM463 486h1v1h-1zM469 486h1v1h-1zM485 486h2v1h-2zM489 486h1v1h-1zM493 486h1v1h-1zM447 487h2v1h-2zM452 487h1v1h-1zM456 487h1v1h-1zM458 487h1v1h-1zM466 487h2v1h-2zM470 487h1v1h-1zM474 487h1v1h-1zM477 487h1v1h-1zM488 487h1v1h-1zM451 488h1v1h-1zM460 488h2v1h-2zM463 488h1v1h-1zM466 488h1v1h-1zM470 488h2v1h-2zM482 488h1v1h-1zM485 488h1v1h-1zM448 489h1v1h-1zM452 489h1v1h-1zM467 489h1v1h-1zM470 489h2v1h-2zM475 489h2v1h-2zM478 489h1v1h-1zM480 489h2v1h-2zM485 489h1v1h-1zM492 489h1v1h-1zM454 490h1v1h-1zM464 490h2v1h-2zM467 490h2v1h-2zM477 490h1v1h-1zM479 490h1v1h-1zM452 491h1v1h-1zM461 491h1v1h-1zM464 491h2v1h-2zM467 491h2v1h-2zM478 491h1v1h-1zM480 491h2v1h-2zM457 492h1v1h-1zM462 492h1v1h-1zM464 492h1v1h-1zM471 492h2v1h-2zM475 492h2v1h-2zM479 492h1v1h-1zM446 493h1v1h-1zM453 493h1v1h-1zM456 493h1v1h-1zM460 493h1v1h-1zM464 493h1v1h-1zM469 493h3v1h-3zM478 493h1v1h-1zM480 493h1v1h-1zM484 493h1v1h-1zM487 493h1v1h-1zM457 494h1v1h-1zM462 494h1v1h-1zM466 494h1v1h-1zM470 494h1v1h-1zM479 494h1v1h-1zM482 494h2v1h-2zM493 494h1v1h-1zM449 495h1v1h-1zM464 495h1v1h-1zM466 495h3v1h-3zM472 495h1v1h-1zM446 496h1v1h-1zM456 496h1v1h-1zM459 496h3v1h-3zM465 496h2v1h-2zM469 496h1v1h-1zM473 496h2v1h-2zM477 496h1v1h-1zM485 496h1v1h-1zM496 496h1v1h-1zM448 497h1v1h-1zM450 497h1v1h-1zM453 497h1v1h-1zM459 497h1v1h-1zM467 497h1v1h-1zM471 497h1v1h-1zM480 497h1v1h-1zM482 497h1v1h-1zM453 498h2v1h-2zM457 498h1v1h-1zM460 498h3v1h-3zM465 498h2v1h-2zM475 498h1v1h-1zM484 498h1v1h-1zM450 499h1v1h-1zM458 499h1v1h-1zM460 499h1v1h-1zM466 499h3v1h-3zM471 499h2v1h-2zM478 499h1v1h-1zM484 499h1v1h-1zM488 499h1v1h-1zM450 500h1v1h-1zM454 500h2v1h-2zM459 500h1v1h-1zM461 500h1v1h-1zM463 500h2v1h-2zM468 500h1v1h-1zM473 500h1v1h-1zM475 500h1v1h-1zM448 501h1v1h-1zM451 501h2v1h-2zM454 501h1v1h-1zM457 501h4v1h-4zM474 501h1v1h-1zM477 501h1v1h-1zM484 501h1v1h-1zM486 501h1v1h-1zM445 502h1v1h-1zM447 502h1v1h-1zM450 502h1v1h-1zM452 502h2v1h-2zM456 502h2v1h-2zM476 502h1v1h-1zM445 503h1v1h-1zM447 503h1v1h-1zM449 503h2v1h-2zM452 503h1v1h-1zM458 503h2v1h-2zM467 503h1v1h-1zM470 503h1v1h-1zM447 504h2v1h-2zM450 504h5v1h-5zM458 504h1v1h-1zM469 504h1v1h-1zM446 505h2v1h-2zM453 505h1v1h-1zM457 505h1v1h-1zM462 505h1v1h-1zM495 505h1v1h-1zM444 506h4v1h-4zM454 506h1v1h-1zM464 506h3v1h-3zM492 506h1v1h-1zM445 507h2v1h-2zM449 507h1v1h-1zM451 507h4v1h-4zM457 507h3v1h-3zM465 507h2v1h-2zM469 507h1v1h-1zM477 507h1v1h-1zM446 508h1v1h-1zM450 508h1v1h-1zM455 508h1v1h-1zM462 508h1v1h-1zM464 508h1v1h-1zM473 508h1v1h-1zM446 509h1v1h-1zM448 509h4v1h-4zM454 509h1v1h-1zM468 509h1v1h-1zM447 510h1v1h-1zM449 510h1v1h-1zM457 510h2v1h-2zM462 510h1v1h-1zM475 510h1v1h-1zM445 511h1v1h-1zM447 511h2v1h-2zM451 511h1v1h-1zM454 511h1v1h-1zM463 511h1v1h-1zM474 511h1v1h-1zM444 512h2v1h-2zM451 512h1v1h-1zM454 512h1v1h-1zM460 512h1v1h-1zM444 513h2v1h-2zM449 513h1v1h-1zM452 513h1v1h-1zM488 513h1v1h-1zM446 514h1v1h-1zM465 514h1v1h-1z"/>
<path fill="#ad4038" fill-opacity="0.75" d="M453 459h1v1h-1zM453 460h1v1h-1zM457 464h1v1h-1zM455 466h1v1h-1zM453 467h2v1h-2zM451 468h1v1h-1zM455 468h1v1h-1zM459 468h1v1h-1zM464 468h1v1h-1zM451 469h1v1h-1zM456 469h1v1h-1zM458 469h1v1h-1zM452 470h1v1h-1zM454 470h1v1h-1zM460 470h1v1h-1zM452 471h1v1h-1zM454 471h2v1h-2zM464 471h1v1h-1zM450 472h1v1h-1zM452 472h3v1h-3zM457 472h1v1h-1zM459 472h1v1h-1zM450 473h3v1h-3zM456 473h2v1h-2zM452 474h1v1h-1zM455 474h2v1h-2zM450 475h6v1h-6zM460 475h1v1h-1zM477 475h1v1h-1zM449 476h4v1h-4zM454 476h2v1h-2zM457 476h2v1h-2zM464 476h1v1h-1zM466 476h2v1h-2zM475 476h1v1h-1zM449 477h6v1h-6zM456 477h1v1h-1zM459 477h1v1h-1zM461 477h4v1h-4zM466 477h1v1h-1zM451 478h6v1h-6zM462 478h1v1h-1zM449 479h6v1h-6zM456 479h2v1h-2zM459 479h1v1h-1zM461 479h1v1h-1zM467 479h1v1h-1zM469 479h1v1h-1zM475 479h1v1h-1zM449 480h3v1h-3zM453 480h2v1h-2zM457 480h1v1h-1zM459 480h1v1h-1zM463 480h1v1h-1zM449 481h4v1h-4zM455 481h5v1h-5zM448 482h4v1h-4zM454 482h3v1h-3zM460 482h1v1h-1zM464 482h1v1h-1zM466 482h1v1h-1zM448 483h6v1h-6zM455 483h1v1h-1zM459 483h1v1h-1zM461 483h1v1h-1zM448 484h5v1h-5zM454 484h7v1h-7zM467 484h1v1h-1zM448 485h4v1h-4zM453 485h3v1h-3zM461 485h1v1h-1zM466 485h1v1h-1zM448 486h7v1h-7zM457 486h1v1h-1zM460 486h1v1h-1zM465 486h2v1h-2zM449 487h3v1h-3zM453 487h3v1h-3zM457 487h1v1h-1zM459 487h1v1h-1zM463 487h2v1h-2zM447 488h4v1h-4zM452 488h7v1h-7zM465 488h1v1h-1zM467 488h1v1h-1zM469 488h1v1h-1zM447 489h1v1h-1zM449 489h3v1h-3zM453 489h5v1h-5zM460 489h1v1h-1zM465 489h1v1h-1zM447 490h7v1h-7zM455 490h1v1h-1zM457 490h3v1h-3zM447 491h5v1h-5zM453 491h5v1h-5zM462 491h1v1h-1zM470 491h1v1h-1zM447 492h6v1h-6zM454 492h3v1h-3zM459 492h1v1h-1zM447 493h4v1h-4zM452 493h1v1h-1zM454 493h2v1h-2zM457 493h2v1h-2zM463 493h1v1h-1zM468 493h1v1h-1zM473 493h1v1h-1zM479 493h1v1h-1zM446 494h1v1h-1zM448 494h2v1h-2zM451 494h4v1h-4zM456 494h1v1h-1zM471 494h1v1h-1zM446 495h3v1h-3zM450 495h5v1h-5zM458 495h1v1h-1zM465 495h1v1h-1zM447 496h7v1h-7zM457 496h2v1h-2zM446 497h2v1h-2zM449 497h1v1h-1zM452 497h1v1h-1zM454 497h2v1h-2zM457 497h2v1h-2zM460 497h1v1h-1zM446 498h6v1h-6zM458 498h2v1h-2zM467 498h1v1h-1zM446 499h4v1h-4zM451 499h3v1h-3zM455 499h2v1h-2zM461 499h1v1h-1zM447 500h2v1h-2zM451 500h3v1h-3zM458 500h1v1h-1zM462 500h1v1h-1zM446 501h2v1h-2zM450 501h1v1h-1zM455 501h2v1h-2zM465 501h1v1h-1zM446 502h1v1h-1zM448 502h1v1h-1zM451 502h1v1h-1zM460 502h2v1h-2zM468 502h1v1h-1zM448 503h1v1h-1zM451 503h1v1h-1zM463 503h1v1h-1zM445 504h1v1h-1zM444 505h2v1h-2zM450 505h3v1h-3zM454 505h1v1h-1zM448 506h1v1h-1zM447 507h2v1h-2zM456 507h1v1h-1zM444 508h1v1h-1zM448 508h1v1h-1zM445 509h1v1h-1zM447 509h1v1h-1zM452 509h1v1h-1zM477 509h1v1h-1zM444 510h1v1h-1zM444 511h1v1h-1zM446 512h1v1h-1zM446 513h1v1h-1zM450 513h1v1h-1z"/>
</g>
<path d="M454.9 442.7H506.5V523.2H441.5Z" stroke="#d6393d" stroke-width="1.1" fill="none"/>
<path d="M387.0 426.2V543.2H511.40000000000003" stroke="#111" stroke-width="1.3" fill="none"/>
<line x1="383.4" y1="543.1" x2="387.0" y2="543.1" stroke="#111" stroke-width="1"/>
<text x="379.7" y="546.2" font-size="9.6" text-anchor="end" fill="#1a1a1a" textLength="4.9" lengthAdjust="spacingAndGlyphs" >0</text>
<line x1="385.2" y1="538.6" x2="387.0" y2="538.6" stroke="#111" stroke-width="0.8"/>
<line x1="385.2" y1="534.1" x2="387.0" y2="534.1" stroke="#111" stroke-width="0.8"/>
<line x1="385.2" y1="529.5" x2="387.0" y2="529.5" stroke="#111" stroke-width="0.8"/>
<line x1="385.2" y1="525.0" x2="387.0" y2="525.0" stroke="#111" stroke-width="0.8"/>
<line x1="383.4" y1="520.5" x2="387.0" y2="520.5" stroke="#111" stroke-width="1"/>
<text x="379.7" y="523.6" font-size="9.6" text-anchor="end" fill="#1a1a1a" textLength="10" lengthAdjust="spacingAndGlyphs" >50</text>
<line x1="385.2" y1="516.0" x2="387.0" y2="516.0" stroke="#111" stroke-width="0.8"/>
<line x1="385.2" y1="511.5" x2="387.0" y2="511.5" stroke="#111" stroke-width="0.8"/>
<line x1="385.2" y1="506.9" x2="387.0" y2="506.9" stroke="#111" stroke-width="0.8"/>
<line x1="385.2" y1="502.4" x2="387.0" y2="502.4" stroke="#111" stroke-width="0.8"/>
<line x1="383.4" y1="497.9" x2="387.0" y2="497.9" stroke="#111" stroke-width="1"/>
<text x="379.7" y="501.00000000000006" font-size="9.6" text-anchor="end" fill="#1a1a1a" textLength="15" lengthAdjust="spacingAndGlyphs" >100</text>
<line x1="385.2" y1="493.4" x2="387.0" y2="493.4" stroke="#111" stroke-width="0.8"/>
<line x1="385.2" y1="488.9" x2="387.0" y2="488.9" stroke="#111" stroke-width="0.8"/>
<line x1="385.2" y1="484.3" x2="387.0" y2="484.3" stroke="#111" stroke-width="0.8"/>
<line x1="385.2" y1="479.8" x2="387.0" y2="479.8" stroke="#111" stroke-width="0.8"/>
<line x1="383.4" y1="475.3" x2="387.0" y2="475.3" stroke="#111" stroke-width="1"/>
<text x="379.7" y="478.40000000000003" font-size="9.6" text-anchor="end" fill="#1a1a1a" textLength="15" lengthAdjust="spacingAndGlyphs" >150</text>
<line x1="385.2" y1="470.8" x2="387.0" y2="470.8" stroke="#111" stroke-width="0.8"/>
<line x1="385.2" y1="466.3" x2="387.0" y2="466.3" stroke="#111" stroke-width="0.8"/>
<line x1="385.2" y1="461.7" x2="387.0" y2="461.7" stroke="#111" stroke-width="0.8"/>
<line x1="385.2" y1="457.2" x2="387.0" y2="457.2" stroke="#111" stroke-width="0.8"/>
<line x1="383.4" y1="452.7" x2="387.0" y2="452.7" stroke="#111" stroke-width="1"/>
<text x="379.7" y="455.80000000000007" font-size="9.6" text-anchor="end" fill="#1a1a1a" textLength="15" lengthAdjust="spacingAndGlyphs" >200</text>
<line x1="385.2" y1="448.2" x2="387.0" y2="448.2" stroke="#111" stroke-width="0.8"/>
<line x1="385.2" y1="443.7" x2="387.0" y2="443.7" stroke="#111" stroke-width="0.8"/>
<line x1="385.2" y1="439.1" x2="387.0" y2="439.1" stroke="#111" stroke-width="0.8"/>
<line x1="385.2" y1="434.6" x2="387.0" y2="434.6" stroke="#111" stroke-width="0.8"/>
<line x1="383.4" y1="430.1" x2="387.0" y2="430.1" stroke="#111" stroke-width="1"/>
<text x="379.7" y="433.20000000000005" font-size="9.6" text-anchor="end" fill="#1a1a1a" textLength="15" lengthAdjust="spacingAndGlyphs" >250</text>
<line x1="419.5" y1="543.2" x2="419.5" y2="545.1" stroke="#111" stroke-width="0.8"/>
<line x1="425.0" y1="543.2" x2="425.0" y2="545.1" stroke="#111" stroke-width="0.8"/>
<line x1="428.9" y1="543.2" x2="428.9" y2="545.1" stroke="#111" stroke-width="0.8"/>
<line x1="431.9" y1="543.2" x2="431.9" y2="545.1" stroke="#111" stroke-width="0.8"/>
<line x1="434.3" y1="543.2" x2="434.3" y2="545.1" stroke="#111" stroke-width="0.8"/>
<line x1="436.4" y1="543.2" x2="436.4" y2="545.1" stroke="#111" stroke-width="0.8"/>
<line x1="438.2" y1="543.2" x2="438.2" y2="545.1" stroke="#111" stroke-width="0.8"/>
<line x1="439.8" y1="543.2" x2="439.8" y2="545.1" stroke="#111" stroke-width="0.8"/>
<line x1="450.1" y1="543.2" x2="450.1" y2="545.1" stroke="#111" stroke-width="0.8"/>
<line x1="455.2" y1="543.2" x2="455.2" y2="545.1" stroke="#111" stroke-width="0.8"/>
<line x1="458.9" y1="543.2" x2="458.9" y2="545.1" stroke="#111" stroke-width="0.8"/>
<line x1="461.7" y1="543.2" x2="461.7" y2="545.1" stroke="#111" stroke-width="0.8"/>
<line x1="464.1" y1="543.2" x2="464.1" y2="545.1" stroke="#111" stroke-width="0.8"/>
<line x1="466.0" y1="543.2" x2="466.0" y2="545.1" stroke="#111" stroke-width="0.8"/>
<line x1="467.8" y1="543.2" x2="467.8" y2="545.1" stroke="#111" stroke-width="0.8"/>
<line x1="469.3" y1="543.2" x2="469.3" y2="545.1" stroke="#111" stroke-width="0.8"/>
<line x1="479.2" y1="543.2" x2="479.2" y2="545.1" stroke="#111" stroke-width="0.8"/>
<line x1="484.2" y1="543.2" x2="484.2" y2="545.1" stroke="#111" stroke-width="0.8"/>
<line x1="487.8" y1="543.2" x2="487.8" y2="545.1" stroke="#111" stroke-width="0.8"/>
<line x1="490.6" y1="543.2" x2="490.6" y2="545.1" stroke="#111" stroke-width="0.8"/>
<line x1="492.9" y1="543.2" x2="492.9" y2="545.1" stroke="#111" stroke-width="0.8"/>
<line x1="494.8" y1="543.2" x2="494.8" y2="545.1" stroke="#111" stroke-width="0.8"/>
<line x1="496.4" y1="543.2" x2="496.4" y2="545.1" stroke="#111" stroke-width="0.8"/>
<line x1="497.9" y1="543.2" x2="497.9" y2="545.1" stroke="#111" stroke-width="0.8"/>
<line x1="410.2" y1="543.2" x2="410.2" y2="545.4000000000001" stroke="#111" stroke-width="1"/>
<text x="404.4" y="557.9" font-size="9" fill="#1a1a1a">10<tspan font-size="6.5" dy="-3.6">2</tspan></text>
<line x1="441.2" y1="543.2" x2="441.2" y2="545.4000000000001" stroke="#111" stroke-width="1"/>
<text x="435.4" y="557.9" font-size="9" fill="#1a1a1a">10<tspan font-size="6.5" dy="-3.6">3</tspan></text>
<line x1="470.6" y1="543.2" x2="470.6" y2="545.4000000000001" stroke="#111" stroke-width="1"/>
<text x="464.8" y="557.9" font-size="9" fill="#1a1a1a">10<tspan font-size="6.5" dy="-3.6">4</tspan></text>
<line x1="499.2" y1="543.2" x2="499.2" y2="545.4000000000001" stroke="#111" stroke-width="1"/>
<text x="493.4" y="557.9" font-size="9" fill="#1a1a1a">10<tspan font-size="6.5" dy="-3.6">5</tspan></text>
<rect x="396.6" y="543.2" width="3.4" height="1.6" fill="#111"/>
<line x1="392.1" y1="543.2" x2="392.1" y2="544.5" stroke="#111" stroke-width="0.6"/>
<line x1="394.1" y1="543.2" x2="394.1" y2="544.5" stroke="#111" stroke-width="0.6"/>
<line x1="402.6" y1="543.2" x2="402.6" y2="544.5" stroke="#111" stroke-width="0.6"/>
<line x1="405.6" y1="543.2" x2="405.6" y2="544.5" stroke="#111" stroke-width="0.6"/>
<text x="449.45" y="420.2" font-size="11.3" text-anchor="middle" fill="#1a1a1a" textLength="78.7" lengthAdjust="spacingAndGlyphs" >ATF4 sgRNA #2</text>
<text x="481.9" y="438.7" font-size="9.8" text-anchor="middle" fill="#1a1a1a" textLength="29" lengthAdjust="spacingAndGlyphs" >18.31%</text>
</g>
<path d="M22.5 545.5V567.8H47.5" stroke="#111" stroke-width="1.1" fill="none"/>
<path d="M22.5 541.2L19.9 547.2H25.1Z M51.2 567.8L45.2 565.2V570.4Z" fill="#111"/>
<text x="55.6" y="572.3" font-size="9.9" text-anchor="start" fill="#1a1a1a" textLength="32.6" lengthAdjust="spacingAndGlyphs" >HbF-APC</text>
<text x="27.4" y="536.2" font-size="9.6" text-anchor="start" fill="#1a1a1a" textLength="47.4" lengthAdjust="spacingAndGlyphs" transform="rotate(-90 27.4 536.2)" >FSC (x1000)</text>
<text x="8.2" y="18.3" font-size="13.6" text-anchor="start" fill="#111" font-weight="bold" textLength="10" lengthAdjust="spacingAndGlyphs" >A</text>
<text x="340.3" y="18.3" font-size="13.4" text-anchor="start" fill="#111" font-weight="bold" >B</text>
<text x="8.4" y="416.9" font-size="13.4" text-anchor="start" fill="#111" font-weight="bold" >C</text>
<rect x="0.6" y="0.6" width="518.8" height="579.8" fill="none" stroke="#000" stroke-width="1.25"/>
</svg></body></html>
